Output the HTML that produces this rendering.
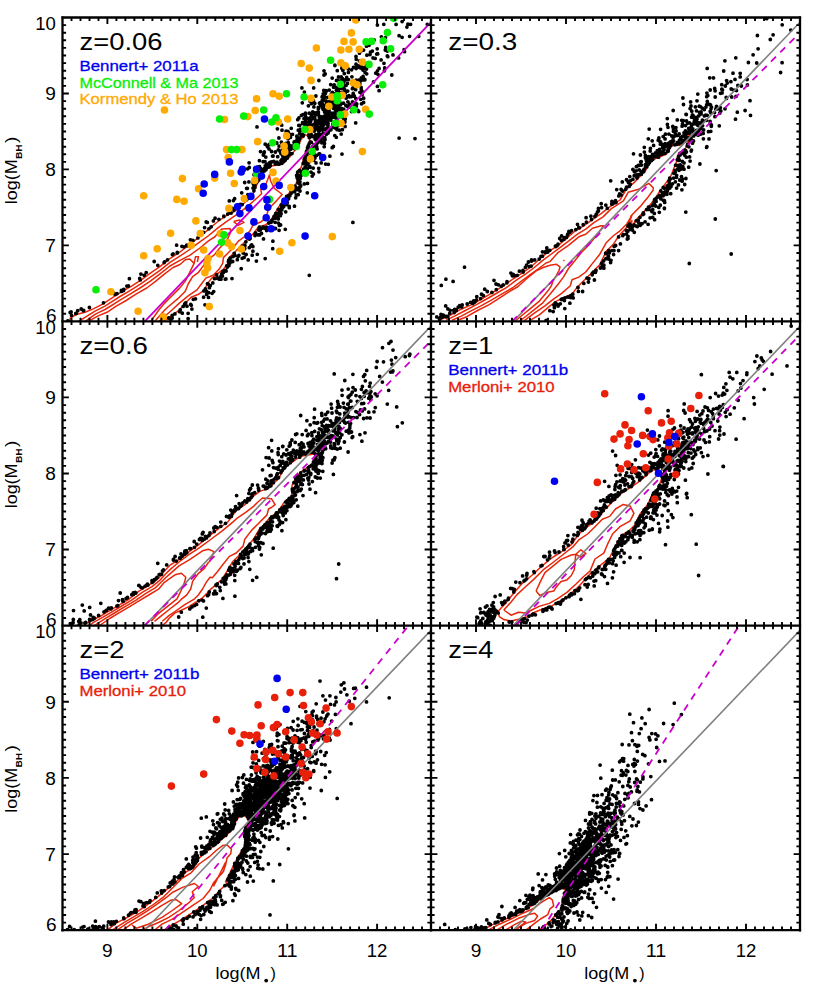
<!DOCTYPE html>
<html><head><meta charset="utf-8"><title>log(MBH) vs log(M*)</title>
<style>html,body{margin:0;padding:0;background:#fff}svg{display:block}</style></head>
<body>
<svg width="817" height="1000" viewBox="0 0 817 1000" font-family="Liberation Sans, sans-serif">
<rect width="817" height="1000" fill="#fff"/>
<clipPath id="c0"><rect x="62.5" y="17.5" width="368.5" height="303.9"/></clipPath>
<clipPath id="c1"><rect x="431" y="17.5" width="369" height="303.9"/></clipPath>
<clipPath id="c2"><rect x="62.5" y="321.4" width="368.5" height="304.2"/></clipPath>
<clipPath id="c3"><rect x="431" y="321.4" width="369" height="304.2"/></clipPath>
<clipPath id="c4"><rect x="62.5" y="625.6" width="368.5" height="304.6"/></clipPath>
<clipPath id="c5"><rect x="431" y="625.6" width="369" height="304.6"/></clipPath>
<g clip-path="url(#c0)">
<path d="M76 323L95 311.2L100 308.7L105 306.1L110 302.9L120 296.5L130 290.6L140 284.4L150 277.4L160 270.3L170 262.3L179 256.7L189.7 249.5L198.5 242.9L208.8 235.5L217.6 228.2L226.4 221.6L235.2 215.7L244 209.1L252.8 201.8L261.6 193.7L260.8 189.6L265.7 184.7L269.4 174.9L270.6 181L274.3 188.3L279.2 192L282.2 194.5L276.7 200.6L271.8 205.5L268.2 210L266 217.9L260.2 222.3L252.8 225.3L249.9 231.1L244 237L238.1 241.4L233.7 247.3L227.8 253.2L223.4 257.6L222.7 263.4L219 269.3L213.2 275.2L205.8 278.1L201.4 284L197 289.9L188.2 295.8L179.4 303.1L172 310L157.2 323" fill="none" stroke="#e8260a" stroke-width="1.5" stroke-linejoin="round"/>
<path d="M83 323L95 314.4L100 311.9L105 309.5L110 306.5L120 300.2L130 294.2L140 288L150 281.4L160 273.9L170 266L179 260.8L189.7 255.4L199.9 248L208.8 240.7L214.6 237L219 231.9L222 228.9L230 228.5L230.8 231.9L227.8 238.5L223.4 244.3L219 248.8L214.6 254.6L208.8 259L202.9 266.4L198.5 272.3L192.6 276.7L188.2 284L185.3 291.3L177.9 298.7L169.1 306L164.7 310L153.3 323" fill="none" stroke="#e8260a" stroke-width="1.5" stroke-linejoin="round"/>
<path d="M90 323L90.8 319.9L98.2 315.9L107 312.3L115.8 306.4L126.1 300.5L136.4 293.9L146.7 288L155.5 281.4L164.3 274.1L173.1 267.5L180 264.5L185.3 259.8L189.7 259L194.1 263.4L189.7 272.3L185.3 281.1L179.4 288.4L172 295.8L164.7 303.1L158.8 310L149.6 323" fill="none" stroke="#e8260a" stroke-width="1.5" stroke-linejoin="round"/>
<path d="M194.1 263.4L195.5 256.8L198.5 256.8L197.3 262" fill="none" stroke="#e8260a" stroke-width="1.5" stroke-linejoin="round"/>
<path d="M233.7 221.6L239.6 220.1L244 222.3L238.1 225.3L233.7 221.6" fill="none" stroke="#e8260a" stroke-width="1.5" stroke-linejoin="round"/>
<path d="M69 323L70.3 318.1L76.2 314.5L85 312.3L93.8 308.6L102.6 304.2L111.4 298.3L121.7 291.7L132 285.8L142.3 279.2L151.1 272.6L159.9 266.7L168.7 259.4L180 252L189.7 244.3L198.5 237.7L207.3 230.4L216.1 223L224.9 216.4L233.7 212L241.1 206.2L246.9 200.3L252.8 194.4L258.4 181L264.5 171.2L270.6 166.3L281.6 163.9L289 157.7L293.9 151.6L297.5 146.7L301.2 139.4L304.9 134.5L308.5 136.3L310 140.6L306.1 150.4L303.6 159L301.2 167.5L297.5 171.2L296.3 174.9L297.5 179.8L295.1 185.9L289 193.2L285.3 198.1L280.4 204.2L270 221.6L264.6 225.3L258.7 226.7L252.8 234.1L246.9 239.9L241.1 245.8L235.2 251.7L229.3 257.6L227.8 263.4L223.4 269.3L217.6 273.7L211.7 278.1L207.3 284L204.3 289.9L198.5 294.3L191.1 297.2L183.8 304.6L179.4 310L161.4 323Z" fill="none" stroke="#e8260a" stroke-width="1.5" stroke-linejoin="round"/>
<path d="M67.8 321h0M68.5 321.4h0M71.5 315.3h0M70.2 312.4h0M71.1 312h0M76.2 313.4h0M75.8 313.4h0M77.7 310.7h0M81.2 309h0M83.5 310.7h0M83.7 310.3h0M89.4 307.5h0M103.5 302.8h0M113.9 293.5h0M115.2 294.3h0M117 293.6h0M121.5 290.7h0M121.5 291.4h0M123.5 290.6h0M123.8 289.5h0M121.4 290.3h0M126.9 286.1h0M128.4 286h0M129.4 278.7h0M140.2 279.9h0M139.7 278.4h0M168.7 318h0M172.2 318.1h0M140.9 274.1h0M171 319.6h0M144.2 275.3h0M172.2 315.5h0M146.2 272.6h0M174.9 313.9h0M179.5 311.7h0M182.3 313.2h0M180.3 309.8h0M188.1 318.6h0M188.1 313.3h0M183.2 306.4h0M154.2 261.5h0M157.8 265.3h0M184.7 303.9h0M187 306.2h0M191.9 309.1h0M185.7 302.8h0M190.7 304.4h0M191.3 305.3h0M164.6 261.8h0M164.2 262.5h0M167.5 259.8h0M193.3 299.3h0M195.5 298.8h0M205 304.8h0M172.4 254.6h0M203.6 297.2h0M173.1 253.9h0M208.5 297.4h0M206.6 294.4h0M177.2 252.9h0M203.9 290.9h0M206.4 291.1h0M177.3 252.5h0M208.6 292.7h0M207.4 292.3h0M176.6 245.2h0M205.4 288.9h0M212.1 293.3h0M213.7 291.6h0M208.7 284.6h0M209.4 287.7h0M210.3 285.6h0M207.5 283.7h0M183.9 246.8h0M212.8 282.9h0M181.9 246.3h0M214.5 278.7h0M187.1 245.8h0M221 279.2h0M216.6 275h0M186.7 245.2h0M217.7 278.4h0M219.4 279.2h0M219.9 277.5h0M225.3 279.2h0M221.2 275.8h0M225.9 279h0M221.7 273.9h0M223 272.2h0M222.4 276h0M190.4 239.8h0M223.4 272.4h0M192.9 240.4h0M222.8 271.5h0M226.1 271.1h0M232 278.6h0M224.4 270.6h0M225.8 270.4h0M197.9 237.9h0M226.7 266h0M227.4 267.1h0M228.9 265.7h0M230.1 262.7h0M229.6 260.9h0M229 264.7h0M228.4 261.8h0M232.7 261.5h0M228.7 260.1h0M203.5 232.4h0M229.8 259.4h0M230.1 258.6h0M230.1 258.1h0M204.6 227.6h0M232.9 256.6h0M237.3 259.7h0M208.9 228.8h0M206.2 222h0M234.9 255.3h0M234.4 255.7h0M234.2 253.3h0M207.3 222.4h0M238.9 255.3h0M238.1 256.6h0M211.2 226.8h0M242.2 258.3h0M248.2 259.9h0M244.1 257.4h0M213.4 220.9h0M243.2 253.1h0M215.1 218.2h0M240.6 247.8h0M244 249.4h0M242 246.1h0M241.4 249.5h0M244.1 247.4h0M244.8 248.3h0M244.9 245.5h0M218.9 219.3h0M249.3 247.7h0M245.9 241.8h0M252.9 251.2h0M257.3 254.3h0M223.9 216.6h0M223.8 216.2h0M250.9 245.7h0M251.7 244.9h0M250.1 238.4h0M252.9 246.5h0M249.5 239h0M227.7 214.1h0M255 235.5h0M229.8 212.2h0M272.7 248.7h0M255 234.1h0M231.1 213h0M255.6 233h0M258.3 234.9h0M263.5 238.9h0M260 234.3h0M234 210.1h0M259.7 234.9h0M259.2 230.2h0M261.5 233.4h0M232.3 208.4h0M258.6 229.8h0M272.9 241.2h0M260.4 229.8h0M259.4 227.2h0M229.3 200.9h0M264.9 228.3h0M238.7 206.5h0M266.6 230.6h0M233.4 200.6h0M263.3 227.1h0M267.7 229.4h0M262.5 228.1h0M239.4 204.6h0M240.9 204.4h0M267.5 227.7h0M234.6 198.7h0M266.6 227.1h0M242.2 204.6h0M273.1 227.8h0M268.7 223h0M275.5 228.5h0M269.9 222.2h0M271.9 220.8h0M271 222.4h0M279.1 230.3h0M246.7 199.7h0M275.1 222.3h0M246.1 198.9h0M272 220.1h0M241.7 192.8h0M248.1 197.5h0M248.3 198.2h0M285.3 229.3h0M279.4 225.4h0M274.1 217.5h0M273.9 218.3h0M247.9 194.7h0M275.5 216.6h0M275.7 218.1h0M249.5 195.9h0M280.6 224.9h0M278.3 218.9h0M274 216.7h0M246.6 188.3h0M278.4 223.1h0M247.4 188.3h0M276.2 216.2h0M244.7 182.5h0M277.5 216.7h0M253.9 190.8h0M277.2 216.3h0M275.7 214h0M253 188.1h0M248.9 181.9h0M275.9 213.5h0M253.4 184.1h0M278.7 213h0M254.1 186.1h0M280.4 215.7h0M254.9 187.4h0M252.8 182.3h0M278.3 209.4h0M253.9 185.2h0M279.1 210.2h0M254.8 185.3h0M253.8 181.1h0M281.1 213.7h0M253 180.9h0M280.2 210.9h0M281.8 209.9h0M256.6 182.4h0M285.7 211.8h0M257.8 181h0M281.5 207.8h0M257.1 180.1h0M281.7 206.5h0M281.4 205h0M256 179.5h0M258.8 180.1h0M282.8 207.6h0M247.6 168.8h0M254 174.7h0M283.7 206.4h0M249.3 167.5h0M283.5 204.6h0M258.8 175.9h0M289.2 206.3h0M255.3 168.8h0M286 203.3h0M249.1 162.8h0M289.3 207.7h0M257.8 171h0M285.1 202h0M257.3 170.8h0M284.9 201.6h0M258.2 170.1h0M287.3 202.6h0M260.8 174.5h0M260 173.3h0M286.8 204.6h0M259.7 170h0M259.5 166.6h0M287.2 199.5h0M262.3 172.4h0M287 199.2h0M257.2 167.2h0M286.8 197.8h0M288.6 198.8h0M262.3 169.8h0M263.3 170.6h0M294.5 206.2h0M260.6 168.4h0M286.6 196.4h0M261.9 171h0M289.8 195.8h0M265.9 169.7h0M288.5 195.7h0M264.7 170.8h0M289.3 195.8h0M265.2 170.1h0M291 193.6h0M265.7 165.7h0M291.1 191.2h0M265.7 168.7h0M295.7 197.8h0M265.3 169h0M291.5 192.1h0M264.5 168.3h0M298.2 194.7h0M291.5 191h0M259.4 160.7h0M292.4 191.8h0M263.2 161.7h0M294.7 191.8h0M267.4 167.3h0M292.8 190.8h0M265.3 165.8h0M296.3 195.1h0M266.6 164.5h0M300 191h0M269.6 166.8h0M295.5 188.8h0M269.9 164.7h0M268.8 163.6h0M297.4 188.5h0M265 161.7h0M297.6 189.5h0M295.4 189.4h0M270.4 165.3h0M297.1 188.4h0M265.8 157.1h0M297.6 188.9h0M269.7 162.7h0M270.8 162.7h0M295.1 186.2h0M263.3 155h0M271.4 161.9h0M300 184.6h0M275.3 164.1h0M299.1 188h0M273.8 161.3h0M299.9 187h0M260.5 151.6h0M273.8 161.5h0M300.7 186h0M264.3 152h0M263.9 153.3h0M298 182.9h0M275.7 162.6h0M278.4 164h0M278.3 164h0M298.2 181h0M277.1 162.2h0M276.2 163.3h0M300 181.8h0M279.4 164h0M304.3 183.9h0M276.9 162.7h0M297.6 178.7h0M272.5 156.1h0M281.8 162.9h0M300.3 178.3h0M282 163.3h0M297.1 177.7h0M267.5 146.7h0M298.3 175.6h0M281.7 162.7h0M296.6 175.4h0M281.6 160h0M299 177.7h0M283.5 158.8h0M283.6 161.7h0M307.5 183.4h0M284.3 160.3h0M299 176h0M285.3 160h0M297.6 172.2h0M283.9 161.5h0M282.8 159.1h0M300.6 175.1h0M285.6 158.6h0M301.1 175.6h0M282.5 155.3h0M301.4 172.3h0M280.9 160.8h0M302.9 171.3h0M282.8 161.5h0M299.6 170.3h0M303.5 170.2h0M282.9 161.2h0M313.4 174h0M277.7 156.7h0M273.1 156h0M303.5 169.2h0M285.2 160.3h0M282.8 158.7h0M306.9 169.5h0M271.5 151.5h0M283.4 159.6h0M306 168.3h0M283.1 157.8h0M311 172.1h0M283.1 157.5h0M286 158.2h0M305.1 167.2h0M275.3 152h0M269 148.9h0M305.6 167.7h0M283.9 159.8h0M318.9 171.8h0M287.3 158h0M307.4 168.5h0M284.9 156.4h0M275.4 152.1h0M305.8 166.9h0M283.9 155.4h0M309.7 166.4h0M280.9 153.5h0M306.4 164.7h0M284.9 154.1h0M287.5 156.6h0M310.1 167.3h0M303.3 163.5h0M265.2 144.2h0M266.7 145.1h0M313.2 168.1h0M280.2 151.6h0M285.9 153h0M306.1 164.7h0M282 153.8h0M288.8 155.1h0M307.8 163.4h0M278.3 149.8h0M318.7 168.3h0M286.7 152.7h0M269.5 144.5h0M306.7 163.9h0M290.9 153.8h0M306.9 160.2h0M290.4 153.6h0M287 152.9h0M304.4 161.1h0M288.5 152h0M304.5 161h0M292 153.6h0M282.3 149.6h0M304.3 158.9h0M288.6 151.3h0M282.7 151.1h0M308.7 162.2h0M290.5 149h0M306.9 160.5h0M316 162.9h0M282.8 146.6h0M305 158.2h0M310.5 158.5h0M284.4 147.5h0M279.1 146.2h0M307.5 156.6h0M313.3 160h0M291 149h0M305.6 155.2h0M276.8 143h0M310.3 158.7h0M282.4 144.2h0M313.6 160.2h0M285.9 143.5h0M289.1 146.7h0M321.2 162.9h0M294.5 148.6h0M306.4 153.8h0M292.9 147.7h0M291.6 147.5h0M325.6 164.1h0M289 147.9h0M314.9 158h0M291 145.8h0M307.3 151.5h0M294 146.6h0M295.8 144.8h0M306.4 153.2h0M289 144.9h0M281.4 142.2h0M328.3 164.3h0M278.9 138h0M316.5 155.4h0M310.1 153.2h0M288.3 142.7h0M308 152.9h0M297.4 144.8h0M296.6 145.2h0M306.5 151.4h0M314 154.5h0M295.2 144.5h0M295.9 145.5h0M313.4 153.8h0M294.6 143.8h0M298.1 145h0M311 151.9h0M294.1 142.5h0M288.1 138.8h0M307.5 147.8h0M308.5 149.9h0M296.4 142.6h0M287.9 138.7h0M319.7 153.8h0M296.6 144.1h0M312.3 149.9h0M294.3 144.7h0M298.5 142.9h0M329.9 156.2h0M294.3 142.8h0M319 154h0M257 126.9h0M308.1 147.7h0M294.8 142.1h0M294.2 141.8h0M308.2 145.9h0M296.4 141.6h0M308.1 146.2h0M296.4 140.7h0M308.2 146.3h0M297.3 140.9h0M316.3 148.2h0M298.8 139.4h0M299.1 139.8h0M314.2 145h0M312.4 146.9h0M298.2 138.5h0M315.1 145.7h0M290.4 137.4h0M298.5 138.3h0M317.1 148.9h0M297.5 138.8h0M287.2 136h0M309.2 143.8h0M299.9 137.8h0M310.1 142.2h0M316.7 146.6h0M292.5 134.3h0M316.3 144.8h0M289.3 133.8h0M297.2 137.8h0M311.1 142.2h0M287.8 131.3h0M296.8 136.2h0M311.4 142.4h0M282 130.2h0M291.2 134.8h0M324.2 146.7h0M286.1 131.2h0M277.4 128.8h0M342 154.1h0M303.3 135.2h0M318 142.6h0M288.2 132.2h0M301.4 135.5h0M303.2 136h0M315.8 139.8h0M299.6 133.7h0M317 139.7h0M316.7 139.7h0M281.7 125.2h0M309.3 137.6h0M316 138.2h0M302.3 134.1h0M315.1 139.1h0M299.4 130.9h0M309.5 135.5h0M316.8 137.5h0M333.4 146.5h0M298.3 130.2h0M308.7 135.4h0M315.6 138.2h0M300.7 129.5h0M301.4 130.1h0M309.9 136.4h0M298.8 125.4h0M289.2 118.6h0M310.5 136h0M315.3 138.6h0M308.9 134.6h0M299.6 125.6h0M311.1 134.2h0M316.9 137.9h0M304.2 128.7h0M313.7 136.4h0M305.7 129.4h0M304.9 128.3h0M312.2 136.5h0M321.8 142.8h0M305.6 126.9h0M309 131.4h0M324.5 143.4h0M320.6 138.3h0M309.7 130.3h0M306.8 129.9h0M320.7 140.6h0M323.9 142.7h0M309.7 132.2h0M306.4 129.3h0M318.5 139.3h0M309.4 129.2h0M304.6 127.3h0M320.1 137.9h0M319.4 136.9h0M297.7 119.7h0M302.5 123.4h0M332.2 147.7h0M316.1 135.7h0M308.8 129.4h0M304.2 123.9h0M324 141.9h0M314.2 131.1h0M307.6 126.6h0M308.7 126.8h0M315.7 134.6h0M322.2 138.6h0M302.6 122.7h0M312.5 130.1h0M322.7 138.2h0M324.1 138.5h0M308 125.7h0M314.4 128.6h0M324.9 139h0M322.9 137.5h0M298.9 118h0M305.7 123.2h0M318.8 133.7h0M310.5 128.4h0M310 127.8h0M321.3 134.9h0M325 139.7h0M310.9 126.4h0M309.1 124.8h0M324.7 137.7h0M305.6 119.5h0M310.5 125.7h0M317.1 128.9h0M321.2 134.7h0M310.3 122.2h0M323.5 133.1h0M318 129.8h0M304 118.6h0M311.8 125.7h0M318.3 130.5h0M316 127.7h0M305.4 121.2h0M313.6 124.6h0M316.7 128.1h0M317.3 127.1h0M302.9 114.7h0M314.9 124.6h0M322.4 134.2h0M323.3 133.4h0M308.9 122.2h0M314.1 124.1h0M316.7 126.7h0M319.8 130.6h0M309.2 121.5h0M315.5 124h0M319.6 127.5h0M320.8 128.3h0M305.7 117.1h0M322.2 129.8h0M320.6 129.6h0M301.4 115.3h0M307.8 118.4h0M317.6 129h0M326.9 133.2h0M317.2 124.6h0M311 120.3h0M320.7 127.4h0M325.8 133h0M315.5 123.4h0M310.8 117.5h0M321.4 126.1h0M328.1 132.9h0M317.7 121.2h0M327.4 133.3h0M327.5 132.5h0M305.5 113.1h0M322.8 128.5h0M326.4 134.3h0M305.5 114.3h0M311.8 118.7h0M326.9 129.3h0M324.4 129.2h0M314.6 116.9h0M318.6 121.9h0M320.1 123.6h0M336.3 137.3h0M309.3 113.2h0M315.4 121h0M328.4 131.8h0M322.1 124.4h0M318.6 121.5h0M311.2 114.6h0M327.9 129.8h0M323.7 125.2h0M319.5 120.7h0M312.6 117.3h0M334.8 135.6h0M314.9 119.1h0M319.5 121h0M329.8 129.2h0M322.9 124h0M319 120.1h0M326.8 128.3h0M322.7 123h0M311.5 114.8h0M312.7 111.8h0M330.9 129.8h0M328 125.8h0M313 113.5h0M321.7 120.6h0M328.2 129.1h0M322.6 119.8h0M315.6 114.8h0M302.3 102.8h0M326.1 123.4h0M323 121.4h0M321.5 118.6h0M319.2 120.2h0M323.8 124.9h0M324.4 122.1h0M321 120.7h0M327 121.4h0M333.1 126.9h0M319.3 117.1h0M321 116.9h0M325.4 121.5h0M323.1 122.4h0M308.4 105.8h0M315.3 113h0M327.4 122.5h0M328.1 123.6h0M317.5 112.4h0M325.3 120h0M341.2 134.1h0M320.6 117h0M322.8 117h0M337.1 129.7h0M336.5 127.8h0M318.5 114.6h0M325.6 119.3h0M327.8 121h0M324.2 116.1h0M339.5 130.2h0M334.8 127.8h0M318.4 112.2h0M323.6 117.5h0M342.4 129.7h0M325.3 117.2h0M323.8 116.7h0M330.9 120.2h0M324.1 117.8h0M313.9 106.9h0M330.7 117.4h0M325.5 116.8h0M311.4 103.6h0M325.9 114.6h0M332.9 123.9h0M333.3 125h0M309.9 100.9h0M318.3 107.5h0M330.8 118.3h0M318.3 108.9h0M327.9 117.7h0M328.2 115.3h0M324.6 112h0M328 117.7h0M325.8 115.3h0M310.1 99.4h0M328.7 115.8h0M320.8 105.2h0M339 125.4h0M328.8 115.9h0M327.3 112.8h0M314.8 103.3h0M331.5 117.5h0M313.5 100.9h0M323.2 109.4h0M335.6 121.2h0M338.9 122.6h0M323.4 107.8h0M326 109.9h0M337.8 121.9h0M333.6 117.1h0M322.2 107.7h0M324.9 110.3h0M336.4 120.1h0M342.3 122.3h0M319.5 103.2h0M333.7 116.6h0M328.7 110.4h0M323.9 105.3h0M332.3 114.3h0M336.5 117.3h0M327.4 111h0M345.1 126.5h0M333.2 113.1h0M321.1 102.3h0M301.9 87.9h0M341.8 122.7h0M323.7 105.3h0M330.4 112.9h0M323.6 105.8h0M328.7 108.2h0M335.7 117.2h0M335.3 113.7h0M329.2 109.7h0M334.6 113.6h0M325.9 105h0M315.9 96h0M335.2 113.5h0M344.9 122h0M322.3 103.6h0M343.5 118.4h0M322.3 100.3h0M339.3 114.2h0M344 120.4h0M330.4 107.3h0M345.3 119h0M338.7 113.1h0M326.4 102h0M342 116.8h0M333.5 108.3h0M322.6 100.7h0M343.5 112.3h0M323.3 98.8h0M329.9 105.2h0M342.4 112.6h0M330.4 104.1h0M326 101h0M336.2 108.7h0M338.6 110.8h0M332.9 105.7h0M336.1 108.2h0M337.6 107.7h0M322.3 96.7h0M333.6 106.3h0M335.7 110.3h0M355.7 122.9h0M332.7 103.4h0M339.4 107.9h0M336.6 107.2h0M322.1 96.9h0M324.1 95.4h0M342 110.2h0M329.8 102.4h0M341 110.2h0M325.1 97.2h0M329.3 101.7h0M340.2 108.6h0M323.2 93.8h0M341.6 109.8h0M331.1 99.9h0M337.6 104.2h0M313.7 87.9h0M335.7 103.6h0M339.1 105.5h0M331.3 98h0M335.5 100.5h0M339.7 103.5h0M341.4 108.5h0M328 97.3h0M343.7 109.2h0M335.5 101.6h0M331.1 96.7h0M351.5 111.6h0M325.4 93.4h0M334.2 99.1h0M338.8 105.4h0M334 100.7h0M335.9 100.4h0M340.6 104.4h0M323.8 90.5h0M339.7 101.8h0M333.9 94.9h0M340.7 103.7h0M332.4 92.4h0M326.2 91.2h0M347.6 106.5h0M325.9 90.6h0M345.9 105.5h0M333.8 95h0M349.7 106.8h0M339.5 95.6h0M343.5 103.2h0M332.3 94.8h0M349.7 104.3h0M335.4 94.6h0M350.3 107.3h0M331.4 93.8h0M358.7 111.6h0M335.7 93.3h0M341.3 97.1h0M329.2 90.1h0M357.9 110.4h0M318.9 80.5h0M347.9 101.8h0M341.6 97h0M335.7 93.3h0M346.1 98.2h0M340.7 95.9h0M339.2 94.1h0M342 96h0M336.4 90.2h0M356.3 106.2h0M342 92.8h0M353.7 104h0M355 102.7h0M330.7 84.6h0M346.5 97.5h0M340.2 92.8h0M349.4 96.8h0M338.1 90.7h0M345.7 96.4h0M333.6 87.2h0M352.5 101.8h0M334.2 84.8h0M345 92.5h0M343.2 92.9h0M352.8 96.2h0M339.3 88.3h0M356.7 104h0M336.9 87.5h0M348.9 95.6h0M341.6 88.7h0M345.2 92.9h0M340.9 88.6h0M351.5 96.6h0M344.6 89.6h0M361.5 103.8h0M332.2 78.1h0M355.8 98.4h0M344.7 89.7h0M352.7 95.7h0M325.2 74h0M353.2 93.5h0M343.8 87h0M354.3 96h0M339.2 82.4h0M363.6 102.5h0M338.5 81h0M360.7 99.3h0M340.9 84h0M336.5 80.4h0M347.7 91.1h0M346 85.4h0M363.7 98.2h0M343.2 83.1h0M352.4 88.7h0M344.2 80.9h0M353.6 88.3h0M341.3 80.6h0M347.4 83.5h0M352.9 87.8h0M362.1 94.7h0M342.5 78.7h0M341.3 76.9h0M355.7 89.7h0M338.5 77h0M359.9 92.3h0M337.3 70.7h0M355.8 86.6h0M345.2 79.9h0M353.8 85.7h0M346.7 77.4h0M362.9 91.8h0M361.3 89.3h0M348.4 79.6h0M355.2 83.5h0M356.3 86.2h0M361.1 87.4h0M334.9 65.6h0M334.9 65.2h0M344.3 73.6h0M359.8 83.7h0M351.9 76.8h0M356.1 80.2h0M348.4 72.4h0M358.8 80.2h0M342.9 70.4h0M360.4 80.9h0M343.1 68.7h0M341.8 68.2h0M363.3 79.9h0M348.3 69h0M342.3 66.4h0M340 64h0M361.1 78.7h0M379.1 90.7h0M351.6 69.8h0M364.9 79.8h0M361.4 77.9h0M364.8 79.4h0M377.4 86.4h0M363.1 76.4h0M356.1 68.6h0M373.5 81.9h0M353.5 67.3h0M355.8 67.3h0M366.7 73.8h0M365.1 72.6h0M359.6 67.6h0M361.8 68.5h0M356.9 66.8h0M356 64.2h0M363 70h0M358.1 65.8h0M361.7 66.9h0M364.7 67.8h0M360.6 65.2h0M363 67.9h0M356.2 59.3h0M366.5 69h0M360.9 62.9h0M375.7 73.1h0M359.5 60.9h0M367.9 65.4h0M366.4 65.2h0M356 56.5h0M367.3 64.4h0M378.1 74.6h0M368.4 63.7h0M377.5 70.8h0M379.1 68.4h0M359.5 53.2h0M363.6 50.1h0M366.9 55.2h0M361.7 50.5h0M384.7 67.9h0M375.2 58.4h0M370 54.6h0M373 57.9h0M384 63.3h0M381.1 59.9h0M370.5 52.2h0M366.5 46.2h0M372.4 51.1h0M376.7 54.1h0M369 45.3h0M377.7 53.9h0M377.5 53.6h0M387.8 56.7h0M377.2 48.8h0M387.3 55.9h0M374.1 40h0M385.3 50h0M386.5 50.6h0M387.3 51.1h0M383.8 40.2h0M385.7 47.5h0M398.6 57.9h0M381.4 36.8h0M377.4 25.1h0M385.5 37.6h0M383.8 24.3h0M404.1 49.6h0M399.1 35.7h0M402.1 37.3h0M396.1 24.4h0M406.9 27.1h0M402.1 21.6h0M407.9 24.2h0M352.9 222.4h0M309.3 275.3h0M265.2 258.6h0M256.4 261.1h0M241.2 268.7h0M252.2 255.2h0M246.1 254.5h0M307.3 192.8h0M312.2 176.1h0M399.1 138.1h0M415 138.6h0M410.6 24.3h0M427.3 24.3h0M409.6 36.3h0M418.7 36.3h0M404.5 51.7h0M393 54.9h0M391.8 75h0M384.4 70.8h0M353.1 142.3h0M324 70.8h0M324 75h0M304.4 92.1h0M291.2 128.3h0" stroke="#000" stroke-width="3.8" stroke-linecap="round" fill="none"/>
<line x1="144.8" y1="321.4" x2="431" y2="22.2" stroke="#cc00cc" stroke-width="1.8"/>
<path d="M182.4 178.6h0M214.7 178.1h0M230.6 173.2h0M234.3 183.5h0M254.6 180.5h0M143.7 195.7h0M176.8 199.4h0M184.1 201.3h0M198.6 188.8h0M244.3 198.6h0M228.9 208.4h0M195.9 220.9h0M170.6 233.2h0M200.3 233.6h0M220.3 233.6h0M239.9 230.5h0M191.2 245.2h0M157.2 248.8h0M143.7 255.7h0M203.7 250h0M219.6 254h0M227.7 242.9h0M231.6 246.6h0M241.4 249.1h0M208.1 258.6h0M206.9 263h0M207.6 267.9h0M204.9 272.8h0M110.9 291.7h0M138.1 311.2h0M209.3 306.6h0M163.3 316.9h0M355.8 19.9h0M351.4 32.9h0M344 41.4h0M353.1 41.9h0M340.9 50h0M348.9 49.3h0M359.2 49.3h0M316.4 48h0M301.2 63.5h0M309.3 68.1h0M340.9 62.7h0M345.3 65.7h0M362.4 62h0M311 80.4h0M353.1 82.8h0M357 84.8h0M273 93.8h0M279.2 96.3h0M256.6 98.7h0M311 98.2h0M331.8 97h0M342.3 95.3h0M328.9 106.3h0M255.2 110.5h0M247.8 116.6h0M287.7 119h0M278.4 122h0M365.6 109.2h0M344.8 114.1h0M341.1 123.4h0M309.8 129.6h0M286.5 135.7h0M257.6 141.6h0M284.1 146h0M242 149.6h0M284.8 152.1h0M362.4 151.6h0M310.5 158.9h0M164.5 110h0M224.5 119.5h0M226.5 149.6h0M228.2 157.5h0M273 172.4h0M276 181h0M290.9 187.6h0M279.7 251.3h0M291.9 242.7h0M332.3 236.6h0" stroke="#ffaa00" stroke-width="7.6" stroke-linecap="round" fill="none"/>
<path d="M256.6 173.2h0M224 234.9h0M221.6 242.2h0M96 289.7h0M393.7 18.2h0M387.4 32.6h0M383.2 40.7h0M366.1 41.9h0M371.5 41.4h0M390.6 48.8h0M330.6 60.3h0M369 64.4h0M382.7 84.8h0M340.4 84.3h0M286.5 93.8h0M304.1 97h0M337.2 95.8h0M337.2 100.7h0M263.7 110h0M243.7 116.1h0M276 117.8h0M271.8 122h0M353.8 109.7h0M369.3 114.1h0M340.4 114.9h0M335.5 123.2h0M304.9 129.6h0M272.6 142.8h0M296.3 146.5h0M312.2 151.6h0M219.6 119h0M231.4 149.6h0M236.7 149.6h0M305.4 173.2h0M269.4 199.4h0" stroke="#08ee08" stroke-width="7.6" stroke-linecap="round" fill="none"/>
<path d="M214.7 174.4h0M241.2 172h0M204.2 184h0M203.2 193.3h0M250.9 196.4h0M237.5 206.7h0M249 207.9h0M239.9 213.6h0M253.9 221.9h0M248 236.1h0M264.5 119h0M322.7 157.5h0M242.4 169.2h0M256.6 169.2h0M229.4 161.9h0M261.5 176.1h0M263.7 186.6h0M279.2 185.4h0M266.9 199.9h0M284.8 201.1h0M267.7 207.2h0M266.2 217.7h0M271.1 228.8h0M314.7 195.7h0M305.1 236.1h0" stroke="#0000f0" stroke-width="7.6" stroke-linecap="round" fill="none"/>
</g>
<g clip-path="url(#c1)">
<path d="M446.2 320.2L455 315.9L465.3 310.5L475.5 305.2L485.8 299.5L496.1 293.5L506.4 287.6L516.7 279.9L525.5 274.1L534.3 267.5L543.1 260.1L550 255L558.3 248.8L568.5 241.1L577.1 234.3L585.7 229.1L594.2 222.3L602.8 217.1L611.4 208.6L623.4 200.9L628.2 192.3L638.5 189.3L648.8 183.4L653.2 187.8L653.2 190L647.3 198.1L639.9 206.9L631.1 215.8L628.2 224.6L631.9 215.4L626.8 224L620 230.8L613.1 236L606.2 242.8L599.4 254.8L592.5 263.4L585.7 272L578.8 277.1L572 279.7L570.3 285.7L561.7 293.4L553.1 299.4L544.6 306.2L534.3 313.1L524 320.8" fill="none" stroke="#e8260a" stroke-width="1.5" stroke-linejoin="round"/>
<path d="M452 320.2L460.8 316.4L471.1 310.8L481.4 305.6L491.7 299.9L502 293.9L512.3 288L521.1 281.4L529.9 274.8L538.7 268.5L546 263L550 261.6L558.3 252.3L568.5 245.4L578.8 236.8L585.7 234.3L592.5 228.3L601.1 225.7L603.7 225.7L601.1 229.1L596 236L589.1 244.6L582.3 251.4L575.4 260L568.5 268.5L563.4 277.1L558.3 284L551.4 292.5L542.8 302.8L534.3 309.7L525.7 316.5L519.7 320.8" fill="none" stroke="#e8260a" stroke-width="1.5" stroke-linejoin="round"/>
<path d="M457.9 320.3L466.7 316.7L478.5 310L488.8 304.9L499 298.3L509.3 291.7L518.1 286.5L526.9 278.5L535.8 271.1L543.1 267.5L550 265.3L556.5 264.3L560 266.8L559.1 270.3L556.5 275.4L553.1 280.5L551.4 285.7L548 290.8L539.4 301.1L529.1 309.7L520.6 316.5L515.8 320.8" fill="none" stroke="#e8260a" stroke-width="1.5" stroke-linejoin="round"/>
<path d="M563.4 260.1L564.4 260.8" fill="none" stroke="#e8260a" stroke-width="1.5" stroke-linejoin="round"/>
<path d="M440.3 319.9L449.1 315.9L459.4 310L471.1 304.9L481.4 299L491.7 293.2L503.4 285.8L513.7 278.5L524 271.9L532.8 265.3L541.6 257.2L550 250.6L558.3 245.4L568.5 236.8L575.4 230.8L584 225.7L592.5 219.7L601.1 213.7L609.7 206.9L620 200L626.7 188.6L634.1 182.7L645.8 170.2L650.2 161.4L657.6 157.7L666.4 154.1L672.3 145L679.6 145.3L689.1 140.1L688.7 133.5L691.3 137.2L684.7 149.7L678.1 154.1L676.7 161.4L673.7 168.8L670.8 176.1L663.4 186.4L659 192.3L653.2 201.1L645.8 209.9L637 218.7L631.1 227.5L631.9 220.6L625.1 229.1L618.2 236.8L613.1 244.6L606.2 251.4L602.8 258.3L599.4 265.1L592.5 272L585.7 278.8L577.1 287.4L572 294.2L563.4 297.7L556.5 301.1L549.7 306.2L539.4 314.8L529.1 320.8L526 324L440 324Z" fill="none" stroke="#e8260a" stroke-width="1.5" stroke-linejoin="round"/>
<path d="M436.8 316.9h0M439.4 318.8h0M440.6 317.1h0M439.6 319.4h0M441 314.4h0M442 317.2h0M443.3 315.1h0M446.5 316.9h0M444.3 316.2h0M447.7 316.5h0M446.6 316.5h0M447.9 308.9h0M449.8 313.2h0M450.2 310.3h0M454.2 312.6h0M453.7 310.3h0M456.3 310.5h0M454.7 309.3h0M458.2 307.2h0M456.3 310.2h0M459.7 305.6h0M461.7 306.9h0M462.2 304.9h0M467.2 304h0M470.6 302.4h0M472.8 303.6h0M471.9 302.3h0M474.5 302.3h0M475.1 301.5h0M473.7 300.8h0M476.4 300.1h0M476.8 296.7h0M480.6 298.6h0M483.4 295.6h0M481.5 294.2h0M482.1 294.6h0M484.7 289.2h0M487.3 291.5h0M491.9 292.4h0M496.3 289.7h0M496 284h0M494 280.3h0M498.4 284.8h0M501.3 286.3h0M503.2 284.9h0M506.9 282.8h0M507 281.7h0M510.9 273.1h0M512.3 275.5h0M512.7 275.9h0M513.2 274.4h0M514.4 275.6h0M517.2 275.3h0M546.1 320.5h0M519.4 271.2h0M523.1 272h0M523 270.5h0M549.8 310.7h0M553.2 311.6h0M526.6 265.1h0M525.4 267.3h0M529.3 266.6h0M554.4 307.7h0M553.9 305.1h0M528.4 262h0M555.2 304.4h0M555.3 302.8h0M531.1 266.1h0M558.1 306h0M557.3 304.5h0M560.3 303.8h0M531.5 260h0M531.6 261h0M564.8 308.6h0M534.7 259.9h0M561.3 299.5h0M539.2 259.1h0M562.3 299h0M569.9 303.2h0M564.4 300.6h0M565 297.8h0M541 256.3h0M542.5 256.2h0M568 297h0M570.3 297.4h0M542.5 251.8h0M570.4 296.4h0M570.8 297.5h0M573.2 297.9h0M570.7 295.6h0M572.8 294.2h0M545.3 252.4h0M545.8 251.5h0M572.2 295.3h0M547.8 252.1h0M546.8 247.9h0M549.8 250.3h0M548.3 250.9h0M578.4 291.4h0M578 287.5h0M582.6 291.5h0M583.8 283.4h0M555.8 246.5h0M555.4 246.1h0M557.2 245.5h0M558 244.2h0M588.4 282h0M587 278.1h0M559.7 238.5h0M561.4 240.4h0M561.6 235.9h0M588.9 278.6h0M594.4 280h0M564 239.2h0M592.2 274.8h0M592.5 273.2h0M564.3 237.7h0M593.4 272.2h0M566.5 237.4h0M595.5 272.3h0M568 233.8h0M567.5 234.9h0M596 270.3h0M568.9 231.5h0M596 270.5h0M569.9 232.3h0M600.4 268h0M601.7 266.8h0M602 267.5h0M571.6 230.7h0M601.2 267.1h0M602.8 267.7h0M603.9 268.2h0M575.8 229.6h0M601.7 263.4h0M603.9 265.2h0M579.5 227.8h0M603.6 260.9h0M610.6 262.5h0M608.7 259h0M578.8 227.3h0M605.9 258.7h0M607.6 257.9h0M608.5 256.5h0M606.2 253.4h0M611 260.3h0M577.5 224.3h0M605.7 253.6h0M605.7 253.1h0M609.3 252.9h0M609.3 251.1h0M583.2 224.7h0M583.2 224.8h0M608.6 250.7h0M613.6 254.6h0M614 250.6h0M586.4 222.2h0M611.9 250.6h0M586.1 217.7h0M618.6 250.6h0M614.2 246.4h0M615.6 245.5h0M590.9 216.2h0M591.5 219.5h0M594.9 216.4h0M620.4 243.9h0M618.6 236.9h0M596.2 214.3h0M622.8 235.7h0M597.5 211.9h0M598.4 210.9h0M598.4 208.4h0M627.3 239h0M623.4 234.6h0M628 238.6h0M601.6 207.7h0M626.5 234.1h0M628 236.4h0M627.8 231.2h0M626.3 230.4h0M601.2 203.7h0M607.3 208.3h0M630.3 229.4h0M605.8 205.1h0M632.4 230.1h0M629.7 227.3h0M634.3 232.3h0M628 226h0M632.3 227.1h0M629.5 224.2h0M611.7 204h0M630.7 225.3h0M634.1 225h0M612.3 204h0M637.3 226.5h0M611.9 201.3h0M635.6 225.8h0M614.2 202.7h0M640.2 225.3h0M638.9 222.9h0M616 202.5h0M638.2 220.4h0M636.2 220.8h0M642 223.7h0M615.5 200.7h0M648.1 224.3h0M619.6 193.9h0M618.8 195.9h0M645.1 221.8h0M640 217.3h0M616.7 189.6h0M642.8 214.5h0M643.7 214.1h0M643.3 212.9h0M621.1 194.9h0M650.1 217.8h0M622.6 191.1h0M654.6 219.7h0M621.9 190.3h0M610.7 180.8h0M652.7 217.3h0M621.1 189.3h0M646.5 209.6h0M625.8 189.2h0M651.9 211.5h0M654.3 213.4h0M649 209.4h0M622.3 181.9h0M649.3 207.1h0M652.7 209.7h0M626.5 187.1h0M648.5 207.1h0M659.3 212.3h0M629.2 186.4h0M652.4 205.7h0M627.9 181.3h0M630.4 184.6h0M653.3 204.6h0M628.6 182.7h0M630.3 180.8h0M658.8 207.4h0M655.7 206h0M626.5 179.7h0M654.2 203.8h0M654.2 202.3h0M656.1 201.4h0M660.3 205.2h0M629.8 176.6h0M664.4 208.5h0M664.4 208.1h0M654.5 199.9h0M654.8 199.3h0M632.9 179.4h0M656.1 198.6h0M664.7 202.4h0M657.6 197.1h0M637 178h0M659 196.9h0M637.6 176.3h0M660.8 198.8h0M635.8 175.2h0M663.3 200.3h0M634.3 171.5h0M634.2 175.7h0M664.4 200.6h0M638.9 174.7h0M659.6 195.3h0M636.7 174.8h0M663.7 195h0M632.9 169.4h0M663.1 195.8h0M662.1 195.7h0M636.1 170.8h0M641.4 174.3h0M660.8 191h0M641.2 171.7h0M662.6 192.9h0M636.4 166.7h0M685.8 212.1h0M639.2 169.8h0M665.1 191.8h0M643.7 171.7h0M667.1 192.3h0M643.8 170.5h0M666.9 194.3h0M643.6 169.8h0M670.7 193.7h0M639.1 165.4h0M663.3 187.4h0M667.5 190.4h0M644.3 169.1h0M664.4 188.3h0M638.4 165.5h0M641.4 165h0M667.2 187.6h0M640.7 161.8h0M667.1 186h0M667.3 186.2h0M641.2 161.6h0M669.7 187.3h0M645.5 166.3h0M669.8 188h0M633.5 153.8h0M646.8 166.9h0M647.4 164.6h0M671 186.4h0M645.4 164.6h0M669.2 181.1h0M648 164.5h0M670.2 184.4h0M648.3 164.3h0M669.2 182.9h0M649.4 162.7h0M646.6 161.6h0M672.5 183.8h0M647.7 160.4h0M668.9 181.1h0M647.6 161.1h0M676.6 188.1h0M640.4 155h0M681.9 189.8h0M645.4 157.7h0M670.4 178.9h0M646 159.2h0M670.1 178.8h0M645.4 155.5h0M678.4 184.9h0M649.4 159.7h0M651.5 160.5h0M675.4 181.8h0M650.5 159.1h0M669.7 178.1h0M648.5 156.6h0M644.4 152.1h0M673.7 178.1h0M651.8 159.6h0M651.5 156.5h0M652.2 156.2h0M652.8 159.3h0M652.5 158h0M679.7 180h0M652.8 154.7h0M676.6 175.3h0M652.5 154.3h0M676.5 177.3h0M655.6 156.6h0M684.7 184.5h0M650.2 151h0M682.1 181.2h0M644.3 147.3h0M673.9 173.3h0M657.1 156.6h0M682.4 179.2h0M657.8 155.7h0M681.5 176.6h0M650.4 148.3h0M675 170.5h0M658.6 157.2h0M675.3 172.1h0M659.3 153.2h0M655.5 152.9h0M658.8 154.6h0M685.9 178.5h0M659.1 153.6h0M679 169.6h0M658.6 155.5h0M657.3 150.7h0M677.7 169h0M658.9 153.3h0M679 170.3h0M661.8 154.3h0M681 169h0M658.8 151h0M675.6 165.2h0M659.6 149.4h0M653.6 145.4h0M652.2 140.8h0M662.1 152h0M679.9 166.6h0M662.8 151.7h0M678.1 165.4h0M648.3 138.8h0M680.3 164.8h0M664.9 153.4h0M684 169.2h0M668.3 151h0M664.1 149.5h0M660.3 144.2h0M682.9 166.7h0M662.6 147.7h0M679.6 165.2h0M667.6 151.4h0M677.3 159.7h0M660.8 142.7h0M678.8 160.4h0M662.7 146.7h0M684 162.9h0M665.4 146.3h0M688.7 167.2h0M663.3 144.8h0M658.2 140.2h0M679.1 159.6h0M667.7 145.4h0M678.2 158.6h0M668.1 149.2h0M682.3 161.3h0M649.2 129.1h0M660 141.4h0M678.5 156.7h0M669.3 147.5h0M665.1 143.6h0M668.4 143.4h0M680.1 155h0M658.9 138h0M680 153.3h0M670.9 145.4h0M680.9 153.2h0M671.9 142.8h0M681 153.8h0M669.6 142.7h0M681.9 152.6h0M665.1 138.9h0M686.3 157.2h0M670.9 143.2h0M684.8 155.3h0M670.4 141.8h0M689.6 156.9h0M663.2 136.6h0M690.1 161.1h0M674.8 144.8h0M684.3 154.1h0M699.9 164h0M676.9 144.3h0M672.3 140.9h0M683.9 151h0M677.4 142.7h0M684.3 150.5h0M660.6 129.3h0M684.7 150.1h0M686.4 152.1h0M665.4 134.2h0M685.7 150.6h0M673.6 141h0M677 143.5h0M716.2 170.6h0M679 143.6h0M677.7 142.4h0M691.5 150.2h0M668.9 134.1h0M673.1 137.4h0M682.2 142.7h0M688.9 146.8h0M679.5 140.1h0M675.3 134.5h0M691.2 151h0M671.8 136h0M687.3 145.8h0M682.5 140.7h0M683.6 141h0M675.2 135.8h0M687.6 144.5h0M680.8 137.7h0M673.4 131.3h0M677.7 135.4h0M685.2 140.5h0M668 127.3h0M682.4 136.5h0M676.1 130.9h0M679.2 134h0M692.5 143.2h0M673.2 128.3h0M689 138.9h0M685.6 138.5h0M686.3 137.9h0M667.4 124.5h0M690.3 141h0M685.9 137.8h0M688.3 138h0M672.8 126.4h0M690.9 141.3h0M675.9 127.6h0M693.5 141h0M685.9 135.2h0M692.9 141h0M684 132.8h0M684.4 134.9h0M686.3 133.9h0M691 138.5h0M687.2 132.9h0M685.4 130.9h0M667.3 118.6h0M706.6 147.4h0M682.1 126.2h0M690 133h0M688.5 133.1h0M693.7 135.9h0M682.5 123.8h0M706.9 146.7h0M688.3 131.8h0M698.1 135.2h0M690.8 130.7h0M696 134.2h0M685.6 125.6h0M690.1 129.5h0M693.6 131.9h0M688.7 128.4h0M695 134h0M681.7 120.3h0M703.4 138.8h0M677.3 119.9h0M697.7 133.5h0M683.3 120.7h0M692.8 128.9h0M700.4 134.2h0M691.2 127h0M696.5 130.5h0M689.5 122.9h0M687.7 123.1h0M698.5 130.8h0M693.2 124h0M692.4 124.5h0M703.2 133.4h0M699.7 129.2h0M686.5 121h0M691.6 124.6h0M709 138.9h0M693.2 123.8h0M700.4 128.2h0M686.3 114.5h0M700.7 128.5h0M697.5 124.9h0M696 123.8h0M697.8 125.3h0M694.3 121.3h0M708.5 131.7h0M686 114.3h0M697.3 122.4h0M703.6 129.9h0M695.7 122.3h0M697.9 123.9h0M702.6 125.8h0M692.4 114.9h0M700 123h0M696.4 117.4h0M710.8 131.3h0M694.2 118.3h0M691.6 117.2h0M702.6 122.2h0M696.5 118.3h0M697 119.1h0M702.4 120.2h0M693.4 116h0M703.7 121.1h0M691.8 111.2h0M698.7 115.9h0M710.2 123.7h0M690.1 108.6h0M711.3 126.3h0M683.5 104.5h0M711.4 125h0M696.5 110.8h0M706.5 120.3h0M701.1 113.9h0M710.1 121.5h0M691 105.9h0M719.3 125.8h0M701.1 112h0M705.7 115.2h0M682.9 98h0M704.4 115.9h0M699.5 112.3h0M690.6 101.9h0M707.2 115.3h0M695.4 106.9h0M702.3 108.2h0M704.3 109.5h0M714.9 116.7h0M710.8 112.8h0M700.3 106.6h0M705.9 107.1h0M699.3 106.2h0M711 108.8h0M697 100.8h0M710.2 111.3h0M707.3 104.5h0M714.5 112.6h0M706.7 104.7h0M709.5 104.4h0M715.8 109h0M719.8 113h0M710.5 104.9h0M711.5 107.2h0M707.3 101.4h0M697.8 94.1h0M717.9 108.8h0M716.5 106.4h0M706.7 96.7h0M716.9 108.8h0M707.8 95.6h0M720.8 110.9h0M720.3 107.7h0M706.9 93.1h0M735.5 119.2h0M725 108.8h0M715.2 97h0M710.2 90h0M714.7 88.5h0M720.5 93.3h0M715.1 90.8h0M726.5 98.4h0M722.1 92.9h0M726.2 97.3h0M721.8 89.2h0M722.5 89.8h0M709.7 77.8h0M731.7 97h0M721.7 84.7h0M736 96.4h0M725.3 86h0M731.2 89h0M727.2 83h0M736.5 90.6h0M733.9 90.2h0M726.6 80.6h0M730.9 81.7h0M737.9 85.5h0M723.7 71h0M741.4 86h0M735 79.4h0M733 73.2h0M747.4 85h0M740.2 76.9h0M747.1 79.5h0M740.2 73.3h0M724.9 60.8h0M735.8 57.8h0M748.4 62.5h0M756.7 63h0M753.1 54.8h0M758.1 48.8h0M757.4 35.5h0M773.1 34.8h0M782.2 24.8h0M790.8 30.1h0M464.5 267.2h0M445.9 279.2h0M453.1 281.4h0M441.3 285.4h0M445.7 305.9h0M715.3 219h0M731.2 254h0M689.3 263.5h0M766.7 18.7h0M770.3 39.5h0M782.1 62.7h0M780.6 72.5h0M707.2 68.4h0M713.5 77.9h0M673.2 110.5h0M750 100.7h0M750.5 115.4h0M745.1 110.5h0M737.3 112.2h0" stroke="#000" stroke-width="3.8" stroke-linecap="round" fill="none"/>
<line x1="513.3" y1="321.4" x2="800" y2="22.2" stroke="#7f7f7f" stroke-width="1.6"/>
<line x1="512" y1="321.4" x2="800" y2="32.6" stroke="#cc00cc" stroke-width="1.8" stroke-dasharray="7 6.1" stroke-dashoffset="0"/>
</g>
<g clip-path="url(#c2)">
<path d="M86.3 627.7L93.6 622.3L103 617.2L112.8 611.4L122.6 605.5L132.4 599.6L142.2 592.4L152 586.6L160.4 579.8L165.3 574.2L170 569.6L179 562L188.8 554.7L198.5 548.3L210 540L222.5 530.7L232.8 522.1L237.6 517.8L246.4 511.9L253.8 506.1L258.2 501.7L262.6 498L271.4 498.7L275.1 504.6L271.4 507.5L268.5 509L267 514.9L258.2 523.7L252.3 529.6L250 532.4L244.8 539.3L243.1 546.1L236.2 553L229.4 556.4L222.5 565L217.4 571.8L212.3 577.8L210 577.2L206.4 582.1L202.5 589L198.5 594.8L194.6 598.8L184.8 604.6L175 611.5L169.2 615.4L162.3 621.3" fill="none" stroke="#e8260a" stroke-width="1.5" stroke-linejoin="round"/>
<path d="M90.6 628.3L97.3 623.6L106.3 617.9L116.1 612L125.9 606.1L135.7 600.3L145.5 593.7L155.2 587.9L162.4 581L166.1 577.3L170 573.9L179 565.9L188.8 560.1L198.5 553.7L202.5 550.8L208.3 549.3L214 551.6L209.7 561.5L208.3 562.5L204.4 568.4L198.5 573.3L192.7 581.1L190.7 589L186.8 594.8L180.9 599.7L178 602.7L169.2 609.5L159.4 617.4L154.5 621.3" fill="none" stroke="#e8260a" stroke-width="1.5" stroke-linejoin="round"/>
<path d="M93 629L99.8 625.4L104 622.5L109.6 618.5L119.4 612.7L129.2 606.8L139 600.9L148.8 595L158.5 589.2L164.4 582.3L170 578.4L175 574.8L181.4 573.3L185.8 577.2L184.3 583.1L180.9 590.9L177 598.8L167.2 606.6L157.4 614.4L151.1 621.3" fill="none" stroke="#e8260a" stroke-width="1.5" stroke-linejoin="round"/>
<path d="M82 627L90 621L99.8 616.6L109.6 610.7L119.4 604.8L129.2 599L139 591.1L148.8 585.3L158.5 578.5L164.4 571.1L170 565.2L179 559.6L188.8 551.8L198.5 544.9L204.4 540L219.1 528.1L227.7 522.1L236.2 510.5L245 504.6L253.8 495.8L259.7 491.4L268.5 488.4L278.8 478.2L284.6 467.9L296.4 459.1L302.3 456.1L314 453.9L315.8 455.4L315.5 457.6L311.1 464.9L302.3 470.8L296.4 476.7L292 485.5L292 495.8L284.6 501.7L278.8 510.5L269.9 517.8L258.5 530.7L253.4 539.3L246.5 547.8L239.7 554.7L232.8 561.5L227.7 570.1L222.5 578.7L214 586.4L210 589.9L206.4 593.9L202.5 597.8L196.6 601.7L188.8 606.6L180.9 610.5L175 612.9L169.2 618.3L166.2 622.3L158 629L82 629Z" fill="none" stroke="#e8260a" stroke-width="1.5" stroke-linejoin="round"/>
<path d="M70.3 623.6h0M72 624.3h0M71.2 626.5h0M71.1 624.3h0M73.1 622.5h0M73.3 619.5h0M79.8 619.7h0M79.2 624.7h0M78.7 621.3h0M81 623h0M84.9 623h0M85.7 622.3h0M89.6 619.4h0M89.9 620.6h0M90.5 614.9h0M92.2 619.6h0M92.9 619.4h0M94.6 618.1h0M93.2 617.4h0M98.6 615.4h0M104 611.9h0M106.2 610.3h0M106.6 610.3h0M108.6 608.1h0M111.4 608h0M110.9 608.8h0M117 606h0M117.7 605.7h0M118.5 600.6h0M122.8 601h0M122.5 599.7h0M123.2 601.3h0M126.1 598.4h0M127.5 597.5h0M131.8 594.7h0M133.4 594.4h0M135.1 592.5h0M133.3 592.9h0M135.6 592.9h0M135.8 593h0M139.1 585.6h0M138.8 585.4h0M141 587.3h0M142.4 587.8h0M146.6 585.1h0M145.1 586.1h0M147.5 584.1h0M147.9 585h0M152.1 582.4h0M152.5 581.9h0M152 580.6h0M154.4 579.7h0M178.7 617h0M153.7 580.9h0M155.8 578.9h0M157 577.4h0M181.3 612.2h0M161.5 574.3h0M160.3 574.4h0M162.5 570.8h0M159.2 574.6h0M163.5 569.9h0M189.8 608.9h0M191.9 606.9h0M166.7 564.9h0M194.5 605.6h0M196.6 604.4h0M198.8 600.8h0M173.4 559.4h0M173.4 560.1h0M206.3 608.1h0M176.3 561.1h0M203.5 600.9h0M202.2 600.1h0M208.6 594.7h0M175.1 556.5h0M207.5 595.7h0M209.3 592h0M179.6 557.9h0M180.2 558.3h0M213.6 593.6h0M213.7 593.9h0M182.1 556.3h0M181 554h0M216.5 593.6h0M184.6 554.3h0M214.9 591.2h0M184.8 551.2h0M222.9 598.4h0M185.7 553.2h0M216.3 585.5h0M184.8 552.9h0M186.7 552.8h0M220.3 590.6h0M186.3 550.6h0M216.9 584.9h0M216 584.9h0M219.8 587.3h0M217.3 584h0M189.9 548.7h0M190.7 548.6h0M221.6 581.8h0M224.6 584.1h0M225.9 583.9h0M225 582.3h0M194.4 547.3h0M224.5 581.1h0M196.7 544.1h0M223.2 578.3h0M194.2 541.5h0M225.9 579.6h0M225.4 577h0M226.5 577.5h0M226.7 575h0M199.4 539.5h0M234.8 580.6h0M228.8 570.2h0M200.4 538.4h0M230.4 574.2h0M202.3 540.4h0M228.9 575.1h0M201.5 538.4h0M229.5 568.5h0M230.6 572h0M234.7 575.3h0M233.2 571.8h0M230 567.5h0M204.4 539.1h0M231.7 569h0M205.4 536.4h0M232.6 568.7h0M202.3 533.9h0M236.5 571.3h0M234 563.9h0M206.5 537.9h0M235.3 569.6h0M235.1 566.3h0M203.1 532.3h0M237.5 570.2h0M236.4 562.1h0M208.9 535.5h0M235.5 563.8h0M240.3 568.5h0M210 532.8h0M252.6 580.3h0M236.4 562.8h0M240.9 567.4h0M238.5 563.4h0M235.8 561.5h0M238.7 559.8h0M244 563.9h0M214.2 531.5h0M249.8 569.3h0M239.9 557.8h0M213.8 528h0M244.1 558h0M242.8 558.5h0M215.2 526.6h0M217.1 527.6h0M241.2 555.6h0M240.5 554.5h0M244.5 554.6h0M248.9 561.6h0M248.1 557.6h0M245.3 554.4h0M244.2 552.5h0M242.9 551.8h0M244.2 550.8h0M220.8 522.1h0M220.8 526.3h0M247.1 551.7h0M248.3 553.9h0M245.5 551.3h0M245.2 550.3h0M245.9 548.8h0M246.7 550.1h0M247.5 547.5h0M250.6 551.5h0M249.7 547.4h0M225.5 523.3h0M252.6 550.7h0M249 545.7h0M261.3 554.8h0M249.6 545.9h0M252.2 548.6h0M250 544.2h0M226.5 516.4h0M255.4 547.3h0M259.4 549h0M229.4 517h0M258.5 545.4h0M229.1 517.4h0M229.7 515.9h0M259.7 547.5h0M258.1 542.4h0M230.6 515.8h0M255.2 541.6h0M231.4 516.3h0M254.7 539.6h0M232.2 513.2h0M256 537.8h0M257.2 542.5h0M230.8 510.1h0M258 538.6h0M258.2 538.3h0M260.8 542.7h0M258.4 538.5h0M233.6 510.9h0M263 543.4h0M258.5 537.5h0M234.9 510.8h0M259.1 536.3h0M259.4 534.2h0M235 510.6h0M273.2 548.2h0M259.9 533.8h0M236.5 508.3h0M258.4 534.2h0M234.5 509.9h0M260.9 534h0M235.5 506.6h0M259.6 532.6h0M260.9 532.5h0M260.3 530.2h0M262.2 533.1h0M237.3 508.6h0M265.5 533.5h0M238.6 508.5h0M240.2 506.4h0M260.9 528.4h0M262.3 528.3h0M267.4 531.7h0M263.5 526.7h0M241.3 505.6h0M262.9 529h0M270.3 531.2h0M265.5 527.2h0M239.2 503.7h0M267.1 530.6h0M264.9 524.9h0M268.1 527.7h0M268.4 528.9h0M267.7 527.2h0M242.8 503h0M271.3 529.4h0M264.9 525h0M268.1 525.6h0M236.6 495.6h0M270.8 527.9h0M244.9 500.9h0M270.6 525.4h0M246.7 502.1h0M267.4 522.6h0M272.1 525.8h0M269.5 523.5h0M268.2 523.7h0M269.9 522.7h0M270.3 521.2h0M272.5 521.8h0M248.4 499h0M277.1 525.9h0M247.8 498.7h0M281.9 530.7h0M277.5 526.4h0M279.3 524.6h0M251.1 497.5h0M279.6 524.2h0M249.5 499.8h0M270.4 518.7h0M272.4 517.9h0M271.6 516.9h0M248.9 493.4h0M272.8 517h0M252.3 495.7h0M273.4 517.2h0M279 519.9h0M282.6 522.6h0M252.7 493.6h0M280.2 521.7h0M275 515.6h0M252.2 495.1h0M276.8 517.3h0M276.4 513.9h0M278.6 517.1h0M277.2 515.5h0M254.7 492.7h0M249.6 489.9h0M276.4 513h0M250.6 488.4h0M277 513h0M277.3 513.5h0M280 511.8h0M285.9 519.7h0M252.3 485h0M279.8 509.8h0M258.7 490.3h0M283.2 515.6h0M280.6 510.8h0M282.6 513.2h0M258.7 489.3h0M285.2 512.9h0M283 511.8h0M282 508.2h0M258.4 488.2h0M282.7 508.7h0M257.6 485.1h0M284.1 509.7h0M282.4 508.7h0M284.1 507.1h0M263.2 486.1h0M286.9 510.7h0M263.9 486.1h0M287 507.7h0M285 509.1h0M267.2 488.1h0M286.6 507.5h0M286.2 509.9h0M266.8 487.1h0M284.7 506.4h0M265.6 488.7h0M288.7 506.1h0M267.1 487.6h0M286.6 505.8h0M288 503.7h0M285.8 502.1h0M290 506.6h0M270.1 486.1h0M288.2 503.7h0M267 483.2h0M287.3 500.7h0M265.8 479.2h0M291.1 504.5h0M270.9 485.7h0M290.8 505.9h0M267.9 480.8h0M291.7 504.3h0M269.7 485.1h0M292.4 501.7h0M271 482.9h0M290.7 500.8h0M293.8 502.6h0M273.3 482.7h0M289.3 498.3h0M271.7 480.6h0M297.8 506.2h0M292.5 498.6h0M273 482.6h0M293.6 500.8h0M292.1 498.3h0M293.1 497.3h0M274.2 479.1h0M291.9 496.7h0M262.5 469.8h0M296.2 499.8h0M291.9 496.5h0M271.1 475.4h0M270.2 475.7h0M293.8 496h0M275.8 477.4h0M295.5 495.1h0M276.9 478.5h0M294.6 492.5h0M278.5 477.7h0M292.8 491.9h0M276.8 475.1h0M292.5 490.7h0M294.1 488.7h0M277.4 473.7h0M297.3 491.5h0M292.3 489.1h0M268.8 465.3h0M298 490.1h0M273.5 467.6h0M303 495.6h0M295.7 486.9h0M275.6 468.1h0M298 486.9h0M280.9 472.6h0M300.2 490.6h0M266.1 457.6h0M293.9 482.7h0M278.1 469.2h0M296.5 484.2h0M282.3 470.3h0M296.7 482.3h0M281.2 470.9h0M301.3 489.1h0M272.9 462.7h0M296.4 482.7h0M278.1 467.4h0M296 479.5h0M284.1 468.3h0M302.4 484.6h0M272.2 460.4h0M300.9 484.3h0M280.2 465.4h0M310 489.2h0M283.2 467.8h0M299.1 481.3h0M269.1 458h0M297.8 479.9h0M283.5 467.9h0M297.1 478.1h0M284.9 467.3h0M299.9 480.3h0M284.1 468.2h0M295.7 478.2h0M281.5 463.2h0M296.9 478h0M279.5 461.1h0M301.2 483.2h0M282.8 461.3h0M297.9 476.3h0M286.3 465.2h0M297.7 476.2h0M285 464.3h0M300.6 479.1h0M287.3 464.9h0M315.6 492.7h0M284.6 464h0M303.4 479.9h0M271.8 450.9h0M286.4 462.5h0M309 484h0M268.6 447.7h0M300.9 475.5h0M281.8 456.7h0M301.1 476.8h0M278.2 454.5h0M300.7 472.9h0M278 452.6h0M308.5 480.1h0M290.2 462.7h0M304.1 475.3h0M290 460.3h0M307.8 478.2h0M278.4 448.7h0M308.8 477.6h0M292.3 460.3h0M312.4 481.6h0M290 458.3h0M283.7 453.9h0M304.4 470.7h0M288.3 458.8h0M304.2 471.1h0M286.1 455h0M292.9 459.6h0M306.7 474.3h0M291.3 460.6h0M310.7 474.6h0M289.7 454.5h0M315.3 477h0M271.6 440.3h0M310.8 473.5h0M288.6 453.7h0M308.7 472h0M282.7 446.5h0M308.6 470.4h0M291.9 456.1h0M317.4 478h0M286.8 449.8h0M290.7 453.4h0M291.2 456.7h0M307.8 470.7h0M282.9 446.3h0M308.3 467.7h0M295.6 457.1h0M309.7 466.6h0M295.9 454.6h0M290.9 452.9h0M320.3 478.1h0M294 452.5h0M318.2 473.4h0M294.9 453.4h0M313.2 468.8h0M299.7 457.2h0M315.9 471.1h0M298.7 454.1h0M311.5 465.3h0M296.3 451.7h0M293.3 450.2h0M313.3 466.7h0M299.2 453.6h0M314.9 469h0M301.3 454.6h0M297.6 452.5h0M317.7 470.1h0M296.8 451h0M289.2 446.2h0M315.9 467.4h0M290.2 444.1h0M319.3 470.9h0M290.2 444.9h0M313 465.8h0M299.4 451.4h0M314 463.5h0M301.2 451.6h0M290.2 442.8h0M314.8 465.7h0M303.9 453.5h0M315 466.8h0M306.5 454.5h0M322.8 471.3h0M315.1 464.7h0M301.1 448.7h0M316.2 465.3h0M299.2 444.7h0M313.5 461.8h0M295.2 442.4h0M306.2 453.1h0M317.1 463.7h0M303.8 452h0M317 462.8h0M301.7 447.1h0M317.8 463.1h0M300.3 448.5h0M315.1 459.9h0M308 451.3h0M333.4 474.4h0M301.5 443h0M317.2 461.6h0M311.5 452.2h0M319.3 462.9h0M304 446.9h0M308.9 452.3h0M322 463.5h0M310.2 451.4h0M316.1 458.8h0M312 451.5h0M318.6 454.7h0M303.1 444.2h0M309.9 449.9h0M319.7 459.9h0M315.8 456.9h0M313.1 450.1h0M322.2 460.5h0M315.3 453.9h0M313.7 452.2h0M311.4 448.2h0M320.2 457.6h0M310.2 449h0M320.2 457.9h0M312.5 450.4h0M295.6 434.5h0M321.3 456.3h0M314.8 449.1h0M309 446.1h0M322.9 457.7h0M312.7 450.9h0M315 448.4h0M318.9 454.7h0M312.6 448.9h0M311 445.5h0M320.4 454.1h0M316.9 449.8h0M322.6 457.3h0M318.7 453.7h0M309.4 444.9h0M318.3 450.4h0M314.8 448h0M316.9 449.6h0M332.1 463.1h0M317.6 449.7h0M316.3 448.2h0M321.5 454.2h0M312.7 445.2h0M322.3 452.5h0M308 443.4h0M302.2 434.6h0M318.7 450.3h0M312.2 444.4h0M334.2 459.8h0M310.3 442.5h0M322.7 450.5h0M313.8 443h0M323.7 449.5h0M318.8 448.3h0M332.9 460.2h0M312.8 440.6h0M320.6 448.4h0M317.6 444.4h0M320.8 447.8h0M307.4 435.7h0M334.9 457.7h0M318.6 445.2h0M325.7 448.7h0M320.5 445.7h0M322.8 447.3h0M311.9 435.5h0M321.2 446.3h0M313.8 439.1h0M316.9 440.2h0M325.1 447.6h0M320.4 444.5h0M323.3 446.3h0M322.7 442.3h0M319.3 440.8h0M324.4 444.1h0M306.1 430.4h0M311.8 432.7h0M324.7 445h0M308.3 434.2h0M332.5 448.3h0M321.5 442.3h0M322.8 444.4h0M322.3 442.8h0M330.8 447.8h0M316.9 436.6h0M326.8 442.9h0M321.7 441.4h0M335.5 448.4h0M314.6 431.4h0M327.2 443h0M318.6 438.4h0M337.3 449.1h0M323.5 439.4h0M324.5 441.5h0M321.8 437.8h0M318.4 435.9h0M334.6 445.2h0M321 435.9h0M330.7 445.9h0M318.5 433h0M328.4 441.4h0M324.9 437.7h0M334.2 443.7h0M314.7 431.3h0M330.5 442h0M326 435.9h0M329.1 437.4h0M323.8 435.4h0M330.7 438.8h0M310.2 424.8h0M340.2 448.2h0M306.9 420.7h0M328 437.4h0M314.1 422.7h0M319.4 428.8h0M348.1 452h0M322.7 432.5h0M338.2 443.5h0M321.5 429.9h0M330.2 436.6h0M327.7 436.8h0M336.8 440.7h0M324.7 431.9h0M339 441h0M317.7 422.7h0M336.5 439.1h0M322.2 425.6h0M338.6 441h0M325.7 431h0M332.6 436h0M328.6 432.6h0M331.2 435.6h0M316.8 423.2h0M339.3 438.8h0M325 428.5h0M321.7 422.3h0M340.2 437.7h0M328.4 430.2h0M344.4 442h0M327.2 428.8h0M333.9 436.8h0M324.5 427h0M337.4 434.9h0M326.4 425.4h0M335.9 433.2h0M314.2 417.7h0M335.7 432.4h0M328.5 425.7h0M333.1 430.9h0M323.3 421.2h0M338.4 433.2h0M329.9 426h0M339.6 432.3h0M324.6 419.1h0M341.9 434.8h0M332.1 426.2h0M335 426.2h0M338.6 431.2h0M321.9 415.4h0M334.8 429.1h0M334.9 427.1h0M338.6 430.8h0M314.6 409.2h0M332.1 423.2h0M327.1 418.9h0M338.8 428.5h0M330.5 420.8h0M340.2 428.4h0M335.1 423.3h0M338.9 426.3h0M335.6 424.8h0M321.7 413.5h0M352.1 437.6h0M336.8 422.9h0M352.7 436.7h0M340 428.1h0M339.5 422.4h0M349 432.9h0M325.7 414.5h0M346.2 431.2h0M335.4 423.1h0M339.4 421.7h0M351.5 432h0M336 420.2h0M348.8 429.8h0M336.6 418h0M340 420.2h0M327.8 412.1h0M344.7 422.5h0M341.7 420.1h0M343.8 421.1h0M339.3 418.5h0M359.9 434.6h0M336.4 411.2h0M349.9 425.8h0M332 413h0M349.8 428.1h0M331.6 408.2h0M345.5 423h0M337 412.5h0M343.6 418.9h0M336.8 412.3h0M349.9 424.1h0M344.6 417.4h0M348.7 422.3h0M331.1 404.1h0M339.8 413.9h0M350.6 423.3h0M345.2 416.5h0M344.9 415.6h0M337.4 407.3h0M365 432.8h0M345.2 414.8h0M347.8 417.1h0M344.7 413.2h0M349.3 416.9h0M347.9 412.5h0M351.7 417.7h0M347.3 415.1h0M338.2 404h0M353.6 417.6h0M340.1 407h0M346.3 408.9h0M337.6 401.5h0M357 417.5h0M344 407.3h0M347.7 409.1h0M355.9 411.6h0M343.4 403.1h0M363.6 418.5h0M349.3 407.7h0M347.8 404.2h0M359.6 414.6h0M352.2 407.5h0M348.3 404.2h0M358 412.6h0M342.1 395.3h0M366.9 417.8h0M350.4 401.2h0M350.9 401.1h0M360.5 409.9h0M348.1 396.9h0M370.1 418h0M348.4 397.5h0M362.2 410.9h0M349.2 395.9h0M342 390.1h0M364.6 408.9h0M368.8 412.2h0M357.3 401.3h0M350.9 394.6h0M363.7 403.3h0M348.2 389.1h0M352.2 392.2h0M361.7 403.7h0M356 395.6h0M374 411.8h0M361.4 398.4h0M359.9 396.6h0M353 387.6h0M355.3 390h0M375.3 407.6h0M364.2 396.3h0M364.1 392.4h0M368.7 398.2h0M361.4 389.3h0M366.5 392.9h0M370.6 399.4h0M371.4 396.8h0M369.8 396.3h0M362.4 386.4h0M369.9 393.7h0M366.1 391h0M370.9 391.6h0M352.9 374.3h0M375.2 393.8h0M377.1 395.8h0M369.5 386.3h0M387.3 404.1h0M365.3 380.8h0M370.2 383.1h0M363.5 376.4h0M364.8 374.7h0M366.7 370.4h0M388.7 390.3h0M382.4 382.1h0M379.7 376.4h0M376.3 367.4h0M377.1 361.5h0M390.6 372.1h0M392.5 371.9h0M383.5 361.8h0M392.9 370.9h0M392 364.2h0M391.4 360.1h0M382.5 347.7h0M395.7 357.6h0M388.9 343.3h0M409.9 354.2h0M338.7 564h0M336.5 578.7h0M256.6 577.3h0M391 341.5h0M393 350.1h0M334.2 373.9h0M344.8 380.5h0M300.7 415.5h0M396.7 406.9h0M402.3 422.8h0M397.4 426.7h0M361.9 441.2h0M409.4 355.5h0M405.2 356.7h0M296.8 433.8h0M291.9 440h0M73.5 610.6h0M82.3 605.1h0M89.7 607.4h0M100.8 603.3h0M84.2 610.9h0M120.2 593h0M157.7 563.3h0M157.8 563.3h0M256.8 577.3h0M234.9 596.2h0M202.8 617.2h0" stroke="#000" stroke-width="3.8" stroke-linecap="round" fill="none"/>
<line x1="144.8" y1="625.6" x2="431" y2="326.1" stroke="#7f7f7f" stroke-width="1.6"/>
<line x1="144.5" y1="625.6" x2="431" y2="341" stroke="#cc00cc" stroke-width="1.8" stroke-dasharray="7 6.1" stroke-dashoffset="0"/>
</g>
<g clip-path="url(#c3)">
<path d="M503.8 610L511.1 602L517 594.6L525.8 586.5L533.2 579.9L543.4 569.7L552.3 563L562.5 555L572.8 546.9L578.8 539.9L587.6 534L595 526.7L602.3 519.3L609.7 516.4L615.5 509L622.9 504.6L630.2 506.1L633.9 513.4L630.2 520.8L619.9 526.7L612.6 534L608.2 542.8L603.8 553.1L595 559L590 571.1L583.1 577L575.8 584.3L566.9 592.4L558.1 598.3L549.3 603.4L539 606.4L531.7 610L525.8 613L518.5 612.3L511.1 615.2L503.8 610" fill="none" stroke="#e8260a" stroke-width="1.5" stroke-linejoin="round"/>
<path d="M536.1 591L540.5 581.4L544.9 572.6L552.3 566.7L561.1 559.4L571.3 555L575.8 554.2L580.9 549.8L586 553.5L580.2 557.2L575.8 554.2L575 561.6L574.3 569.7L571.3 575.5L566.9 579.9L561.1 581.4L556.7 586.5L553.7 591L546.4 592.4L539.8 595.4L536.1 591" fill="none" stroke="#e8260a" stroke-width="1.5" stroke-linejoin="round"/>
<path d="M497.9 611.5L505.3 603.4L512.6 594.6L521.4 584.3L531.7 575.5L542 566L550.8 558.6L561.1 552L571.3 544.7L578.8 534L587.6 526.7L596.4 520L603.8 510.5L612.6 501.7L619.9 494.3L628.8 488.5L637.6 482.6L646.4 475.3L652.3 470.1L658.1 469.4L662.2 473.5L661.8 478.2L658.1 488.5L652.3 494.3L647.8 504.6L640.5 513.4L634.6 525.2L628.8 531.1L621.4 535.5L615.5 545.8L609.7 557.5L590 574.1L584.6 579.9L578.7 586.5L569.9 594.6L561.1 600.5L552.3 605.6L543.4 608.6L534.6 612.3L527.3 616.7L519.9 618.9L511.1 621.1L503.8 619.6L499.4 616.7Z" fill="none" stroke="#e8260a" stroke-width="1.5" stroke-linejoin="round"/>
<path d="M480.7 626.7h0M479.1 624h0M480.8 624.6h0M481.9 623.6h0M485.7 624.4h0M489.8 627.6h0M485.9 621.6h0M489.4 620.3h0M486.2 615.2h0M488.8 615.4h0M488.5 612.3h0M489 613.7h0M493.7 618.2h0M489.7 611.4h0M492.2 609.9h0M493.9 611.6h0M494.8 613.2h0M509.2 622h0M502.5 604.4h0M504.8 601.1h0M511.8 621.9h0M516.9 624h0M508.1 599.4h0M508.5 598.2h0M519.6 620.7h0M523.4 619.1h0M522.5 620h0M523.8 622.2h0M524.5 618.6h0M512.3 588.7h0M527.3 620.1h0M513.8 592h0M526.1 622.6h0M514.4 589.5h0M510.7 588.4h0M528.9 616.2h0M532.2 615h0M533.3 613.9h0M515.8 582.1h0M535.4 614.8h0M520 582.7h0M542.9 611.3h0M542.9 610h0M522.6 575.9h0M544.4 609.9h0M524 580.9h0M526.6 578.8h0M525 580.2h0M526.7 575.2h0M546.8 609.9h0M527 573.4h0M546.2 608.6h0M549.7 607.2h0M548.6 607.3h0M551.4 608h0M552.1 609h0M534.3 572.6h0M556.1 603.6h0M533.9 571.6h0M557.8 603.2h0M558.3 602.7h0M560.4 604.1h0M560.7 602.5h0M562.2 600.6h0M563 599.9h0M541 565.9h0M542 565.5h0M565.9 597.8h0M569.6 595.1h0M569.1 596.7h0M571.6 594.8h0M543.8 556.5h0M545.1 556.5h0M571.2 593.7h0M547.5 559.8h0M574.4 593.7h0M549.3 557.7h0M549.5 552.2h0M575 590.6h0M549.8 555.6h0M580.9 599.3h0M577.5 590.8h0M578.5 590.3h0M578.3 589.4h0M579.7 587.8h0M554.5 551h0M555.1 552.5h0M559 552h0M587.3 587.1h0M585 584.7h0M588.2 584.4h0M586.5 578.6h0M563.8 549.6h0M585.4 579.6h0M563.6 546.6h0M594.2 585.9h0M564.1 549.6h0M588.6 577.3h0M590.4 577.8h0M565 542.9h0M588.8 577.1h0M565.5 542.9h0M594 581.1h0M595.7 580.7h0M566.5 540.6h0M568.3 545.2h0M592.4 572.9h0M592.7 576.2h0M567.6 540.5h0M594.8 573.7h0M567.9 535.6h0M572 541.9h0M607.5 583.4h0M596.2 572.1h0M595.9 570.2h0M597.6 571.8h0M601.5 574h0M572.9 539.2h0M596 570.4h0M602.2 574.6h0M604.5 576.6h0M599 566.8h0M598.4 567.9h0M573.9 534.8h0M603.2 569.4h0M602.2 569.5h0M577.3 535.4h0M612.4 577.8h0M605.8 569.3h0M578.3 534.1h0M605.2 565.9h0M605.2 565.9h0M605.2 565.1h0M578 532.5h0M604.8 566.3h0M577.9 527.3h0M580 528.1h0M613.6 571.8h0M580.7 529.6h0M606.5 564h0M607.2 561.3h0M582.3 527.4h0M608.5 559.4h0M581.4 527.7h0M608.2 560.4h0M582.4 530.3h0M609.2 562.9h0M585 528h0M612.5 563.7h0M608.5 560.5h0M610.3 559.5h0M582.3 525.3h0M612 559.3h0M616.1 565.2h0M613.2 560.8h0M613.6 554.4h0M584.1 528.9h0M614.6 557.4h0M624.1 562.3h0M581.4 525.8h0M614.7 553.3h0M613.6 550.8h0M616.7 552.3h0M583.1 522.7h0M620.7 556.7h0M586.3 525.8h0M616.1 554.8h0M619 553h0M614.1 549.7h0M586.1 525h0M615 548.3h0M582 520.2h0M624.2 553.1h0M588.2 523.3h0M615.9 546.8h0M630 557.5h0M616.2 545.8h0M617.8 546h0M621.6 550.3h0M589.7 521.4h0M621.9 550.3h0M589.1 521.1h0M617.8 545.2h0M591.9 522.9h0M618.4 544.7h0M590.5 521h0M621.7 545.4h0M619.8 544.1h0M594.1 521h0M618.1 544.5h0M590.1 519.8h0M618 541.9h0M620.1 543.1h0M618.1 541.8h0M595 519.7h0M621.6 542.4h0M596.4 519h0M618.4 542.3h0M594.5 516.4h0M624.4 543.1h0M595.1 515.6h0M621.3 539.6h0M620 538.7h0M593.1 515.3h0M625.8 541.8h0M595.7 517.9h0M622.6 540.2h0M597 518.1h0M622.7 538.3h0M621.9 535.7h0M598.8 516.1h0M621.4 537.9h0M598.8 513.7h0M624.5 536.3h0M599 515.6h0M625.1 535.9h0M622.5 535.3h0M597.7 512.9h0M627.9 539.7h0M625.3 536.4h0M634.1 542.2h0M600.5 513.8h0M628.4 537.5h0M626.5 533.4h0M601.3 511.6h0M634.2 540.5h0M632.2 537.3h0M596.2 508.2h0M630.5 534.9h0M637.2 541.8h0M602.7 510.1h0M599.9 508.7h0M631.5 535.7h0M601.4 509.4h0M632.4 535.5h0M603.3 510.6h0M628.8 531.9h0M629.5 532.9h0M603.3 507.5h0M633.4 531.4h0M635.3 533.8h0M639.9 539.7h0M604.7 506.6h0M633 530.9h0M605.8 506.8h0M634.1 528.5h0M640.1 535.4h0M606.4 507.1h0M605 506.4h0M638.9 533.5h0M604.4 505h0M640.8 534.2h0M600.6 500.9h0M637.7 533.1h0M634.6 529.9h0M605.9 501.3h0M634.8 528.7h0M603.3 499.9h0M638.6 530.8h0M607.3 501.4h0M641 531.7h0M605.9 500.3h0M640.7 530.7h0M605.1 501.2h0M635.7 526.7h0M610.4 502.1h0M639.9 530.7h0M643.8 532.7h0M610.3 501.4h0M638.5 523h0M609.2 499.4h0M638.1 525.5h0M636.2 522.9h0M636.9 524h0M609.1 496h0M644.1 527.8h0M638.6 524.1h0M607.4 497.6h0M665.5 544.7h0M649.2 530.2h0M612.7 499.9h0M645.3 526.1h0M639.4 523.3h0M613.5 498.6h0M637.7 521h0M612.8 498.2h0M640.2 520.5h0M614.7 498.4h0M639.2 518.4h0M614.7 499.3h0M645.4 523.9h0M611.1 495h0M639.4 519.3h0M615.6 496h0M642.7 521.9h0M643 521.2h0M612.1 495.5h0M652.3 528.8h0M652.2 529.4h0M617.1 496.4h0M643.7 518.8h0M640.3 516.4h0M615.3 495h0M643.8 518.7h0M641.6 516.2h0M617.4 496.1h0M640.6 515.8h0M642.5 515.8h0M608.9 486.4h0M659.6 531.8h0M646.6 517.2h0M643.3 512.9h0M618.7 494.9h0M659.9 529.1h0M619.3 494.1h0M643.5 513.8h0M614.9 489.5h0M642.7 512.6h0M618.2 492.6h0M650.9 516.8h0M651.1 517.2h0M604.6 481.3h0M643.9 511.2h0M644.1 510h0M615.1 486.6h0M653.4 519.6h0M615.6 484.6h0M648.3 513h0M620 487.9h0M646.2 511.7h0M618.7 487.1h0M650.6 518.4h0M621.7 491.4h0M645.8 510.6h0M618.7 487.3h0M646.7 508.6h0M645.5 508.8h0M624.9 490.2h0M667.9 527.2h0M620.3 485.7h0M653 512.8h0M616.9 481.9h0M647.4 508.3h0M625.3 489.7h0M648.5 505.4h0M655 512.9h0M623.8 490.8h0M653.7 510.3h0M649.3 505.7h0M667.6 521h0M649 507h0M624.9 485h0M657 515.1h0M651.8 505.9h0M622.9 481.8h0M648.7 504.2h0M620.3 481h0M662.2 515.5h0M651.4 506.3h0M629 486.6h0M654.1 507.8h0M615.9 475.3h0M649.4 504.6h0M650.9 504.4h0M624 482h0M656.1 510h0M627.6 483.8h0M656.2 507.6h0M624.6 479.4h0M652.9 506.5h0M622.7 478.6h0M653.3 503.4h0M631.3 486.6h0M651 500.2h0M622.8 479.4h0M657.4 507h0M655.1 503.4h0M631.9 485.2h0M657.4 506.1h0M620.1 474.8h0M672.9 517.6h0M625.6 480.2h0M655.2 503.9h0M671.4 514.7h0M633.8 481.6h0M658.1 504.6h0M633 482.8h0M651.9 497.9h0M625.7 475.6h0M668.2 510.7h0M629.1 476.5h0M659.6 504h0M659.3 504.2h0M622.3 470.2h0M664.9 505.7h0M620.8 469.6h0M653.2 498.1h0M626.6 472.8h0M663.9 505.1h0M652.8 495.5h0M632.7 478.4h0M655 496.3h0M631.7 476.8h0M654.5 495.1h0M653.5 493.2h0M622.3 469.1h0M654.9 493.9h0M659.7 498.8h0M617.2 465.3h0M656.3 496.7h0M639.7 480.1h0M659.2 497.9h0M657.1 495.6h0M639.8 479.1h0M657.6 495.4h0M631.7 472.5h0M654.6 493.2h0M654.5 492.5h0M637.2 476.5h0M664.6 500.9h0M657.1 491.7h0M640.1 478.8h0M628.1 468.4h0M658.6 494.7h0M657.4 495.2h0M639.1 476.6h0M655.7 494.3h0M667.5 503.7h0M637.9 476.1h0M660.3 493.8h0M640.7 477.7h0M615.6 455.5h0M656.1 490.9h0M657.5 489.9h0M632.2 471.6h0M691.3 514.7h0M635.7 473h0M635.7 472.1h0M660.6 488.5h0M641.9 477.6h0M658.8 488.6h0M642.1 477.3h0M668.4 495.7h0M630.9 468.4h0M667.2 494.7h0M677.3 502.7h0M637 473.5h0M665.8 492.4h0M639.9 473.9h0M658.8 488.2h0M632.2 468.2h0M663 489.2h0M638.6 473.2h0M659 486.5h0M646 474.7h0M671.9 494h0M631.7 464.6h0M612.6 451.1h0M662.8 486.2h0M666.1 490.1h0M640.6 468.1h0M664.6 488.1h0M670.2 491.6h0M642.8 470.5h0M664.2 487.6h0M669.5 489.8h0M646.2 473.6h0M660.2 485.9h0M646.2 471.9h0M659.6 485.4h0M677 496.9h0M646 473.5h0M664.6 485.1h0M644.2 471.7h0M674.6 491.9h0M646.7 472.2h0M666.6 486.2h0M644.4 469.4h0M647 470.6h0M673.5 490.8h0M638.6 467.7h0M671.8 490.2h0M647.2 470.3h0M672.3 488.5h0M646.5 468.9h0M651 470.5h0M662.7 481.8h0M635.4 459.8h0M676.7 491.1h0M646.6 468.3h0M643.2 467.6h0M663.8 477.4h0M650.2 470.5h0M645 466.8h0M665.9 480.3h0M687.2 497.7h0M650.6 469.7h0M663.6 480.5h0M650.7 469.1h0M663.4 478.6h0M651 467.2h0M667.4 483.3h0M653.5 467.4h0M662.5 477.9h0M665.5 478.5h0M652.1 466.3h0M664.2 477.3h0M651.8 463.7h0M662 476.4h0M662.3 474.7h0M656.3 468.6h0M656.2 469h0M663.3 474.2h0M649.9 462.3h0M667 480h0M664.1 474.6h0M653 465.9h0M678.5 487.3h0M658.2 467.8h0M668.2 478h0M654.4 464.6h0M663 474.6h0M668.7 479.4h0M654.6 463.6h0M666.5 475.2h0M653.7 463.9h0M665 471.3h0M658.9 465.9h0M662.9 469h0M659.8 466.4h0M670.1 477.4h0M657.2 464.9h0M665.8 474.3h0M648.5 455.1h0M664.7 471.2h0M660.1 462.5h0M671.4 475.6h0M670.9 474.4h0M658 462.4h0M662.3 467h0M666.8 468.6h0M664.2 469.2h0M662 466.7h0M669.5 470.2h0M674.3 479.5h0M661.5 463.9h0M665.2 468.4h0M662.9 467h0M668.3 468.3h0M659.6 460.7h0M654.2 457.1h0M668.3 467.5h0M663.3 465.7h0M667.9 467.2h0M650.8 453.1h0M655.8 455.1h0M669.9 468.7h0M660.4 459.9h0M670.5 467.2h0M657.5 456.3h0M660.9 458.9h0M667.2 466.4h0M663.1 460h0M663.1 460.6h0M678.5 474h0M655.7 455.7h0M667.8 465.6h0M656.1 453.6h0M669.1 463.8h0M676.3 470.2h0M667.4 463.3h0M666.3 462.6h0M675.4 470.1h0M675.3 469.7h0M663.2 458.6h0M685.4 480.2h0M664.2 455.8h0M676.8 465.1h0M663 458.8h0M674.2 465.6h0M675 470.1h0M655.8 449.6h0M679 470.6h0M663 455.4h0M676.9 468.3h0M663.1 453.9h0M672.2 462h0M668.3 456.7h0M671.6 461.1h0M670.9 459.7h0M663.7 455h0M678.4 466.6h0M670.2 460.6h0M667.6 455.7h0M677.9 467.1h0M664.8 455.9h0M680.1 466.7h0M653.2 441.2h0M672.7 461h0M662.5 448.9h0M670.8 458.1h0M672.5 459.5h0M659.4 445.8h0M665.4 453.4h0M680.6 464.5h0M665.4 453h0M661.6 450h0M675 463.2h0M683.8 468h0M668.5 455.4h0M665.4 450.8h0M677.1 461h0M681.3 466.1h0M670.8 455.2h0M672.1 459.3h0M670.2 454.9h0M678 460.3h0M665.3 449.1h0M674.9 456.5h0M671 455.7h0M679.9 461.8h0M670.2 450.8h0M680.7 461.7h0M670.8 451.2h0M672.7 454.9h0M681.2 463h0M669.7 452.3h0M670.6 451.7h0M689.1 469.1h0M647.4 430.1h0M679.8 460.4h0M681.8 459.1h0M657.8 439.9h0M682.2 460.9h0M674.5 453.7h0M664.7 442.2h0M691.8 467.9h0M676.6 451.5h0M683.2 458.3h0M675 451.5h0M679.9 456.1h0M676.4 453.3h0M685.8 461.6h0M659.5 436h0M679.1 455.6h0M669.5 445h0M681.8 452.9h0M672.7 445.6h0M685.8 458.8h0M669.8 445.5h0M682.4 454.7h0M677.8 451.1h0M684.7 456.5h0M681.2 454.4h0M677.7 448.2h0M684.8 456h0M669.5 440.1h0M693.2 463.5h0M673.6 445.3h0M681.8 452.9h0M675.2 444.8h0M687 457h0M668 436.3h0M677.3 442.7h0M688.6 456.7h0M670.9 437.8h0M680.9 451.6h0M684.5 449h0M676.5 445.3h0M682 449.4h0M681 448.7h0M682.9 451.9h0M675.6 442.5h0M692.3 458.2h0M674.9 442.3h0M693.6 456.8h0M681.6 447.1h0M683.7 451h0M668.5 434.4h0M688.3 452.7h0M681.6 444.9h0M685.2 446.6h0M668.2 432h0M691 453.1h0M682.8 444.4h0M686.7 448.4h0M671.2 434.4h0M685.6 445.7h0M678.6 438.8h0M687.2 448.7h0M682.5 443h0M695.7 454.5h0M673.8 434.8h0M689.6 446.3h0M676.5 434.4h0M690.6 448.5h0M678.8 435.8h0M685.9 444.4h0M672.9 429.4h0M694.9 451.7h0M683.6 442.6h0M688.3 446.2h0M680.3 434h0M689.3 442.9h0M686.1 441h0M693.8 450h0M683.3 438.6h0M703 456.6h0M677.7 432h0M692.9 444.6h0M682.9 437.7h0M689.5 442.1h0M674.5 428h0M691.1 442.3h0M682.1 432.9h0M701.4 452.7h0M678.7 431.5h0M697.9 449.5h0M683.8 437.2h0M697.8 447.8h0M683 432.3h0M688.8 437.6h0M693.9 442.5h0M680.9 430.1h0M687.4 434.3h0M700.3 447.8h0M688.2 433.9h0M707.9 455.4h0M680.6 425.8h0M695.4 441.3h0M688.4 433.4h0M689.6 433.1h0M694.5 440.7h0M686.6 431.2h0M696.1 439h0M668.1 410.7h0M695.2 439.9h0M692.5 433.9h0M699.6 439.1h0M684.1 428h0M696.2 437.5h0M689.2 429.5h0M696.6 436.4h0M688.4 430.2h0M697.2 435.8h0M688 428.8h0M692.4 432.9h0M705.5 442.4h0M696 432.8h0M695.4 431.2h0M696.7 433.4h0M691.2 427.3h0M704 440h0M694.8 428.4h0M691.8 427h0M690.6 421.7h0M697.5 430h0M698.9 432.4h0M692.5 423.9h0M709.3 441.9h0M695.7 427.6h0M701.4 433.8h0M696.2 428.3h0M704.5 431.7h0M689.5 419.6h0M709.7 436.7h0M685.1 413h0M698.3 426.8h0M706.2 431.1h0M683.7 410.5h0M706.9 430.9h0M695.4 421.3h0M696.5 419.5h0M703.7 428.6h0M694.9 418.3h0M701 423.3h0M703.8 424.8h0M700.2 422.2h0M718.6 439h0M704.2 423h0M697.9 419h0M705.6 423h0M684.2 403.9h0M709.6 429h0M700.9 419.5h0M704.9 422.5h0M706.2 421h0M715 430.7h0M719.8 435.1h0M697.1 411.4h0M712 426h0M701.8 413.7h0M699.8 415.1h0M719.6 430.7h0M710.8 422.5h0M707.4 419.4h0M724 434h0M707.6 415.8h0M708 419.4h0M713.4 418.7h0M703 410.9h0M719.9 427.1h0M713.3 416.5h0M711.3 411.8h0M717.8 421h0M705 407h0M712.6 413.6h0M707.4 407.8h0M708.6 410.4h0M713.4 409.1h0M717.7 408.6h0M719.1 414h0M716.5 408.4h0M726.1 416.6h0M720.5 410.1h0M720.7 407.4h0M725.3 412.3h0M710.2 397.6h0M719.6 406.5h0M722.3 407.4h0M727.1 409.7h0M730.1 414.2h0M718.5 396.1h0M723.3 404.6h0M715.6 393.5h0M744.1 418.7h0M734.3 407.8h0M722.2 395.1h0M724.7 394.1h0M723.2 393.2h0M723.8 393.6h0M723.8 387.4h0M738.2 400.3h0M726.9 390.3h0M725.9 383.8h0M738.2 390.8h0M730 377.1h0M732.8 378.8h0M740.8 388.2h0M740.5 383.6h0M743 380.6h0M746.8 374.6h0M746.9 372.8h0M758.2 368.5h0M772.1 374.2h0M762.2 359.9h0M763.4 361.3h0M770.6 351.5h0M787 365.9h0M492.1 616.9h0M487.6 619.8h0M482.8 618.4h0M480.1 608.8h0M494 610.9h0M494.7 613h0M488.1 624.2h0M487.9 615.7h0M492.9 612.1h0M477.2 628.7h0M486.8 613.3h0M504.8 602.6h0M483.8 612.5h0M494.1 626.5h0M477.7 617.7h0M494.3 616.6h0M490.3 625.3h0M494.9 615h0M489.1 613.3h0M493.1 606.7h0M496.4 611.2h0M493.6 606.8h0M480.7 620.9h0M493.3 602.6h0M490.1 621.1h0M477.3 617.6h0M490 614.7h0M492.4 620.5h0M480 623.1h0M494.2 609.1h0M487 605.8h0M485.4 607.1h0M495 609.8h0M488.3 611.5h0M488.3 612.2h0M488 616.8h0M486 613.4h0M489.6 609.5h0M498.2 612.9h0M480.7 612.9h0M492.4 617.6h0M485.8 623.6h0M479.8 622.4h0M487 622.3h0M492.6 609.3h0M489.4 614.5h0M480.9 612.7h0M501.6 602.6h0M491.2 617.6h0M500.2 594.9h0M476.9 617.2h0M491.9 605.2h0M481 621.9h0M495.1 596.5h0M485.2 613.8h0M696.2 544.2h0M698.6 575.5h0M707.9 474h0M686.4 494h0M658.5 523.4h0M640.1 557.7h0M791.2 326.1h0M756.9 356h0M761.3 357.9h0M754.9 361.6h0M759.8 365.8h0M701.3 374.6h0M729.2 372.4h0M736.8 372.4h0M764.2 389.3h0M753.7 397.6h0M754.4 404h0M736.1 439.2h0M723.1 466.4h0M668 416.2h0M701.4 374.7h0M723.4 466.5h0M686.7 493.4h0" stroke="#000" stroke-width="3.8" stroke-linecap="round" fill="none"/>
<line x1="513.3" y1="625.6" x2="800" y2="326.1" stroke="#7f7f7f" stroke-width="1.6"/>
<line x1="515.7" y1="625.6" x2="800" y2="334.7" stroke="#cc00cc" stroke-width="1.8" stroke-dasharray="7 6.1" stroke-dashoffset="0"/>
<path d="M604.7 393.8h0M698.9 395.5h0M690.8 408.5h0M648.2 410.7h0M661.5 422.9h0M671.2 421.2h0M625 424.9h0M631.6 430.5h0M620.1 433.9h0M614 439.1h0M629.1 439.6h0M627.9 445.7h0M642.6 435.4h0M650 436.6h0M653.1 439.6h0M669.5 432.7h0M678.6 433.4h0M667.8 437.8h0M676.9 444h0M668.8 446.2h0M643.3 453.8h0M668.3 459.1h0M627.4 464h0M620.6 468.9h0M634 469.7h0M645.8 467.7h0M675.7 474.6h0M597.3 482.4h0M654.8 499h0M594.1 514.2h0" stroke="#e8200a" stroke-width="7.6" stroke-linecap="round" fill="none"/>
<path d="M554.5 481.2h0M641.4 396.7h0M652.4 433.9h0M637.2 444h0M674.9 436.6h0M669 442.5h0M658.5 473.3h0" stroke="#0000f0" stroke-width="7.6" stroke-linecap="round" fill="none"/>
</g>
<g clip-path="url(#c4)">
<path d="M110.6 931.1L122.6 923.4L132.8 917.4L143.1 911.4L153.4 904.5L163.7 896.8L174 886.5L182.5 878L191.1 872.8L199.1 864L209.4 856.7L216.7 850L222.6 845.6L227 844.9L231.4 849.3L230.7 853.7L227 858.1L225.5 865.5L222.6 872.8L216.7 878.7L213.8 886L225.4 862.6L223.7 871.1L213.4 883.1L210 890L203.1 898.5L192.8 905.4L182.5 912.3L172.3 919.1L162 924.2L153.4 931.1" fill="none" stroke="#e8260a" stroke-width="1.5" stroke-linejoin="round"/>
<path d="M115.7 931.1L126.8 923.4L137.1 917.4L147.4 910.9L157.7 903.7L167.1 896.8L172.3 892.5L182.5 887.4L194.5 883.5L198.3 886.5L192.3 891.7L194.2 897.7L187.7 903.7L179.1 910.5L168.8 917.4L158.5 922.5L148.3 926.8L139.7 931.1" fill="none" stroke="#e8260a" stroke-width="1.5" stroke-linejoin="round"/>
<path d="M121.7 931.1L131.1 924.2L141.4 918.2L151.7 911.9L162 905.4L170.5 900.3L175.7 899.4L181.7 903.7L172.3 910.5L162 917.4L148.3 924.2L136.3 928.2L132 925.1" fill="none" stroke="#e8260a" stroke-width="1.5" stroke-linejoin="round"/>
<path d="M106.3 931.1L115.7 923.4L126 918.2L136.3 912.3L146.5 905.4L156.8 897.7L167.1 889.1L177.4 880.6L186 872L194.5 866.8L199.1 858.1L209.4 849.3L218.2 842L225.5 836.1L232.9 828.8L235.8 821.4L238.8 817L244.6 815.5L246.8 817.7L249 821.4L244.6 828.8L243.2 834.6L245.4 840.5L243.2 849.3L238.8 855.2L234.3 864L229.9 872.8L225.5 881.6L227.1 883.1L220.2 890L213.4 897.7L203.1 905.4L192.8 912.3L182.5 919.1L170.5 926L162 931.1Z" fill="none" stroke="#e8260a" stroke-width="1.5" stroke-linejoin="round"/>
<path d="M67.4 929.7h0M69.6 926.5h0M74.2 929.6h0M74 930.4h0M82.7 927.1h0M84 926.6h0M87.8 929.2h0M88.5 929.2h0M93.4 928.4h0M93.8 928.3h0M92.7 926.1h0M96.4 928.5h0M95.4 921.2h0M95.7 926.7h0M99.3 926.6h0M103.1 928.4h0M102.3 927.8h0M103.7 926.2h0M108.5 922h0M111 924.5h0M111.5 921.9h0M114.2 923.7h0M113.8 921.8h0M116.4 921.3h0M123.9 918.7h0M123.7 917.8h0M128.5 915.2h0M130.4 913.3h0M131 912.7h0M133.9 912.1h0M136 912.3h0M134.2 912h0M135 909.9h0M136.1 909.6h0M136.1 909.9h0M139 901.1h0M140.9 901.7h0M143.2 905.6h0M143 905.9h0M144.3 906.6h0M143.8 903.6h0M144.7 903.3h0M146.6 902.7h0M149.5 902.2h0M150.1 900.7h0M168.4 928h0M171.8 928.2h0M174 929.7h0M173.3 925h0M155.7 897.4h0M177.1 932.5h0M157.3 892.9h0M176.1 926h0M177.9 927.8h0M161.7 893h0M183.3 924.2h0M161.3 890.8h0M182.4 920.2h0M182.9 920.7h0M161.5 890.9h0M183.5 918.8h0M183.5 919.4h0M195.1 928.6h0M164.2 890.6h0M189.3 916.3h0M187 918.3h0M169.6 886.7h0M170.2 883h0M168.3 886.9h0M193 916.9h0M195.1 914.7h0M172.7 883.9h0M171.4 882.4h0M200.6 919.3h0M193.8 912h0M199.2 914.3h0M173.4 883.1h0M172.4 881.1h0M201.1 915.6h0M174.1 879.3h0M197.3 911.7h0M174.9 881.9h0M198.6 913.9h0M200 910.2h0M178 877.2h0M203.8 914.5h0M174.5 876.9h0M200 907.8h0M178.1 877.4h0M201.9 907.7h0M200.6 908.5h0M182.4 875.5h0M204.4 909.5h0M179.6 877.7h0M180 875.3h0M202.6 906.6h0M205.1 911h0M206.1 909.8h0M181.4 872.7h0M211.2 912.4h0M181.5 874.8h0M182.8 872.8h0M207.9 908.4h0M183.5 869.7h0M184.2 872h0M206.9 907.3h0M209.2 905.1h0M209.7 911.5h0M186.3 867.4h0M207.6 902.6h0M211.1 904.6h0M210.5 907.2h0M211.1 904.9h0M208.5 902.4h0M209.8 901.8h0M190.4 868.5h0M209.9 901.9h0M188.4 868.3h0M214.6 904.7h0M188.7 864.3h0M213.9 902.5h0M187.5 865.8h0M212.5 901.6h0M192.3 867.5h0M215.6 901.8h0M189.4 865.4h0M217.1 904.9h0M192 866.5h0M186.3 858.9h0M215.2 899.7h0M192.9 866.4h0M215.6 896.7h0M213.8 897.8h0M214.9 899.3h0M193.6 864.7h0M216 896.4h0M215.7 895.6h0M222.7 904.3h0M195.3 862.8h0M221.7 900.4h0M195.2 863.2h0M223.2 904.1h0M220.4 896.7h0M193 857.1h0M218.6 893.5h0M219.4 894.1h0M225.2 902.3h0M195.6 861.1h0M219.7 891.3h0M197.4 858.8h0M220.5 895.6h0M192.8 862.6h0M192.7 860.3h0M235.2 895.3h0M224.9 885.7h0M195.1 860.3h0M234.5 893.8h0M194.5 862.6h0M231.3 889.1h0M196.5 861.7h0M229.4 886.1h0M196.6 860.3h0M194.5 859.9h0M231.4 886.9h0M227.9 884.8h0M197.4 860.4h0M235.7 888.3h0M197.1 858.4h0M229.5 882.9h0M197.7 857.6h0M229.9 884.4h0M195.1 855.8h0M236 889.3h0M195.2 855.2h0M270 914.9h0M238.7 890.4h0M230 881h0M231.2 881.5h0M227.8 880h0M196.2 852.7h0M231.6 881.9h0M197.2 855.7h0M228.5 878.6h0M201.4 854.3h0M228.3 879.7h0M229.6 875.6h0M233.7 881.7h0M231.4 877.2h0M231 877.2h0M202.4 853.9h0M230 876.2h0M196.4 848.2h0M234.2 878.5h0M201.3 852.3h0M230.4 877h0M204.3 852.9h0M235.5 879.2h0M203.9 851.8h0M230.4 875.6h0M195.7 846.8h0M238.6 878.4h0M203.7 853h0M231.5 873.8h0M206.1 851.8h0M235.4 875.4h0M204.1 851.5h0M234.1 875.2h0M201.8 846.2h0M233.5 873h0M201.8 847.1h0M232.1 871.7h0M204.2 847.6h0M247.5 882h0M205.3 848h0M232.6 871.1h0M207.1 848.1h0M234.6 872.1h0M206.1 848.3h0M234.9 867.6h0M206.1 848.3h0M234.9 870.7h0M208.6 848.5h0M237.4 870.3h0M207.3 846.5h0M238.3 869.7h0M209.8 848.4h0M243.2 872.5h0M206.9 845.8h0M234.5 866h0M208.9 844.7h0M236.3 867.3h0M208.4 844.9h0M236.8 869h0M209.4 844.1h0M236.1 867.1h0M200.6 838h0M237.3 865.6h0M209.6 845.1h0M245.8 874.6h0M213.1 845.5h0M242.7 869.3h0M213.2 845.5h0M250.3 876.2h0M234.7 863.5h0M214 844.9h0M236.5 863.7h0M234.9 863.6h0M211.4 842.1h0M210.3 842.9h0M240.5 866.1h0M213.3 845h0M242.5 868.4h0M207.3 837.3h0M240.7 864.4h0M210.3 841.4h0M239.9 866.8h0M213.7 842.6h0M239.9 863.7h0M215.2 842.5h0M238.3 858.4h0M237.4 862.6h0M216.4 842.7h0M248.2 870.1h0M250.1 866.6h0M215.2 843.3h0M237.8 859.9h0M210.5 839.8h0M237.9 858.1h0M214.7 841.3h0M237.9 858.2h0M242 862.2h0M215.1 844.3h0M259.3 868.7h0M239.5 856.7h0M212.7 838.1h0M247.8 863h0M257.7 868.2h0M216.3 842.6h0M217.3 842.6h0M243.4 859.1h0M212.4 837.4h0M258.1 864.8h0M246.3 861h0M218.4 839.8h0M241.5 855.3h0M240.7 855.9h0M218.2 840.9h0M243.1 855.8h0M240.9 857.5h0M214.4 839.1h0M214.5 840.5h0M246.4 856.2h0M218.6 841.4h0M218.6 841h0M242.1 853.3h0M217 837.7h0M250.4 857.3h0M241.8 853.8h0M218.7 839.5h0M219 839.3h0M254.7 862.4h0M221.2 838.6h0M243.5 854.1h0M262.8 869h0M214 834.7h0M210 831.3h0M244.2 854.6h0M217.2 838.5h0M218 835.8h0M257.4 861.3h0M219.5 838.3h0M242.3 851.6h0M243.4 852.5h0M215 833h0M242.4 850.7h0M214.2 832.1h0M212.3 832.2h0M244.8 851.3h0M250.2 856.5h0M217.8 835.5h0M245.7 851.9h0M252.5 857.4h0M219.9 836.3h0M257.5 857.1h0M244.1 851.1h0M222.7 836.9h0M245.7 850.6h0M217.6 834h0M243.8 849.2h0M221.7 833.1h0M253.3 854.6h0M220.3 833.2h0M259.8 857.3h0M245.5 847.3h0M223 836.3h0M219.9 831.7h0M246 849.2h0M225.7 835.4h0M247.7 850h0M246.9 848.4h0M226.5 832.3h0M255.1 854.3h0M246.1 848.3h0M221.6 832.7h0M245.2 847.8h0M225.7 833.3h0M216.6 828.8h0M248.2 848.5h0M226.1 834.1h0M224.4 832.4h0M247.7 845.8h0M252.9 848.5h0M215.8 828h0M223.4 833.3h0M250.6 848.7h0M245.5 844.8h0M223.3 829.7h0M224 829.4h0M246 845.6h0M225 829h0M245.6 842.4h0M254.1 849.5h0M222 830.5h0M219.2 825.7h0M246.4 843.6h0M250 844.8h0M228.2 831.5h0M227.5 831.3h0M246.4 843.1h0M254.9 848.8h0M217.5 822.7h0M222.2 828.7h0M260.8 851.5h0M248.7 844.1h0M225 827.3h0M226 829.8h0M246 842.8h0M247.1 840.7h0M230.7 828.5h0M226.5 829.4h0M248.8 842.9h0M228.8 829.5h0M229.5 830.9h0M247 840.4h0M255.2 842.2h0M206.3 816.9h0M228.9 830.7h0M248 839.8h0M249.4 843.4h0M221.3 827.4h0M201.3 818.2h0M252.3 840.3h0M245.7 839.5h0M213.5 824.6h0M249.1 839.5h0M263.8 846.5h0M224 826.4h0M219.2 825.8h0M247.6 838.3h0M259.9 842.3h0M225.8 828.1h0M230.3 830h0M244.7 836.6h0M225.4 828.9h0M246.5 834.9h0M245.8 835.2h0M227.8 829.4h0M229.4 828.6h0M248.3 837.2h0M245.1 835.4h0M212.8 820.8h0M249 835.6h0M244.8 833.5h0M229.8 826.6h0M226.8 828.3h0M252.9 838.2h0M255.3 839.1h0M219.2 823.4h0M229.5 829h0M258.6 840.5h0M244.3 832.8h0M232.4 828.7h0M225.5 824h0M254 836.8h0M246.5 834.7h0M232.8 828.3h0M230.5 826h0M248.4 833.3h0M248.6 831.9h0M231.3 825.1h0M228.2 825.4h0M247.1 832.7h0M245.5 831.6h0M233.3 826.5h0M232.9 827.1h0M247.5 832.6h0M248.4 832.2h0M225.4 821.7h0M222.7 821.5h0M245.1 830.6h0M245.2 830.8h0M227.5 824.5h0M220.3 819.3h0M246.6 833.6h0M269.4 839.3h0M253.9 834.1h0M231.9 824.9h0M222.2 820.5h0M247.7 832.1h0M288.4 848.8h0M231.7 822.9h0M233.5 825.8h0M250.6 829.5h0M247.3 829.6h0M246.9 831.3h0M225 821h0M231.8 823.8h0M245.6 827.8h0M247.2 829.6h0M234.5 823.8h0M231.9 818.9h0M264.4 835.4h0M248.2 829.1h0M234 823.1h0M221.9 818.2h0M246 828h0M265.8 837.5h0M230.5 819.6h0M232.9 823.4h0M262.1 835.5h0M252.6 829.8h0M232.5 820.2h0M233.6 821h0M253.1 830.3h0M252.9 830h0M225.8 818.7h0M233.2 820.4h0M261.2 832.6h0M250.4 827.6h0M217.3 814h0M228.8 818.7h0M246.7 827.2h0M246.4 827.3h0M255.8 829.2h0M233.7 820.5h0M217.8 813.7h0M231.3 819.6h0M257.4 830.1h0M272.6 836.6h0M230.9 819.4h0M230.5 817.5h0M248.7 825h0M250 826.6h0M234.5 820.5h0M234.1 818.8h0M248.5 827h0M249.6 825.9h0M258.2 827.1h0M233.1 816.4h0M223.7 814h0M250.6 827.4h0M250.7 826.7h0M235.9 818.3h0M224.7 815.1h0M235.1 819.1h0M249.8 826h0M248.8 824.5h0M236.3 819h0M231.2 816.1h0M249.8 824.8h0M251.5 825.3h0M229.3 813.8h0M232.1 816.9h0M252.7 825.3h0M259.3 828.6h0M236.4 814.2h0M233.6 814.1h0M251.3 824.1h0M250 825.1h0M225.2 809.9h0M228.7 810.4h0M252 825.2h0M255.5 827.7h0M239.7 815.6h0M236.6 814.5h0M236.5 815.8h0M253.5 824.7h0M256.2 827.6h0M269.8 837.2h0M237.5 812.9h0M238.2 815.5h0M235.1 811.4h0M256.1 827.4h0M253.9 825.2h0M237.1 812.5h0M277.8 839h0M256.9 827.1h0M224.7 804h0M242.4 814.2h0M241.8 815.8h0M255.3 824.5h0M252 821.1h0M257 826.3h0M239.5 813.7h0M236.6 812.3h0M257.1 825.3h0M250.2 822.6h0M259.3 826.2h0M243.7 814.7h0M240.6 815.1h0M258.7 826.6h0M261.1 827.6h0M235 809.4h0M260.2 825h0M265.7 829.3h0M247.5 816.5h0M242.2 814.6h0M270.2 831h0M255.2 823.4h0M235.9 811.2h0M234.3 806.2h0M249.4 816.4h0M252.3 818.9h0M248.5 818.8h0M249.3 817.8h0M237.4 808.6h0M237.8 811h0M247.3 815.6h0M262 825.3h0M251.3 818h0M243 810.7h0M246.1 813.7h0M255.8 819.6h0M253.7 819.2h0M239.5 809.8h0M241 812h0M250.5 814.2h0M258.6 821.4h0M255 818.9h0M257.7 821.2h0M245.2 811.9h0M237.4 806.2h0M247.9 814.5h0M249.9 816.3h0M252.5 816.7h0M251.8 816.4h0M248.7 813.7h0M244.4 812.8h0M265.9 822.9h0M261.4 821.6h0M247.5 812h0M248.9 814h0M238.8 807.7h0M252.2 817h0M250.8 816.4h0M263.6 823.2h0M233.4 801.9h0M247.4 813.3h0M251.8 814.5h0M260.8 821.8h0M263 823.8h0M236.9 804.4h0M248 813.3h0M242.5 807.2h0M254.1 816.6h0M265.2 823.6h0M262.1 823.8h0M246.2 810h0M244.1 809.6h0M239.8 806.4h0M256.7 816.4h0M251.7 815.4h0M259.1 820.7h0M236 804.7h0M242.2 807.6h0M248.9 812.9h0M253.9 814.5h0M261.5 818.5h0M259 818.9h0M249.3 814.3h0M251.2 812.9h0M250.7 810.8h0M258.1 818.4h0M258.9 818.3h0M255.5 818.2h0M239.7 804h0M247.3 810.3h0M251.3 811.5h0M246.5 808.2h0M259.8 816.8h0M262.4 819.2h0M261.2 819.3h0M239.5 806h0M249.2 812h0M243.7 806.9h0M262.6 820.2h0M266.8 823.1h0M271.7 824.3h0M247.8 809.6h0M249.3 810h0M247.4 808.9h0M260.5 817h0M266.7 821.2h0M258.6 815.3h0M251.3 809.6h0M241.2 806.4h0M249.4 809.5h0M255.5 814.3h0M263.5 819.1h0M263.5 821.3h0M266.7 821.7h0M247.3 808.4h0M241.5 803.8h0M246.5 805.5h0M264.9 817.9h0M267 820.9h0M257.8 813.7h0M242.9 804.4h0M237.2 799.6h0M247.2 807.4h0M257.3 813.9h0M255.7 812.7h0M266.3 818.8h0M252.7 809.3h0M245.4 804.4h0M243 803.6h0M254.2 809.7h0M257.7 812.7h0M255.3 811.4h0M247.6 806.3h0M249.4 808.3h0M246.5 803.8h0M255 808.5h0M271.3 822.9h0M261.1 814.2h0M245.4 802.9h0M251.1 807.7h0M239.8 799.4h0M250.7 805.7h0M262.1 813.5h0M258.3 814.2h0M260.5 812.8h0M253.7 809.3h0M253.8 809.1h0M247 803.9h0M243.7 801.6h0M267.5 816.4h0M266.1 816.7h0M272.4 819.6h0M248.6 805h0M250.8 805.9h0M248.6 802.9h0M256.3 809.7h0M265.8 815.3h0M265 812.2h0M252.4 806.1h0M243.7 800.8h0M244.8 801.4h0M281 824.7h0M259.7 811.7h0M254.8 809.5h0M251.9 805.1h0M249.3 802h0M246.3 798.7h0M255.2 806.3h0M265.8 816.7h0M282.3 827.9h0M266.6 818.6h0M257 808.1h0M240.6 798.3h0M254.4 806.8h0M232.1 790.5h0M248.4 801.4h0M267.1 815h0M258.1 810.8h0M272.1 821.8h0M261.1 812.8h0M254.8 806.9h0M255.2 807.2h0M254.4 807.5h0M250.6 802.3h0M257.2 809.5h0M274.1 823.3h0M266.9 815.9h0M278.4 825.4h0M246.5 800.8h0M254.7 806.4h0M248.3 799.9h0M252.6 804.7h0M266.7 816.9h0M261.9 809h0M262.2 809.6h0M243.9 795.5h0M244.5 797h0M251.1 802.4h0M251.6 803.7h0M260 809.8h0M259.1 807.7h0M262.4 810.5h0M274.7 819.8h0M244.7 795.4h0M250.8 802.2h0M245.4 797.7h0M259.3 808.1h0M277.5 820h0M268.9 816.4h0M273.1 820.6h0M254.1 802.9h0M243.1 794.6h0M243.1 793.6h0M256.1 804.6h0M259.9 809.9h0M261.2 808.7h0M269.6 816.7h0M270.8 814.8h0M251 798.5h0M250.2 799.4h0M248.5 796.1h0M254.7 801.3h0M271.3 813.9h0M264.8 811.8h0M258.2 806.1h0M258.1 806.5h0M244.6 793.5h0M250.9 799.7h0M250.2 797.3h0M258.6 806.1h0M261.7 808.4h0M263.5 808.6h0M271 815.1h0M247.9 797h0M256.6 803.6h0M252.9 798.7h0M246.3 794.7h0M268.3 811.8h0M259 803.2h0M271 815.3h0M277.3 818.9h0M250.4 797.2h0M251.3 797.9h0M252.2 798.1h0M255.9 802.4h0M260.2 805.1h0M262.6 809.1h0M259.7 803.4h0M263.2 806.6h0M250.5 797.1h0M238.3 790.3h0M256.4 802h0M255.9 802.3h0M283.6 822.7h0M258.6 804.3h0M263.7 806.2h0M263.1 806.6h0M252.2 798.6h0M236.6 784.9h0M255.2 801.8h0M255.5 800.2h0M270.6 814.6h0M261.1 803.4h0M283.3 821.6h0M264.3 807.5h0M257.4 801.2h0M247.4 793.5h0M256.2 799.5h0M260.7 803.9h0M262.5 803.3h0M274.4 814.2h0M262.8 807.9h0M246 791.5h0M237.6 786.5h0M250.8 794.7h0M246.4 791.8h0M259.7 802.1h0M263.2 805.3h0M269.1 809.2h0M276.4 816.3h0M258 799.5h0M255.5 799.1h0M253.9 796.7h0M257.3 799.7h0M267.5 807.6h0M263.4 806.4h0M273.2 812.8h0M268 809.4h0M245.1 792.5h0M252.3 797.2h0M258 799.4h0M245.1 791.7h0M279.4 816.6h0M288.3 823.6h0M261 800.6h0M262.1 804h0M253.5 797.2h0M260.6 800.3h0M260.9 799.3h0M250.8 792.3h0M268.8 806.6h0M268.2 808.5h0M262.1 800.8h0M274 810.1h0M255.5 796.3h0M259.7 800.3h0M258 798.9h0M254.7 799.4h0M263.7 803.2h0M275.4 813.7h0M268.1 806.6h0M271 808.5h0M252.6 795.4h0M255.1 795.4h0M254.2 794.8h0M251.9 795.3h0M267.4 807.5h0M261.8 801.8h0M268.8 809.6h0M265.8 802.4h0M254 795.3h0M254.9 793.5h0M253.1 796.7h0M260.7 800.5h0M268.3 805.7h0M276 812.7h0M274.1 811.9h0M269.4 807.7h0M260.7 797.9h0M247.4 789.6h0M245.4 787.6h0M251 793.9h0M277.5 814.5h0M266 803.6h0M262.3 800.7h0M275.5 810.4h0M256.2 795.9h0M250.4 788.7h0M256 794.8h0M250.2 789.2h0M267.9 802h0M273.5 805.2h0M264.3 801.2h0M267.7 803.5h0M259.4 796.8h0M259.4 795.6h0M259.2 798.4h0M258.1 796.1h0M272.4 808.4h0M267.7 802.7h0M266.2 801.5h0M274.8 807.1h0M258.4 794.9h0M246 786h0M260 797.8h0M249.7 791.8h0M275.3 806.8h0M268.6 803h0M265.9 801.9h0M272.7 806.4h0M246.9 786.5h0M237.7 782.2h0M260.7 792.8h0M255.6 794.8h0M279.6 810.1h0M267.9 800.3h0M280.8 809.4h0M257 793.6h0M243.5 783.2h0M256.5 791.3h0M252.3 790.9h0M272 801.8h0M268.1 800h0M273.2 802.2h0M259.1 795.6h0M251.2 791.2h0M255.3 791.3h0M256.8 790.1h0M269.2 801.5h0M270.8 802h0M276.1 808.1h0M280.6 810.8h0M255.8 791.7h0M261.5 796.2h0M259.2 793.4h0M259.9 795.2h0M267.2 799.3h0M270.7 801.3h0M264 797.3h0M268.3 799.2h0M250.3 787h0M253.5 788.5h0M256.8 793h0M261.2 792.4h0M294 815.5h0M273.6 802.4h0M273 800.8h0M264 796.4h0M254.2 787.6h0M250.6 787h0M260.2 791.9h0M270 797.6h0M264.5 796h0M281.1 807h0M281.8 806.4h0M253.2 788.1h0M260.4 791.9h0M263.9 795h0M260.5 792.6h0M273 799.5h0M276.5 804.4h0M269.5 799.3h0M279.4 805.3h0M238.6 777.9h0M249.2 785h0M250.1 786.6h0M251 788h0M272.4 800.5h0M273.5 802.1h0M268.5 798.3h0M264.5 795.3h0M258.1 790.5h0M261.2 789.3h0M258.7 790.1h0M272.6 802h0M271.3 798.5h0M268.4 797.6h0M264.4 793.7h0M254.8 787.3h0M262.1 792.9h0M264.9 793.4h0M268 794.6h0M268.2 798h0M267.1 797h0M275 802h0M265.1 793h0M255.9 786.6h0M254.7 787.1h0M258.7 789.2h0M269.2 797.8h0M274.1 800.2h0M277.5 800.7h0M267.2 792.9h0M264.4 793.3h0M265.4 792.9h0M263.3 791.7h0M257.4 789.3h0M271.9 797.9h0M284.4 805.4h0M266.6 794.4h0M266.5 792.3h0M261.8 790h0M249.7 780.5h0M266.1 792.5h0M259.2 789.6h0M282.2 803h0M284.2 805.5h0M273.4 793.6h0M260.9 790.6h0M261.7 789.3h0M258.6 785.5h0M266.3 790.6h0M268.7 795.4h0M270.4 795.8h0M271.7 796.8h0M267.2 793.1h0M262 788.4h0M246.4 779.4h0M260.4 786h0M242.4 777.5h0M271.8 795.6h0M267.6 790.9h0M276.2 797.8h0M272.5 797.7h0M263.9 789.3h0M255 781.4h0M259.5 783.8h0M264.3 787.2h0M273.2 794.8h0M271 794.6h0M285.5 803.9h0M278.2 798h0M257.1 785.6h0M255.5 785h0M262.9 789.1h0M250.2 779h0M276.3 795.5h0M284.8 802.5h0M278.9 798.7h0M265.8 790.7h0M258.7 784.7h0M261.7 788h0M251.6 781h0M282.3 799.7h0M272.6 793.7h0M281.4 801.8h0M260.6 783.7h0M266.8 791.5h0M266.4 789.5h0M243.8 774.9h0M276 795.8h0M273.4 796.7h0M288 803.6h0M270 794.6h0M253.5 779.7h0M255.3 781.5h0M253.6 781.2h0M274.1 796h0M292.9 805.7h0M269.1 792.6h0M261.6 785.7h0M263.4 786.7h0M259.1 781.5h0M271.7 796.2h0M280.2 798.7h0M270.9 790.7h0M274.2 795h0M263.6 784.2h0M265 787h0M266.4 789.5h0M266.1 787h0M279.9 798h0M294.1 806.8h0M294.9 807.3h0M282.7 799.1h0M261 784.8h0M257.1 779.1h0M267.4 787h0M261.5 785.4h0M287.3 803.1h0M271.7 790.8h0M285.5 799.1h0M277.3 795.9h0M266.2 786h0M265.6 787.2h0M256.6 783.5h0M262.4 782.8h0M275.4 791.2h0M283.5 796.6h0M269.2 791.9h0M286.6 801.6h0M261.5 783.4h0M256.4 779.3h0M261 781h0M273.1 791.8h0M271.6 789h0M269.9 788.5h0M285.7 800.8h0M259.4 779.8h0M268 785.6h0M256 778.4h0M281.6 795.7h0M284.3 798.9h0M276.6 792h0M271.6 787.4h0M268.9 787.2h0M257.2 776.5h0M251.4 775h0M278.9 791.8h0M282 796.1h0M271.1 789.2h0M268 785.4h0M266.1 783h0M259.6 777.8h0M280 793.7h0M277.5 792.1h0M271.7 787.7h0M264.9 782.2h0M263.9 780.4h0M268.7 788h0M263.4 781.5h0M275.8 790.5h0M274.4 789.8h0M274 791h0M285.6 797.9h0M267.1 782h0M270.4 784.8h0M269.3 786.7h0M282.1 797.9h0M283.6 794.2h0M273.1 787.4h0M278.6 794.3h0M256.1 772.8h0M263.3 780.3h0M269.4 785.5h0M281.9 796.7h0M279.4 793.4h0M278.9 794.9h0M265.3 779.9h0M253.4 767.4h0M266.3 778.8h0M276 791.4h0M287.8 799.5h0M273.9 786.5h0M280.2 793.8h0M256.9 769.8h0M251.2 767.2h0M269.5 782.9h0M267.5 782.5h0M274.2 787.8h0M271.7 785h0M277.8 791.9h0M266.5 780.2h0M263.4 777.1h0M267.7 781.6h0M267.5 782.3h0M292.2 800.4h0M278.4 790.7h0M277.1 789.2h0M271.6 780.8h0M266 779.8h0M271.5 783.3h0M275.4 786.9h0M276.6 789.9h0M274.7 787.1h0M261.4 772.3h0M270 782.8h0M257 769.3h0M283 789.8h0M281 790.9h0M284.9 791.8h0M261.2 772.9h0M268.1 778.8h0M255.5 769h0M286.6 794.6h0M277.1 784.2h0M275.5 784.4h0M273.4 781.1h0M268.9 777.3h0M266.9 778.7h0M282.7 789.1h0M273.9 785.1h0M282.1 789.5h0M264 772.5h0M252.3 767.3h0M263.1 772.7h0M287.2 793.9h0M278.4 785.7h0M288.9 793.6h0M260.8 772h0M273.5 782.2h0M261.6 771.2h0M274.3 783.8h0M276.5 783.8h0M284.3 790h0M272.6 779.7h0M253 762.8h0M270.1 780.2h0M281.9 789.1h0M284.9 791.7h0M277 783.9h0M261.7 772h0M256.4 763.9h0M270 777h0M279.7 784h0M285 788.9h0M280.2 787.8h0M270.8 779.3h0M268.6 777.1h0M278.9 786h0M281.6 789.6h0M275.9 781.1h0M265.8 773.1h0M265.8 774.9h0M259.9 767.9h0M283.4 788.1h0M278.8 786.1h0M288.6 789.8h0M269.9 776.3h0M274.3 780.6h0M275.5 782.1h0M283.7 787.4h0M288 792.2h0M267.3 773.7h0M273.1 779h0M295.2 797.6h0M279.6 782.6h0M285.8 790h0M263.2 765.9h0M263.3 770.3h0M285.3 786.6h0M287.1 787.3h0M280.5 785.5h0M272.2 776.9h0M268.2 772h0M278.2 781.8h0M284.9 783.1h0M266.1 767.9h0M274.8 777.6h0M267.4 770.7h0M287.8 789.3h0M292.1 789.9h0M252.5 758.4h0M275.3 777.5h0M253.2 757.6h0M280.1 780.3h0M282 781.2h0M272.9 774.5h0M274.6 773.5h0M275.8 776.4h0M278.5 777.3h0M281.9 782.8h0M272.5 772.7h0M268.8 769.2h0M275.3 774.5h0M278.5 777.4h0M285.8 786.8h0M266.3 767.4h0M267.3 768.7h0M281.1 780.3h0M297.8 793.9h0M258.7 760.4h0M274.1 770.3h0M273.6 773.8h0M285.3 780.8h0M284.2 780.4h0M275.3 774h0M265.6 766.1h0M275 771.9h0M287.7 784.9h0M280.9 778.5h0M290.9 785.7h0M270.7 770h0M273.8 773.2h0M284 779.5h0M285.4 779.3h0M287.6 783.6h0M278.3 774.4h0M274.2 771.9h0M283.1 778.8h0M282.2 777.1h0M279.2 773.8h0M252.7 752h0M284.5 779.4h0M285.8 780.5h0M271.1 766.3h0M267.6 765.5h0M289.7 783.3h0M298.5 788.3h0M276 772h0M278.7 773.9h0M264.5 759.8h0M280.6 775.8h0M288 784.5h0M276.3 768h0M269.9 766.7h0M292.3 784.1h0M295.8 788.3h0M275.9 769.6h0M281 770.9h0M287.5 778.5h0M285.7 776.9h0M271.4 763.9h0M256.6 751.7h0M295.2 783.2h0M284.8 775.1h0M263.4 758.6h0M279.4 770.7h0M292.8 782.3h0M297.1 784.5h0M287.8 779.5h0M271.4 761h0M264.7 757.5h0M282.2 775.3h0M283.4 774.7h0M272.2 765.9h0M277.2 769.6h0M287.3 776.4h0M288.3 777.7h0M274.4 764.2h0M269.9 760.9h0M290 778.2h0M282.6 774.1h0M262.1 753.2h0M278.4 767.6h0M292.3 777.8h0M297.9 782.4h0M266.2 752.2h0M280.3 766h0M287.1 773.7h0M285.6 773.5h0M282.3 768.9h0M269.9 759.9h0M298.4 783.5h0M289.4 776h0M274.2 761.7h0M284.5 767.3h0M292.1 776.6h0M286.4 771.8h0M280.9 769.6h0M281.4 769.4h0M288 773.1h0M287.7 773.9h0M272.4 759.8h0M280.4 764.8h0M295.1 778.6h0M275.9 761.8h0M266.1 754.4h0M287.1 771.2h0M292.4 778.1h0M285.8 766.4h0M253 742.4h0M299.4 782.5h0M289.2 772.8h0M281.3 765.8h0M279.9 764.1h0M302.6 782.9h0M298.6 778.1h0M280 760.2h0M283.4 765.7h0M294 774.3h0M292 773.6h0M283 765.4h0M283.9 766.6h0M291.4 772h0M290.1 771.7h0M284.6 765.8h0M282.8 762.4h0M298.8 778h0M297.2 774.8h0M259.5 746.2h0M277.9 758.1h0M287.4 771.1h0M292 770.9h0M286.2 766.6h0M265 749.3h0M291.1 768.8h0M295.3 775.2h0M272.5 754.1h0M295 774h0M297.6 775.1h0M282.7 760h0M294.3 771.5h0M285.8 760.4h0M284.4 763h0M287.8 766h0M269.3 747.3h0M284.5 760.2h0M289.5 766.7h0M295.6 771h0M286.3 761.9h0M275.4 754h0M294.9 768.4h0M299.1 771.9h0M284.7 759.9h0M292.5 768.2h0M279.9 755.5h0M299.4 770.6h0M291.1 765.7h0M275 751.2h0M286.3 761.7h0M300.4 775.1h0M283.4 757.3h0M294.9 766.3h0M300.2 771.3h0M285 759.6h0M293.7 765.4h0M274.8 751.3h0M271.9 749.9h0M293.4 765.2h0M301.2 770.9h0M271.4 750h0M286.9 759.9h0M310.3 777.2h0M263.4 741.4h0M296.1 765.7h0M271.6 744.4h0M295.6 766h0M271.2 745.5h0M270.1 746.3h0M295.2 764.2h0M304.6 770.4h0M269.7 744.8h0M304.9 769.3h0M290.6 757.8h0M307.6 768.7h0M281.8 751h0M287.5 756h0M302.9 765.5h0M298.2 762.9h0M280.6 751.7h0M293.2 760.7h0M284 752.5h0M300.9 763.2h0M291.3 755.5h0M296.6 761.1h0M284.3 751h0M292.6 757.2h0M304.1 765.9h0M278 746.7h0M313.7 770.6h0M284.5 753.2h0M297.4 759.6h0M285.5 750h0M313.7 771.4h0M292.4 754.8h0M296.1 757.8h0M284.2 748.6h0M298 759.6h0M292.1 751.3h0M302.8 761.9h0M282.2 746.2h0M325.4 777.4h0M291.4 751.1h0M297.5 755.4h0M278 740.8h0M302.8 757.9h0M277.4 740.7h0M301.5 758.3h0M292.1 750h0M309.8 762.1h0M284.1 743h0M310.9 762.7h0M293.8 752.2h0M303.5 757.4h0M295.1 751.2h0M297 753.7h0M291.4 748.9h0M299.5 752.8h0M292.1 746.4h0M300.6 754.8h0M289.1 742.7h0M309.2 757.9h0M285.6 743.2h0M314.4 761.9h0M316.1 763.2h0M277.1 735.6h0M321.6 764.3h0M277.3 733.2h0M301.7 749.4h0M293.1 743.1h0M329.7 771.8h0M292.1 742.3h0M317.5 759.8h0M287 738.5h0M325.1 764.8h0M288.9 739.8h0M312.2 756.4h0M278.9 734.4h0M304.9 749.6h0M305.7 750.6h0M276.2 728.6h0M307.1 750.6h0M288.6 738.2h0M301.3 747.3h0M287.1 736.6h0M306.8 751.4h0M291.9 738.1h0M303.5 747.7h0M298 742.3h0M298.2 740.2h0M315.7 753.8h0M299.5 742.7h0M299.4 741.3h0M315.9 751.5h0M301 740.5h0M316.2 751.9h0M315.6 751.3h0M297.7 737.7h0M324.7 755.3h0M295 735.8h0M311.2 747.6h0M297.9 738.1h0M306.2 742.2h0M287.5 728.5h0M320.7 751.5h0M280 724.6h0M311.2 745.6h0M305.6 739.3h0M301.4 738.8h0M291.1 727.7h0M326.2 752.6h0M293.1 730h0M303.9 738h0M308.9 736.3h0M305.3 738h0M314.4 741.2h0M306.7 736.9h0M297.1 730.3h0M312.7 741.9h0M308.4 734.6h0M304.4 733.5h0M317.5 739.8h0M302.2 729.6h0M300.7 729.8h0M298.1 725.5h0M318.6 738.7h0M307.4 730.4h0M293.2 721.3h0M318 740.1h0M320 735.4h0M309.2 731.8h0M323.4 738.8h0M286.8 711.2h0M312.8 732.4h0M307.4 727.1h0M313 730.7h0M309.6 727.4h0M320.8 735.1h0M320.9 735.8h0M309.1 725.8h0M330.1 740.1h0M302.1 721.2h0M314.1 727h0M329.3 738.2h0M304.4 722.4h0M317 730.2h0M297.9 718.8h0M324.1 735.3h0M311.5 723.8h0M306.8 723.5h0M309.7 724.9h0M307.8 721.5h0M318.1 723.7h0M312.6 719.9h0M321.7 724.8h0M308.7 717.4h0M316.6 717.6h0M305.8 711.6h0M312.4 715.7h0M329.5 729.4h0M317.7 719.7h0M300 706.3h0M311.4 715.1h0M312.2 712.2h0M336.3 728.6h0M323.9 721.8h0M316.5 716.1h0M321.1 718.2h0M313.2 711.1h0M325.1 718.8h0M331.6 721.1h0M322.9 712h0M316.2 703.8h0M326.7 716h0M328 714.1h0M335.4 714.4h0M325.5 700.1h0M330.5 704.3h0M322.9 695.8h0M334.5 704.9h0M329.9 695.8h0M336.1 701.9h0M349.3 701.2h0M341.3 684.8h0M346.9 694.8h0M344.5 689h0M354.8 698.3h0M353.6 688.4h0M337.2 798.4h0M321.3 790.5h0M310 788.1h0M304.7 817.9h0M304.2 803.7h0M301.7 798.8h0M294.9 820.9h0M294.1 815h0M279.7 864.5h0M273.3 880.9h0M253.3 881.1h0M232.9 900.7h0M268.4 864h0M320 681.1h0M343.9 682.8h0M355.4 688.2h0M366.5 687.2h0M389.2 697.8h0M366.5 701.9h0M351 723.7h0M340.8 692.1h0M335.9 697.5h0" stroke="#000" stroke-width="3.8" stroke-linecap="round" fill="none"/>
<line x1="144.8" y1="930.2" x2="431" y2="630.3" stroke="#7f7f7f" stroke-width="1.6"/>
<line x1="165.3" y1="930.2" x2="408.5" y2="625.6" stroke="#cc00cc" stroke-width="1.8" stroke-dasharray="7 6.1" stroke-dashoffset="0"/>
<path d="M290.1 692.6h0M302.8 692.6h0M274.7 697.5h0M258 704.9h0M303.5 705.6h0M326.1 708.1h0M351.3 706.6h0M216.4 719.6h0M308.4 717.8h0M311.4 722h0M320 723.7h0M261.2 725.7h0M277.1 724.5h0M273.4 727.6h0M231.8 731.1h0M285.7 731.8h0M244.1 734.7h0M249.7 735.5h0M257 735h0M256.8 739.1h0M312.6 733h0M316.8 735h0M328 731.8h0M337.1 733h0M294.2 739.9h0M326.6 739.1h0M239.9 743.3h0M302.1 747h0M266.1 751.9h0M272.7 750.2h0M278.3 753.8h0M307.7 753.8h0M254.3 757h0M265.6 759.5h0M285.7 757h0M301.1 763.6h0M256.8 768.5h0M264.9 772.2h0M273.9 775.9h0M302.8 772.2h0M308.9 774.1h0M305.8 777.8h0M203.7 774.1h0M171.4 786.1h0" stroke="#e8200a" stroke-width="7.6" stroke-linecap="round" fill="none"/>
<path d="M277.1 678.4h0M286.2 709.3h0M260 744h0M274.7 761.2h0" stroke="#0000f0" stroke-width="7.6" stroke-linecap="round" fill="none"/>
</g>
<g clip-path="url(#c5)">
<path d="M486.2 931.1L499.4 924.2L512.6 918.3L522.9 913.2L533.2 908.8L540.5 902.9L549.3 897.7L552.3 899.9L553.7 905.8L550 908.8L547.8 914.6L540.5 919L534.6 923.4L528.8 927.8L523.6 931.7" fill="none" stroke="#e8260a" stroke-width="1.5" stroke-linejoin="round"/>
<path d="M495 931.1L506.7 924.2L518.5 918.3L528.8 914.6L534.6 913.2L537.6 916.1L534.6 920.5L525.8 923.4L518.5 927.8L514.8 931.7" fill="none" stroke="#e8260a" stroke-width="1.5" stroke-linejoin="round"/>
<path d="M503.8 931.1L514.1 924.9L521.4 921.2L525.8 922L519.9 926.4L513.3 931.7" fill="none" stroke="#e8260a" stroke-width="1.5" stroke-linejoin="round"/>
<path d="M481 931.1L492 924.9L502.3 920.5L512.6 916.1L521.4 911.7L531.7 905.8L539 899.9L546.4 895.5L552.3 892.6L559.6 888.9L564 888.2L565.5 890.4L564 894.1L562.5 899.9L561.1 908.8L556.7 913.2L552.3 919L547.8 923.4L542 927.8L536.8 931.7Z" fill="none" stroke="#e8260a" stroke-width="1.5" stroke-linejoin="round"/>
<path d="M441.4 930.8h0M455.3 929.7h0M464.9 929h0M466.8 928.6h0M466.2 929.4h0M470.9 927.6h0M475.1 928.8h0M477.9 927.9h0M475.6 926.4h0M478.7 928.6h0M481 929.8h0M479.1 930.5h0M481.4 926.9h0M483.7 928h0M485.8 927.6h0M486.8 919.9h0M488.8 923.5h0M490.4 924.5h0M495.3 922.9h0M495.2 922.5h0M497.9 921.9h0M497.9 916.9h0M498.9 917.4h0M499 914.7h0M501.8 918.6h0M502 919.9h0M504.3 918h0M501.9 906.5h0M508.9 917.4h0M508.9 916h0M511.2 912.8h0M510.1 914h0M511 915.4h0M512.2 914.1h0M513.7 914.5h0M515.6 914.4h0M515.9 913.1h0M515.1 907.4h0M518 911.9h0M516.7 911.1h0M518.9 910.3h0M520.6 911.5h0M519.8 909.7h0M522.1 911h0M532.3 935.6h0M522 910.2h0M519.8 900.6h0M536.1 934.3h0M523 910h0M523.7 903.3h0M524.4 902.7h0M526.4 908.3h0M537.5 932.2h0M525.7 902.8h0M528.1 907.7h0M537.9 934.6h0M526.3 907.3h0M540.7 938.9h0M527.3 906.6h0M539.4 931.5h0M540.8 931h0M527.3 899.5h0M529.2 904.5h0M544.1 934.9h0M529.5 899.2h0M544.9 935.2h0M531.9 904.1h0M544.5 928.8h0M532.3 902.1h0M542.8 927.8h0M530.8 898.3h0M544 927.2h0M530.7 902.2h0M547.7 938.2h0M534.8 903.1h0M544.6 928.2h0M532.9 902.4h0M543.5 926.8h0M547.4 930.1h0M532.3 903.6h0M543.7 926.6h0M532.3 903.5h0M525.9 895.3h0M528.9 897h0M551.1 926.5h0M533.1 903.9h0M534.7 902.4h0M549.1 923h0M533.5 899.5h0M549.2 923.9h0M531.9 899.3h0M551.9 926.1h0M531.6 900.8h0M560.8 934.7h0M536.6 901.1h0M536.4 901.3h0M557.6 928.8h0M533.1 895.7h0M565.5 936.9h0M534.2 897.4h0M553.1 922.5h0M536.2 898.5h0M556.6 924.2h0M537.3 899.8h0M553.3 919.8h0M536.7 898.4h0M559.2 925.9h0M537.3 898.5h0M554.4 920.7h0M537.3 896.8h0M554.9 920.7h0M540.2 898.6h0M561.7 928h0M555.1 921.3h0M532.7 889.5h0M561.9 927h0M540.8 897.8h0M557.7 921.9h0M532.9 888.1h0M558.9 923.4h0M541.4 894.3h0M558.8 924.5h0M561.3 924.2h0M540.2 894.2h0M539.9 895.4h0M562.7 922.2h0M540.8 894.9h0M565.4 926.8h0M558.4 921.7h0M540.6 895.2h0M557.5 917.2h0M555.7 915h0M543.1 894.7h0M556.2 915.3h0M543.3 894.5h0M559 917.3h0M559.8 916.4h0M542.2 897.8h0M540.4 892.7h0M556.1 914.8h0M540.2 892.3h0M544.5 895.9h0M559.9 916.5h0M542.8 892.6h0M542.6 890.8h0M561.7 918.6h0M544.6 895.5h0M540.4 891.6h0M559.7 913.8h0M557.7 913.1h0M543.3 894.4h0M543 892h0M575 933.3h0M570.7 929.8h0M539.1 885.6h0M543.4 891.9h0M558.6 911.9h0M562.5 919.2h0M545 893.9h0M561.8 919.2h0M566.8 923.3h0M545.5 893.5h0M563.5 921.1h0M545 892.9h0M548 892.1h0M561.8 913.7h0M545 894.3h0M547.3 892.3h0M564 916.9h0M546.3 893.2h0M562 910.2h0M568.1 920.9h0M542.3 893.4h0M561.7 909h0M563.4 908.8h0M546.1 894.7h0M545.2 894.5h0M561.6 908.3h0M567.6 913.3h0M546.6 895.1h0M544 893.1h0M566.9 911.9h0M546.9 893.6h0M562.7 905.9h0M562.3 905.8h0M547.3 894.7h0M562.6 906.6h0M566.1 908.1h0M542 888h0M579.8 920h0M565 908.6h0M548.3 894.3h0M568 912.2h0M564.9 907.8h0M541.9 887.7h0M548.7 893.9h0M562.8 906.8h0M568.9 912.2h0M545.2 888.2h0M545.9 889h0M569.8 910.9h0M567.6 908.9h0M549.9 890.8h0M546.7 889.2h0M565.7 903.3h0M578.2 915.1h0M551.2 892.5h0M551 888.9h0M563.4 902.2h0M564.8 901.7h0M547.9 889.4h0M546.2 887.9h0M574 913h0M564 902.1h0M552.9 891.6h0M552.1 889.8h0M563.2 901.7h0M577 912h0M551.4 892.1h0M563.3 900.7h0M571.2 906.5h0M545.4 887.2h0M550.2 888.7h0M563.2 900.2h0M565.3 903.1h0M551.1 889.1h0M550.9 888.9h0M564.2 901.6h0M568.9 904.6h0M552.6 890.3h0M552.2 891.3h0M569.7 904.7h0M563.4 898.8h0M551.8 890.7h0M546.6 886.9h0M564.3 899.9h0M569 904h0M550.4 886.9h0M548.2 885h0M572.2 903.9h0M572.3 905.3h0M542.5 879.9h0M554.6 888.7h0M566.2 899.7h0M573.7 905.4h0M554.2 890.3h0M550 885.4h0M568.1 900.7h0M566.9 901h0M556.1 890.6h0M538.2 873.9h0M567 898.3h0M575.8 904.1h0M582.7 912.3h0M557.1 888.7h0M554.7 888.5h0M574.4 904.3h0M572.7 904.5h0M556.7 889h0M558 888.7h0M572.8 904.8h0M569.8 903.6h0M565.5 896.8h0M554 888.8h0M553.1 886.7h0M575.7 904.3h0M567.9 898.4h0M557.2 887.5h0M557.8 887.1h0M566.7 892.6h0M588.4 915.7h0M555 886h0M557.9 889.1h0M568.3 896.2h0M591.7 917.5h0M555.2 885.3h0M559 888.7h0M555.2 886.6h0M565.9 895h0M573.3 900.4h0M566.6 893.2h0M556.1 886.9h0M557 888.8h0M574.6 901h0M574.7 901.6h0M558.5 886.6h0M556.5 884h0M572.6 895.9h0M564.9 893h0M564.4 893.5h0M560.1 886.9h0M558.4 886.4h0M576.8 902.7h0M566.5 894.1h0M570.5 895.5h0M558 884.1h0M557.5 885.8h0M556.7 882.9h0M571.8 896.4h0M569.5 892.9h0M566 892.1h0M562.4 887.4h0M545.9 874.6h0M570.3 893.2h0M567.8 890.9h0M560.8 887.5h0M578.6 899.4h0M569 893h0M557 883.1h0M560.4 886.5h0M581.6 897.9h0M575.7 896.1h0M561.7 887.1h0M556.8 884.8h0M566.6 890.4h0M570.3 894.4h0M571.3 893h0M564.9 886.8h0M561.7 886.5h0M568.4 891.9h0M578.7 894.5h0M563.5 886.8h0M563.4 887.6h0M562.9 886h0M576 895.9h0M575.9 893.4h0M562.6 885h0M562.3 883.8h0M574.7 893.1h0M589.1 898.4h0M572.9 890.6h0M556.6 882.2h0M555.3 879.3h0M568.3 887.7h0M575.8 894.7h0M572.1 891.1h0M561.7 885.6h0M566.7 884.7h0M569.4 890.8h0M576.6 895.6h0M576.5 893.9h0M566.7 887.7h0M561.2 884.6h0M564.2 886.6h0M568.6 886.8h0M577.1 891.2h0M564.8 884.4h0M565.1 884.3h0M560.4 880.8h0M593.4 902.4h0M579.5 892.6h0M569.6 887.3h0M566.5 885.3h0M565.7 884.5h0M570.7 887.4h0M587.8 897.3h0M565.6 882h0M566.1 884.9h0M554.7 876.3h0M576 892h0M572.3 886.6h0M561.1 879.5h0M567.1 882.9h0M570.7 886.1h0M588.8 897.8h0M557.8 874.5h0M563.5 880.3h0M574.9 888.2h0M571.7 884.4h0M580 891.8h0M567.6 883.1h0M559.5 877.9h0M567.3 882.3h0M571.9 885.2h0M592.1 898.4h0M560.7 877.7h0M559.2 877.4h0M571.4 886.4h0M575.3 886.9h0M577.5 889.1h0M565.7 881.2h0M570.5 881.8h0M573.8 885.5h0M570.2 884.2h0M578.1 887.9h0M569.6 882.1h0M554.6 873.9h0M568.1 880.9h0M581.3 891.4h0M584.7 891.9h0M584.7 892.2h0M568.8 882.2h0M563.4 877.6h0M584.3 892.4h0M572.9 883.9h0M556.4 874.3h0M566.4 880.4h0M570.8 883h0M573.4 882.9h0M572.9 883.3h0M564.5 878.5h0M565.6 878.7h0M575.2 885.4h0M588.5 894.2h0M560.6 874.6h0M566.8 876.5h0M562.4 876h0M577.2 885.9h0M579.4 887.1h0M561.3 875.1h0M566.9 877.7h0M559.5 875.3h0M575 884.2h0M576.2 882.4h0M567.4 878.3h0M569.7 880.3h0M579.6 883.6h0M594.6 893.8h0M579.6 884h0M569.8 880.6h0M570.2 877.5h0M572.9 882.1h0M580.9 886.3h0M568.5 876.7h0M556.6 871.9h0M567.9 878h0M572.2 881.2h0M577.9 884.4h0M581.6 884.7h0M563.5 875.1h0M562.1 875.9h0M581.1 886.3h0M574.3 879.6h0M573.3 879.2h0M559.4 872.7h0M560.6 871.2h0M563.5 874.9h0M583.2 884.6h0M589.8 889.7h0M576.1 881h0M562.6 873.3h0M571.6 876.3h0M574.8 880.4h0M578.8 882.6h0M567.9 877.7h0M566.9 874.7h0M569.4 877.5h0M578.5 882.3h0M581.4 884.3h0M581.1 883.6h0M566.6 871.8h0M568.8 874.6h0M585.3 884.2h0M577 880.9h0M579.2 879.7h0M568.5 873.5h0M566.6 873.1h0M556.5 868h0M581.3 882.1h0M586.3 885h0M571.8 876.2h0M570.5 875h0M580 882.5h0M584.1 883.3h0M584.3 883.5h0M560.3 870.3h0M564.3 871.5h0M563.6 870.9h0M575.6 878.7h0M575.4 874.9h0M578.4 876.1h0M559.7 866.2h0M572.9 874.2h0M564.3 870.9h0M580.2 879.6h0M579.9 879.5h0M582.8 880.4h0M570.3 873.1h0M568.3 871.3h0M569.6 872.2h0M583.5 881.2h0M586.5 881.2h0M579.7 876.7h0M569.5 871.6h0M571.6 874.1h0M566 870.1h0M575.9 876.2h0M587.5 884h0M575.3 875.7h0M569 873.6h0M572.7 873.5h0M583.4 880.2h0M613.6 899.1h0M572.7 873.5h0M564.5 867.7h0M580.2 876.5h0M606.2 892.4h0M587.7 881.3h0M567.8 868.3h0M569.8 867.4h0M590.1 881h0M601.4 888.1h0M573.4 871.3h0M566.4 867h0M575.9 872.6h0M580 877.7h0M586.2 879.5h0M581.6 875.9h0M568.2 868.7h0M573.8 869.9h0M581.8 875.6h0M578.9 874.8h0M578.5 875.2h0M573.6 871.1h0M569.1 868.1h0M579.3 874.1h0M590.8 881h0M570.8 869.2h0M576.4 871.9h0M588 879.1h0M584.7 876h0M583.8 876.7h0M572 868.4h0M566.5 865h0M579.5 876.1h0M579.6 873.8h0M583 877.1h0M567.8 866.5h0M575.7 870.3h0M569.9 866.2h0M580.2 871h0M591.3 881.3h0M589.4 876.4h0M573.2 867.8h0M569.6 865.8h0M592.3 880.5h0M578.6 872.6h0M574.1 867.1h0M568.5 864.2h0M571.4 865.6h0M580.4 871.3h0M581.6 872.9h0M578.6 871.9h0M577.3 870.4h0M574.2 867.6h0M576.2 868.6h0M584.9 874.5h0M579.1 870.2h0M591.6 877.3h0M574.2 865.5h0M567.2 863.8h0M569.3 861.1h0M578.2 870.7h0M579.3 871.2h0M580.4 871h0M571.5 867.9h0M570.1 863.9h0M576 868.4h0M582.6 872.6h0M582.7 873.1h0M578.7 870.6h0M578 868.9h0M568.3 862.3h0M569.4 862.9h0M579.6 867.8h0M586.9 874.6h0M574.1 866.8h0M578.1 867.8h0M576.2 865h0M591.4 875.6h0M581.2 870.1h0M570.9 863.4h0M574 863.7h0M572.4 863.6h0M589.9 874.2h0M598.4 881.6h0M576.1 864.6h0M570 862.4h0M598.8 879.9h0M581.8 867.4h0M592 874h0M573.2 865h0M580.4 864.3h0M578.4 864h0M592.6 875.9h0M608.7 886.3h0M576.6 862.2h0M577.7 865.8h0M577.7 865h0M595 877.8h0M601.2 879.6h0M596.2 878.3h0M575 863.4h0M576.3 863.9h0M586.4 868.5h0M588.2 872.1h0M589.8 874.4h0M572.6 860.9h0M576 862.7h0M593.8 873.1h0M590.1 873.5h0M591.2 872.9h0M559.4 853.6h0M572.9 860.6h0M565.8 856.8h0M605.5 879.6h0M593.2 872.3h0M592.5 871.3h0M572.1 860.1h0M570 860.1h0M584.3 868.3h0M590.6 871.3h0M584.9 867.9h0M571.3 857.6h0M577.3 861.6h0M573.3 859.7h0M586.5 868.9h0M589.5 869.6h0M577.7 861.9h0M575.4 862.8h0M572 856.4h0M582.1 864.2h0M584.4 865.5h0M580.7 861.1h0M579 861.7h0M586.4 867.3h0M597.9 873.2h0M578.2 860.8h0M576.1 858.8h0M580 860.8h0M592.3 872.8h0M597.6 873.7h0M582.2 861.4h0M573.8 857.6h0M573.7 856.2h0M584.3 863h0M583.6 864.1h0M599.3 873.3h0M572.2 855.5h0M578.5 860.6h0M580.2 861.5h0M594.5 869.9h0M595.3 871.8h0M574.7 858.7h0M581.1 860.4h0M583.9 860.6h0M598.1 872.1h0M589.3 867.5h0M597.6 873.8h0M578.9 858.2h0M564.7 850.4h0M589.8 865.6h0M588.7 864.6h0M586.9 863.6h0M580.8 858.5h0M577.5 857.2h0M578.4 858h0M593.5 869.6h0M586 862h0M584.1 863.9h0M581.1 858.8h0M571.4 854.1h0M569.2 853.5h0M592.9 866.1h0M607.2 877.2h0M579.6 859.2h0M582.2 859.7h0M571.4 850.4h0M585.1 860.6h0M594.9 867h0M589.7 864h0M578 855.6h0M583.5 860.6h0M576.5 855.3h0M594.9 869.5h0M588.8 863h0M586.9 861.5h0M583.2 858.5h0M576.4 854.7h0M583.6 858.7h0M593 864h0M586.9 860.8h0M587.2 861.1h0M577.4 853.9h0M573 852.2h0M607.9 876.2h0M590.6 863h0M586.4 861.2h0M584.9 859.1h0M578.8 855.7h0M588 858.8h0M593.3 862.9h0M584.5 859.1h0M584.5 857.6h0M584.9 859.9h0M600 867.3h0M586.9 859.7h0M584.8 854.9h0M583.1 856.9h0M581.4 854.8h0M587.9 860.8h0M607.7 872.3h0M618.1 879.1h0M578.6 854.6h0M575.2 851.3h0M587.2 859.7h0M600 865.9h0M579.7 853.5h0M581.1 854.3h0M580.4 853h0M587.8 860h0M597.2 862.2h0M589.7 860.2h0M584.4 854.9h0M577.3 852.4h0M596.1 862.6h0M592.3 859.1h0M587.1 858.9h0M583.4 854h0M575.6 848.2h0M601.1 866h0M590 858.6h0M585.6 856.6h0M576.1 850.7h0M578.5 849h0M607.8 867.2h0M600.1 862h0M591.3 860.1h0M573.7 847.8h0M574.9 845.5h0M590.6 858.4h0M598.8 863.6h0M576.4 848.6h0M574.7 846.1h0M584.2 853.6h0M593.7 859.4h0M593.5 858.5h0M582 851.7h0M586.3 852.4h0M580.5 850h0M590.8 858h0M607.5 866.7h0M600.4 861.6h0M586.6 856h0M584.6 852.9h0M576 845.4h0M599.6 862h0M599.3 862.8h0M590.3 854.4h0M579.1 849.2h0M587.5 853.4h0M588.4 853.8h0M592.8 855.1h0M599.2 860.4h0M600.6 860.9h0M586.1 851.3h0M582.6 850.3h0M573.1 844.3h0M594.2 853.9h0M600.6 860h0M579.7 844.7h0M583.4 850.7h0M593.8 855.6h0M605.2 865.4h0M583.6 850.2h0M588.2 852.2h0M585.8 852.4h0M596 855.5h0M593.1 853.3h0M582.7 848.2h0M582.4 850.2h0M593.9 855.4h0M603.4 858.9h0M585.3 849.2h0M581.9 848h0M595 854.3h0M595.9 852.9h0M586.5 850h0M589.2 850h0M587.5 850h0M604.8 859h0M592.5 852.7h0M581.8 846.7h0M573.1 843.3h0M587.2 848.5h0M593.4 851.6h0M594.1 854.3h0M583.6 845.3h0M580.8 847.5h0M581.4 845.6h0M589.7 852h0M591.6 851.2h0M598.3 854.3h0M588 848.3h0M584.3 847.4h0M610.2 861.4h0M606.3 860h0M613.6 860.2h0M578.5 842.5h0M582.7 846.5h0M614.6 860h0M590.7 851.3h0M594 849.7h0M575.9 840.2h0M587.7 847.1h0M596.6 851.8h0M595.5 851.9h0M588.2 846.4h0M582.8 842.7h0M573.5 841.3h0M596.7 852.6h0M592.5 849.6h0M598.8 851.1h0M590.8 847.5h0M590.6 848h0M602.2 853.2h0M606.1 856.1h0M597.1 851.7h0M587.3 847.2h0M585.9 844.9h0M601.7 852.4h0M592.8 849.7h0M584.8 845.6h0M587.5 844h0M607.5 855.6h0M604.5 852.1h0M586.2 843.5h0M570.6 834.6h0M584.6 844.9h0M594 848.3h0M609.7 857h0M586.1 843.9h0M588.1 845.4h0M592.3 848h0M598.1 850.1h0M589.6 843h0M578.7 838.7h0M608.5 854.8h0M595.9 847.7h0M585.4 842.4h0M590.6 846.1h0M597 847.3h0M594.8 846h0M579.9 839.4h0M585.9 841h0M602.4 851.4h0M603.7 849.6h0M587.9 841.1h0M583.9 841.2h0M605.5 850.6h0M613 852.8h0M590.4 843.2h0M590.4 841.6h0M609.9 853.9h0M600.8 848h0M590.2 843.2h0M581.5 836.4h0M596 843.4h0M601.6 849.2h0M590 839.7h0M593.4 840.9h0M603.8 848.3h0M619 856.5h0M586.2 838.8h0M577.5 834.8h0M615.2 852.4h0M611.6 849.9h0M596.1 844.2h0M586 839.6h0M589.3 838.6h0M611.4 851.4h0M596.4 843.7h0M593.1 841h0M593.1 840.6h0M608.4 850.9h0M596.9 840.9h0M590.4 839.6h0M579.6 834.1h0M602.1 844.9h0M600.7 844.5h0M587 838h0M588.5 837.1h0M619.4 853.6h0M599.6 843.6h0M588.5 836.1h0M578.4 833.8h0M603.3 846.2h0M608.1 846.1h0M587.5 836.3h0M614.1 849.7h0M598.5 843.1h0M592.9 837.8h0M604.8 844.9h0M589.3 836.3h0M580 830h0M604.1 846.2h0M608.7 846.5h0M596.2 838.5h0M593.2 838.3h0M600 843.1h0M598.2 839.4h0M587.4 832.3h0M584 833.3h0M617.8 849.7h0M597.3 838.8h0M591.8 835.1h0M585.4 831.6h0M611 844.9h0M607.3 842.9h0M587.5 833.4h0M600.9 838.8h0M603.2 839.5h0M587.4 832.9h0M588.6 833.3h0M599.6 840.1h0M598.2 837h0M596.8 837.2h0M591.8 832.9h0M601.3 838.6h0M596 837.1h0M589.8 830.9h0M603.4 840.5h0M600.9 835.4h0M590.3 833.7h0M591.8 832.3h0M609 841.9h0M592.8 832.3h0M597.3 834.3h0M601.6 838.9h0M590.4 830.9h0M596.5 834.5h0M598.5 836.5h0M600.5 837.1h0M594.7 833h0M609.1 838.8h0M608.1 839.7h0M596.8 833.3h0M600.2 834.9h0M594.5 830h0M606.8 839.2h0M594.9 831.8h0M601.4 833.4h0M608.3 838.6h0M596 830.5h0M605.1 835.4h0M594.2 829.6h0M593.6 829.1h0M606.5 835.4h0M609.9 835.1h0M588.5 827.9h0M595.4 829.2h0M609 835.7h0M594.3 829h0M602.9 835.3h0M588.5 824h0M592.3 827.5h0M609.5 837h0M606.3 833.8h0M591.9 826.9h0M602.3 830.8h0M598.6 827.9h0M612.1 835.3h0M620.5 840.4h0M600.3 829.8h0M625.9 844.1h0M590.6 824.3h0M615.9 837.6h0M600.9 828.6h0M604.6 830.2h0M605.7 829.8h0M585.5 820.4h0M610.1 835.1h0M599.2 828.4h0M605.7 831h0M599.5 826.1h0M614.9 834.3h0M590.3 821.7h0M603.9 828.5h0M617.5 836.4h0M600.5 826.8h0M604.9 828.2h0M612.4 831.6h0M595.6 823.9h0M624 837.4h0M594.7 821.3h0M616.6 832.6h0M594.2 822.5h0M606.2 824.5h0M599.9 822h0M613.9 830.1h0M627.4 835.7h0M602.9 825.1h0M607.6 825.8h0M592 819.3h0M611.4 827.2h0M596 818.3h0M604.4 823.8h0M610 825.5h0M602.9 822.2h0M607 824.5h0M602.7 821.8h0M609.5 824h0M589.7 814.1h0M615.6 828.9h0M601.1 819h0M614.7 827.1h0M598.7 816.4h0M615.3 828.4h0M594.9 816.1h0M607.9 821.7h0M595.9 813.8h0M607.4 821.2h0M591.8 813.3h0M621.2 829.4h0M595.6 815.2h0M615.7 824.6h0M589.7 812.7h0M611.1 823.3h0M602.7 819.5h0M625.7 830.8h0M602.6 814.4h0M612.1 820.4h0M600.7 814.5h0M613.7 823.3h0M600.6 812.8h0M611.5 817.6h0M602.7 813.9h0M609.5 816.7h0M605.4 816.7h0M621.8 824.2h0M615.2 821.1h0M605.3 814.6h0M612.6 820h0M604.1 811.7h0M621.4 821.8h0M603.8 812.7h0M619.2 818.8h0M603.6 810.7h0M615.3 816.6h0M607.3 814.5h0M617.4 817.2h0M602.8 808.1h0M617.8 818.6h0M608.1 813.1h0M610.7 813.5h0M603.8 809.5h0M631.9 825.8h0M597.4 807.2h0M636.4 825.5h0M614.8 814.2h0M600.8 806.8h0M624.5 820.7h0M592.9 800.6h0M614.2 812.2h0M614.3 813.5h0M605.7 807.8h0M623.1 815h0M608.7 808.4h0M615.3 812.8h0M596.9 802.5h0M638.4 822.1h0M633 819h0M622 814.6h0M608.1 806.4h0M615 810.2h0M620.6 812.9h0M629.8 816.4h0M610 803.8h0M604.1 803.4h0M620 810.5h0M621.8 811.7h0M612.1 804.4h0M616.2 806.9h0M606.1 800.2h0M620.1 806.3h0M593.9 795.6h0M597.5 795.4h0M616.4 803.3h0M606.8 800.3h0M623.7 805.9h0M608.8 800.6h0M606.9 797.7h0M602 794.7h0M620.1 802.4h0M609.6 799h0M619 803.5h0M619.5 801.8h0M642.9 810h0M608.7 794.8h0M640 808.6h0M616.6 798.5h0M614.9 796.4h0M634.5 803.5h0M615.8 796.2h0M612.7 794.8h0M608.9 792.4h0M638.5 804.4h0M605.6 790.2h0M624.8 799.3h0M606.5 789.2h0M646.1 805.9h0M610.1 789.5h0M628.1 797.8h0M617.9 792.7h0M627.6 794.9h0M638.5 801.8h0M610.8 787.3h0M628.4 793.8h0M611.3 786h0M625 793.4h0M628.9 793.4h0M631.4 791.9h0M651.5 799.7h0M600.8 778.2h0M639.4 791.9h0M622.8 786.5h0M637 791.3h0M637.2 789.9h0M612.7 780h0M630.2 787h0M627.9 785.4h0M615.3 779.9h0M619.2 781.8h0M637.9 786.4h0M628.8 781.7h0M621.1 775.2h0M634.7 782.5h0M622.3 775.4h0M629.3 778.9h0M640.3 782.2h0M625.9 775.1h0M637.3 779.8h0M600.1 765.1h0M636.5 778.8h0M612.3 770.2h0M621.5 770.7h0M623.4 772.8h0M643 776.9h0M626.4 770.5h0M642.9 778.9h0M627.8 771.5h0M634.9 771.5h0M650.8 776.6h0M628 765.4h0M619.6 761.8h0M632.8 764.5h0M620.9 760.6h0M633.9 766h0M622.5 758.6h0M634.4 763.7h0M623.6 761.2h0M635.5 764.6h0M623.7 758.6h0M637.4 761.1h0M634.3 759.5h0M648.5 763.8h0M659.5 761.4h0M637.3 751.4h0M642.7 754.4h0M644.9 755.7h0M622.2 744.5h0M634.9 744.7h0M629 744.9h0M665 760.9h0M637 746.3h0M637.5 745.4h0M638.7 745.4h0M632.4 740.7h0M631.5 732.7h0M656.7 747.5h0M649.9 739.9h0M639.3 733.6h0M649.1 737.5h0M641.1 728.7h0M656.1 739.3h0M633.5 722.7h0M651.8 733.6h0M655.6 733.9h0M657.9 735.8h0M629.8 714.2h0M641.9 717.9h0M663.6 723.5h0M649.1 709.5h0M673.1 724.6h0M681.4 714.6h0M645.2 723.7h0M674.3 703.2h0M570.3 842.9h0M444.7 924.4h0M529.9 895.1h0M596.5 907.3h0M581.8 915.9h0M619.7 853.4h0M626.6 843.6h0M612.4 865.7h0M609.9 876.7h0" stroke="#000" stroke-width="3.8" stroke-linecap="round" fill="none"/>
<line x1="513.3" y1="930.2" x2="800" y2="630.3" stroke="#7f7f7f" stroke-width="1.6"/>
<line x1="541.4" y1="930.2" x2="739.2" y2="625.6" stroke="#cc00cc" stroke-width="1.8" stroke-dasharray="7 6.1" stroke-dashoffset="0"/>
</g>
<path d="M71.5 321.4L71.5 317.8M71.5 17.5L71.5 21.1M80.5 321.4L80.5 317.8M80.5 17.5L80.5 21.1M89.5 321.4L89.5 317.8M89.5 17.5L89.5 21.1M98.5 321.4L98.5 317.8M98.5 17.5L98.5 21.1M107.4 321.4L107.4 315M107.4 17.5L107.4 23.9M116.4 321.4L116.4 317.8M116.4 17.5L116.4 21.1M125.4 321.4L125.4 317.8M125.4 17.5L125.4 21.1M134.4 321.4L134.4 317.8M134.4 17.5L134.4 21.1M143.4 321.4L143.4 317.8M143.4 17.5L143.4 21.1M152.4 321.4L152.4 317.8M152.4 17.5L152.4 21.1M161.4 321.4L161.4 317.8M161.4 17.5L161.4 21.1M170.4 321.4L170.4 317.8M170.4 17.5L170.4 21.1M179.3 321.4L179.3 317.8M179.3 17.5L179.3 21.1M188.3 321.4L188.3 317.8M188.3 17.5L188.3 21.1M197.3 321.4L197.3 315M197.3 17.5L197.3 23.9M206.3 321.4L206.3 317.8M206.3 17.5L206.3 21.1M215.3 321.4L215.3 317.8M215.3 17.5L215.3 21.1M224.3 321.4L224.3 317.8M224.3 17.5L224.3 21.1M233.3 321.4L233.3 317.8M233.3 17.5L233.3 21.1M242.3 321.4L242.3 317.8M242.3 17.5L242.3 21.1M251.2 321.4L251.2 317.8M251.2 17.5L251.2 21.1M260.2 321.4L260.2 317.8M260.2 17.5L260.2 21.1M269.2 321.4L269.2 317.8M269.2 17.5L269.2 21.1M278.2 321.4L278.2 317.8M278.2 17.5L278.2 21.1M287.2 321.4L287.2 315M287.2 17.5L287.2 23.9M296.2 321.4L296.2 317.8M296.2 17.5L296.2 21.1M305.2 321.4L305.2 317.8M305.2 17.5L305.2 21.1M314.2 321.4L314.2 317.8M314.2 17.5L314.2 21.1M323.1 321.4L323.1 317.8M323.1 17.5L323.1 21.1M332.1 321.4L332.1 317.8M332.1 17.5L332.1 21.1M341.1 321.4L341.1 317.8M341.1 17.5L341.1 21.1M350.1 321.4L350.1 317.8M350.1 17.5L350.1 21.1M359.1 321.4L359.1 317.8M359.1 17.5L359.1 21.1M368.1 321.4L368.1 317.8M368.1 17.5L368.1 21.1M377.1 321.4L377.1 315M377.1 17.5L377.1 23.9M386.1 321.4L386.1 317.8M386.1 17.5L386.1 21.1M395 321.4L395 317.8M395 17.5L395 21.1M404 321.4L404 317.8M404 17.5L404 21.1M413 321.4L413 317.8M413 17.5L413 21.1M422 321.4L422 317.8M422 17.5L422 21.1M62.5 313.8L66.1 313.8M431 313.8L427.4 313.8M62.5 306.2L66.1 306.2M431 306.2L427.4 306.2M62.5 298.6L66.1 298.6M431 298.6L427.4 298.6M62.5 291L66.1 291M431 291L427.4 291M62.5 283.4L66.1 283.4M431 283.4L427.4 283.4M62.5 275.8L66.1 275.8M431 275.8L427.4 275.8M62.5 268.2L66.1 268.2M431 268.2L427.4 268.2M62.5 260.6L66.1 260.6M431 260.6L427.4 260.6M62.5 253L66.1 253M431 253L427.4 253M62.5 245.4L68.9 245.4M431 245.4L424.6 245.4M62.5 237.8L66.1 237.8M431 237.8L427.4 237.8M62.5 230.2L66.1 230.2M431 230.2L427.4 230.2M62.5 222.6L66.1 222.6M431 222.6L427.4 222.6M62.5 215L66.1 215M431 215L427.4 215M62.5 207.4L66.1 207.4M431 207.4L427.4 207.4M62.5 199.8L66.1 199.8M431 199.8L427.4 199.8M62.5 192.2L66.1 192.2M431 192.2L427.4 192.2M62.5 184.6L66.1 184.6M431 184.6L427.4 184.6M62.5 177L66.1 177M431 177L427.4 177M62.5 169.4L68.9 169.4M431 169.4L424.6 169.4M62.5 161.9L66.1 161.9M431 161.9L427.4 161.9M62.5 154.3L66.1 154.3M431 154.3L427.4 154.3M62.5 146.7L66.1 146.7M431 146.7L427.4 146.7M62.5 139.1L66.1 139.1M431 139.1L427.4 139.1M62.5 131.5L66.1 131.5M431 131.5L427.4 131.5M62.5 123.9L66.1 123.9M431 123.9L427.4 123.9M62.5 116.3L66.1 116.3M431 116.3L427.4 116.3M62.5 108.7L66.1 108.7M431 108.7L427.4 108.7M62.5 101.1L66.1 101.1M431 101.1L427.4 101.1M62.5 93.5L68.9 93.5M431 93.5L424.6 93.5M62.5 85.9L66.1 85.9M431 85.9L427.4 85.9M62.5 78.3L66.1 78.3M431 78.3L427.4 78.3M62.5 70.7L66.1 70.7M431 70.7L427.4 70.7M62.5 63.1L66.1 63.1M431 63.1L427.4 63.1M62.5 55.5L66.1 55.5M431 55.5L427.4 55.5M62.5 47.9L66.1 47.9M431 47.9L427.4 47.9M62.5 40.3L66.1 40.3M431 40.3L427.4 40.3M62.5 32.7L66.1 32.7M431 32.7L427.4 32.7M62.5 25.1L66.1 25.1M431 25.1L427.4 25.1M440 321.4L440 317.8M440 17.5L440 21.1M449 321.4L449 317.8M449 17.5L449 21.1M458 321.4L458 317.8M458 17.5L458 21.1M467 321.4L467 317.8M467 17.5L467 21.1M476 321.4L476 315M476 17.5L476 23.9M485 321.4L485 317.8M485 17.5L485 21.1M494 321.4L494 317.8M494 17.5L494 21.1M503 321.4L503 317.8M503 17.5L503 21.1M512 321.4L512 317.8M512 17.5L512 21.1M521 321.4L521 317.8M521 17.5L521 21.1M530 321.4L530 317.8M530 17.5L530 21.1M539 321.4L539 317.8M539 17.5L539 21.1M548 321.4L548 317.8M548 17.5L548 21.1M557 321.4L557 317.8M557 17.5L557 21.1M566 321.4L566 315M566 17.5L566 23.9M575 321.4L575 317.8M575 17.5L575 21.1M584 321.4L584 317.8M584 17.5L584 21.1M593 321.4L593 317.8M593 17.5L593 21.1M602 321.4L602 317.8M602 17.5L602 21.1M611 321.4L611 317.8M611 17.5L611 21.1M620 321.4L620 317.8M620 17.5L620 21.1M629 321.4L629 317.8M629 17.5L629 21.1M638 321.4L638 317.8M638 17.5L638 21.1M647 321.4L647 317.8M647 17.5L647 21.1M656 321.4L656 315M656 17.5L656 23.9M665 321.4L665 317.8M665 17.5L665 21.1M674 321.4L674 317.8M674 17.5L674 21.1M683 321.4L683 317.8M683 17.5L683 21.1M692 321.4L692 317.8M692 17.5L692 21.1M701 321.4L701 317.8M701 17.5L701 21.1M710 321.4L710 317.8M710 17.5L710 21.1M719 321.4L719 317.8M719 17.5L719 21.1M728 321.4L728 317.8M728 17.5L728 21.1M737 321.4L737 317.8M737 17.5L737 21.1M746 321.4L746 315M746 17.5L746 23.9M755 321.4L755 317.8M755 17.5L755 21.1M764 321.4L764 317.8M764 17.5L764 21.1M773 321.4L773 317.8M773 17.5L773 21.1M782 321.4L782 317.8M782 17.5L782 21.1M791 321.4L791 317.8M791 17.5L791 21.1M431 313.8L434.6 313.8M800 313.8L796.4 313.8M431 306.2L434.6 306.2M800 306.2L796.4 306.2M431 298.6L434.6 298.6M800 298.6L796.4 298.6M431 291L434.6 291M800 291L796.4 291M431 283.4L434.6 283.4M800 283.4L796.4 283.4M431 275.8L434.6 275.8M800 275.8L796.4 275.8M431 268.2L434.6 268.2M800 268.2L796.4 268.2M431 260.6L434.6 260.6M800 260.6L796.4 260.6M431 253L434.6 253M800 253L796.4 253M431 245.4L437.4 245.4M800 245.4L793.6 245.4M431 237.8L434.6 237.8M800 237.8L796.4 237.8M431 230.2L434.6 230.2M800 230.2L796.4 230.2M431 222.6L434.6 222.6M800 222.6L796.4 222.6M431 215L434.6 215M800 215L796.4 215M431 207.4L434.6 207.4M800 207.4L796.4 207.4M431 199.8L434.6 199.8M800 199.8L796.4 199.8M431 192.2L434.6 192.2M800 192.2L796.4 192.2M431 184.6L434.6 184.6M800 184.6L796.4 184.6M431 177L434.6 177M800 177L796.4 177M431 169.4L437.4 169.4M800 169.4L793.6 169.4M431 161.9L434.6 161.9M800 161.9L796.4 161.9M431 154.3L434.6 154.3M800 154.3L796.4 154.3M431 146.7L434.6 146.7M800 146.7L796.4 146.7M431 139.1L434.6 139.1M800 139.1L796.4 139.1M431 131.5L434.6 131.5M800 131.5L796.4 131.5M431 123.9L434.6 123.9M800 123.9L796.4 123.9M431 116.3L434.6 116.3M800 116.3L796.4 116.3M431 108.7L434.6 108.7M800 108.7L796.4 108.7M431 101.1L434.6 101.1M800 101.1L796.4 101.1M431 93.5L437.4 93.5M800 93.5L793.6 93.5M431 85.9L434.6 85.9M800 85.9L796.4 85.9M431 78.3L434.6 78.3M800 78.3L796.4 78.3M431 70.7L434.6 70.7M800 70.7L796.4 70.7M431 63.1L434.6 63.1M800 63.1L796.4 63.1M431 55.5L434.6 55.5M800 55.5L796.4 55.5M431 47.9L434.6 47.9M800 47.9L796.4 47.9M431 40.3L434.6 40.3M800 40.3L796.4 40.3M431 32.7L434.6 32.7M800 32.7L796.4 32.7M431 25.1L434.6 25.1M800 25.1L796.4 25.1M71.5 625.6L71.5 622M71.5 321.4L71.5 325M80.5 625.6L80.5 622M80.5 321.4L80.5 325M89.5 625.6L89.5 622M89.5 321.4L89.5 325M98.5 625.6L98.5 622M98.5 321.4L98.5 325M107.4 625.6L107.4 619.2M107.4 321.4L107.4 327.8M116.4 625.6L116.4 622M116.4 321.4L116.4 325M125.4 625.6L125.4 622M125.4 321.4L125.4 325M134.4 625.6L134.4 622M134.4 321.4L134.4 325M143.4 625.6L143.4 622M143.4 321.4L143.4 325M152.4 625.6L152.4 622M152.4 321.4L152.4 325M161.4 625.6L161.4 622M161.4 321.4L161.4 325M170.4 625.6L170.4 622M170.4 321.4L170.4 325M179.3 625.6L179.3 622M179.3 321.4L179.3 325M188.3 625.6L188.3 622M188.3 321.4L188.3 325M197.3 625.6L197.3 619.2M197.3 321.4L197.3 327.8M206.3 625.6L206.3 622M206.3 321.4L206.3 325M215.3 625.6L215.3 622M215.3 321.4L215.3 325M224.3 625.6L224.3 622M224.3 321.4L224.3 325M233.3 625.6L233.3 622M233.3 321.4L233.3 325M242.3 625.6L242.3 622M242.3 321.4L242.3 325M251.2 625.6L251.2 622M251.2 321.4L251.2 325M260.2 625.6L260.2 622M260.2 321.4L260.2 325M269.2 625.6L269.2 622M269.2 321.4L269.2 325M278.2 625.6L278.2 622M278.2 321.4L278.2 325M287.2 625.6L287.2 619.2M287.2 321.4L287.2 327.8M296.2 625.6L296.2 622M296.2 321.4L296.2 325M305.2 625.6L305.2 622M305.2 321.4L305.2 325M314.2 625.6L314.2 622M314.2 321.4L314.2 325M323.1 625.6L323.1 622M323.1 321.4L323.1 325M332.1 625.6L332.1 622M332.1 321.4L332.1 325M341.1 625.6L341.1 622M341.1 321.4L341.1 325M350.1 625.6L350.1 622M350.1 321.4L350.1 325M359.1 625.6L359.1 622M359.1 321.4L359.1 325M368.1 625.6L368.1 622M368.1 321.4L368.1 325M377.1 625.6L377.1 619.2M377.1 321.4L377.1 327.8M386.1 625.6L386.1 622M386.1 321.4L386.1 325M395 625.6L395 622M395 321.4L395 325M404 625.6L404 622M404 321.4L404 325M413 625.6L413 622M413 321.4L413 325M422 625.6L422 622M422 321.4L422 325M62.5 618L66.1 618M431 618L427.4 618M62.5 610.4L66.1 610.4M431 610.4L427.4 610.4M62.5 602.8L66.1 602.8M431 602.8L427.4 602.8M62.5 595.2L66.1 595.2M431 595.2L427.4 595.2M62.5 587.6L66.1 587.6M431 587.6L427.4 587.6M62.5 580L66.1 580M431 580L427.4 580M62.5 572.4L66.1 572.4M431 572.4L427.4 572.4M62.5 564.8L66.1 564.8M431 564.8L427.4 564.8M62.5 557.2L66.1 557.2M431 557.2L427.4 557.2M62.5 549.5L68.9 549.5M431 549.5L424.6 549.5M62.5 541.9L66.1 541.9M431 541.9L427.4 541.9M62.5 534.3L66.1 534.3M431 534.3L427.4 534.3M62.5 526.7L66.1 526.7M431 526.7L427.4 526.7M62.5 519.1L66.1 519.1M431 519.1L427.4 519.1M62.5 511.5L66.1 511.5M431 511.5L427.4 511.5M62.5 503.9L66.1 503.9M431 503.9L427.4 503.9M62.5 496.3L66.1 496.3M431 496.3L427.4 496.3M62.5 488.7L66.1 488.7M431 488.7L427.4 488.7M62.5 481.1L66.1 481.1M431 481.1L427.4 481.1M62.5 473.5L68.9 473.5M431 473.5L424.6 473.5M62.5 465.9L66.1 465.9M431 465.9L427.4 465.9M62.5 458.3L66.1 458.3M431 458.3L427.4 458.3M62.5 450.7L66.1 450.7M431 450.7L427.4 450.7M62.5 443.1L66.1 443.1M431 443.1L427.4 443.1M62.5 435.5L66.1 435.5M431 435.5L427.4 435.5M62.5 427.9L66.1 427.9M431 427.9L427.4 427.9M62.5 420.3L66.1 420.3M431 420.3L427.4 420.3M62.5 412.7L66.1 412.7M431 412.7L427.4 412.7M62.5 405.1L66.1 405.1M431 405.1L427.4 405.1M62.5 397.4L68.9 397.4M431 397.4L424.6 397.4M62.5 389.8L66.1 389.8M431 389.8L427.4 389.8M62.5 382.2L66.1 382.2M431 382.2L427.4 382.2M62.5 374.6L66.1 374.6M431 374.6L427.4 374.6M62.5 367L66.1 367M431 367L427.4 367M62.5 359.4L66.1 359.4M431 359.4L427.4 359.4M62.5 351.8L66.1 351.8M431 351.8L427.4 351.8M62.5 344.2L66.1 344.2M431 344.2L427.4 344.2M62.5 336.6L66.1 336.6M431 336.6L427.4 336.6M62.5 329L66.1 329M431 329L427.4 329M440 625.6L440 622M440 321.4L440 325M449 625.6L449 622M449 321.4L449 325M458 625.6L458 622M458 321.4L458 325M467 625.6L467 622M467 321.4L467 325M476 625.6L476 619.2M476 321.4L476 327.8M485 625.6L485 622M485 321.4L485 325M494 625.6L494 622M494 321.4L494 325M503 625.6L503 622M503 321.4L503 325M512 625.6L512 622M512 321.4L512 325M521 625.6L521 622M521 321.4L521 325M530 625.6L530 622M530 321.4L530 325M539 625.6L539 622M539 321.4L539 325M548 625.6L548 622M548 321.4L548 325M557 625.6L557 622M557 321.4L557 325M566 625.6L566 619.2M566 321.4L566 327.8M575 625.6L575 622M575 321.4L575 325M584 625.6L584 622M584 321.4L584 325M593 625.6L593 622M593 321.4L593 325M602 625.6L602 622M602 321.4L602 325M611 625.6L611 622M611 321.4L611 325M620 625.6L620 622M620 321.4L620 325M629 625.6L629 622M629 321.4L629 325M638 625.6L638 622M638 321.4L638 325M647 625.6L647 622M647 321.4L647 325M656 625.6L656 619.2M656 321.4L656 327.8M665 625.6L665 622M665 321.4L665 325M674 625.6L674 622M674 321.4L674 325M683 625.6L683 622M683 321.4L683 325M692 625.6L692 622M692 321.4L692 325M701 625.6L701 622M701 321.4L701 325M710 625.6L710 622M710 321.4L710 325M719 625.6L719 622M719 321.4L719 325M728 625.6L728 622M728 321.4L728 325M737 625.6L737 622M737 321.4L737 325M746 625.6L746 619.2M746 321.4L746 327.8M755 625.6L755 622M755 321.4L755 325M764 625.6L764 622M764 321.4L764 325M773 625.6L773 622M773 321.4L773 325M782 625.6L782 622M782 321.4L782 325M791 625.6L791 622M791 321.4L791 325M431 618L434.6 618M800 618L796.4 618M431 610.4L434.6 610.4M800 610.4L796.4 610.4M431 602.8L434.6 602.8M800 602.8L796.4 602.8M431 595.2L434.6 595.2M800 595.2L796.4 595.2M431 587.6L434.6 587.6M800 587.6L796.4 587.6M431 580L434.6 580M800 580L796.4 580M431 572.4L434.6 572.4M800 572.4L796.4 572.4M431 564.8L434.6 564.8M800 564.8L796.4 564.8M431 557.2L434.6 557.2M800 557.2L796.4 557.2M431 549.5L437.4 549.5M800 549.5L793.6 549.5M431 541.9L434.6 541.9M800 541.9L796.4 541.9M431 534.3L434.6 534.3M800 534.3L796.4 534.3M431 526.7L434.6 526.7M800 526.7L796.4 526.7M431 519.1L434.6 519.1M800 519.1L796.4 519.1M431 511.5L434.6 511.5M800 511.5L796.4 511.5M431 503.9L434.6 503.9M800 503.9L796.4 503.9M431 496.3L434.6 496.3M800 496.3L796.4 496.3M431 488.7L434.6 488.7M800 488.7L796.4 488.7M431 481.1L434.6 481.1M800 481.1L796.4 481.1M431 473.5L437.4 473.5M800 473.5L793.6 473.5M431 465.9L434.6 465.9M800 465.9L796.4 465.9M431 458.3L434.6 458.3M800 458.3L796.4 458.3M431 450.7L434.6 450.7M800 450.7L796.4 450.7M431 443.1L434.6 443.1M800 443.1L796.4 443.1M431 435.5L434.6 435.5M800 435.5L796.4 435.5M431 427.9L434.6 427.9M800 427.9L796.4 427.9M431 420.3L434.6 420.3M800 420.3L796.4 420.3M431 412.7L434.6 412.7M800 412.7L796.4 412.7M431 405.1L434.6 405.1M800 405.1L796.4 405.1M431 397.4L437.4 397.4M800 397.4L793.6 397.4M431 389.8L434.6 389.8M800 389.8L796.4 389.8M431 382.2L434.6 382.2M800 382.2L796.4 382.2M431 374.6L434.6 374.6M800 374.6L796.4 374.6M431 367L434.6 367M800 367L796.4 367M431 359.4L434.6 359.4M800 359.4L796.4 359.4M431 351.8L434.6 351.8M800 351.8L796.4 351.8M431 344.2L434.6 344.2M800 344.2L796.4 344.2M431 336.6L434.6 336.6M800 336.6L796.4 336.6M431 329L434.6 329M800 329L796.4 329M71.5 930.2L71.5 926.6M71.5 625.6L71.5 629.2M80.5 930.2L80.5 926.6M80.5 625.6L80.5 629.2M89.5 930.2L89.5 926.6M89.5 625.6L89.5 629.2M98.5 930.2L98.5 926.6M98.5 625.6L98.5 629.2M107.4 930.2L107.4 923.8M107.4 625.6L107.4 632M116.4 930.2L116.4 926.6M116.4 625.6L116.4 629.2M125.4 930.2L125.4 926.6M125.4 625.6L125.4 629.2M134.4 930.2L134.4 926.6M134.4 625.6L134.4 629.2M143.4 930.2L143.4 926.6M143.4 625.6L143.4 629.2M152.4 930.2L152.4 926.6M152.4 625.6L152.4 629.2M161.4 930.2L161.4 926.6M161.4 625.6L161.4 629.2M170.4 930.2L170.4 926.6M170.4 625.6L170.4 629.2M179.3 930.2L179.3 926.6M179.3 625.6L179.3 629.2M188.3 930.2L188.3 926.6M188.3 625.6L188.3 629.2M197.3 930.2L197.3 923.8M197.3 625.6L197.3 632M206.3 930.2L206.3 926.6M206.3 625.6L206.3 629.2M215.3 930.2L215.3 926.6M215.3 625.6L215.3 629.2M224.3 930.2L224.3 926.6M224.3 625.6L224.3 629.2M233.3 930.2L233.3 926.6M233.3 625.6L233.3 629.2M242.3 930.2L242.3 926.6M242.3 625.6L242.3 629.2M251.2 930.2L251.2 926.6M251.2 625.6L251.2 629.2M260.2 930.2L260.2 926.6M260.2 625.6L260.2 629.2M269.2 930.2L269.2 926.6M269.2 625.6L269.2 629.2M278.2 930.2L278.2 926.6M278.2 625.6L278.2 629.2M287.2 930.2L287.2 923.8M287.2 625.6L287.2 632M296.2 930.2L296.2 926.6M296.2 625.6L296.2 629.2M305.2 930.2L305.2 926.6M305.2 625.6L305.2 629.2M314.2 930.2L314.2 926.6M314.2 625.6L314.2 629.2M323.1 930.2L323.1 926.6M323.1 625.6L323.1 629.2M332.1 930.2L332.1 926.6M332.1 625.6L332.1 629.2M341.1 930.2L341.1 926.6M341.1 625.6L341.1 629.2M350.1 930.2L350.1 926.6M350.1 625.6L350.1 629.2M359.1 930.2L359.1 926.6M359.1 625.6L359.1 629.2M368.1 930.2L368.1 926.6M368.1 625.6L368.1 629.2M377.1 930.2L377.1 923.8M377.1 625.6L377.1 632M386.1 930.2L386.1 926.6M386.1 625.6L386.1 629.2M395 930.2L395 926.6M395 625.6L395 629.2M404 930.2L404 926.6M404 625.6L404 629.2M413 930.2L413 926.6M413 625.6L413 629.2M422 930.2L422 926.6M422 625.6L422 629.2M62.5 922.6L66.1 922.6M431 922.6L427.4 922.6M62.5 915L66.1 915M431 915L427.4 915M62.5 907.4L66.1 907.4M431 907.4L427.4 907.4M62.5 899.7L66.1 899.7M431 899.7L427.4 899.7M62.5 892.1L66.1 892.1M431 892.1L427.4 892.1M62.5 884.5L66.1 884.5M431 884.5L427.4 884.5M62.5 876.9L66.1 876.9M431 876.9L427.4 876.9M62.5 869.3L66.1 869.3M431 869.3L427.4 869.3M62.5 861.7L66.1 861.7M431 861.7L427.4 861.7M62.5 854.1L68.9 854.1M431 854.1L424.6 854.1M62.5 846.4L66.1 846.4M431 846.4L427.4 846.4M62.5 838.8L66.1 838.8M431 838.8L427.4 838.8M62.5 831.2L66.1 831.2M431 831.2L427.4 831.2M62.5 823.6L66.1 823.6M431 823.6L427.4 823.6M62.5 816L66.1 816M431 816L427.4 816M62.5 808.4L66.1 808.4M431 808.4L427.4 808.4M62.5 800.7L66.1 800.7M431 800.7L427.4 800.7M62.5 793.1L66.1 793.1M431 793.1L427.4 793.1M62.5 785.5L66.1 785.5M431 785.5L427.4 785.5M62.5 777.9L68.9 777.9M431 777.9L424.6 777.9M62.5 770.3L66.1 770.3M431 770.3L427.4 770.3M62.5 762.7L66.1 762.7M431 762.7L427.4 762.7M62.5 755.1L66.1 755.1M431 755.1L427.4 755.1M62.5 747.4L66.1 747.4M431 747.4L427.4 747.4M62.5 739.8L66.1 739.8M431 739.8L427.4 739.8M62.5 732.2L66.1 732.2M431 732.2L427.4 732.2M62.5 724.6L66.1 724.6M431 724.6L427.4 724.6M62.5 717L66.1 717M431 717L427.4 717M62.5 709.4L66.1 709.4M431 709.4L427.4 709.4M62.5 701.8L68.9 701.8M431 701.8L424.6 701.8M62.5 694.1L66.1 694.1M431 694.1L427.4 694.1M62.5 686.5L66.1 686.5M431 686.5L427.4 686.5M62.5 678.9L66.1 678.9M431 678.9L427.4 678.9M62.5 671.3L66.1 671.3M431 671.3L427.4 671.3M62.5 663.7L66.1 663.7M431 663.7L427.4 663.7M62.5 656.1L66.1 656.1M431 656.1L427.4 656.1M62.5 648.4L66.1 648.4M431 648.4L427.4 648.4M62.5 640.8L66.1 640.8M431 640.8L427.4 640.8M62.5 633.2L66.1 633.2M431 633.2L427.4 633.2M440 930.2L440 926.6M440 625.6L440 629.2M449 930.2L449 926.6M449 625.6L449 629.2M458 930.2L458 926.6M458 625.6L458 629.2M467 930.2L467 926.6M467 625.6L467 629.2M476 930.2L476 923.8M476 625.6L476 632M485 930.2L485 926.6M485 625.6L485 629.2M494 930.2L494 926.6M494 625.6L494 629.2M503 930.2L503 926.6M503 625.6L503 629.2M512 930.2L512 926.6M512 625.6L512 629.2M521 930.2L521 926.6M521 625.6L521 629.2M530 930.2L530 926.6M530 625.6L530 629.2M539 930.2L539 926.6M539 625.6L539 629.2M548 930.2L548 926.6M548 625.6L548 629.2M557 930.2L557 926.6M557 625.6L557 629.2M566 930.2L566 923.8M566 625.6L566 632M575 930.2L575 926.6M575 625.6L575 629.2M584 930.2L584 926.6M584 625.6L584 629.2M593 930.2L593 926.6M593 625.6L593 629.2M602 930.2L602 926.6M602 625.6L602 629.2M611 930.2L611 926.6M611 625.6L611 629.2M620 930.2L620 926.6M620 625.6L620 629.2M629 930.2L629 926.6M629 625.6L629 629.2M638 930.2L638 926.6M638 625.6L638 629.2M647 930.2L647 926.6M647 625.6L647 629.2M656 930.2L656 923.8M656 625.6L656 632M665 930.2L665 926.6M665 625.6L665 629.2M674 930.2L674 926.6M674 625.6L674 629.2M683 930.2L683 926.6M683 625.6L683 629.2M692 930.2L692 926.6M692 625.6L692 629.2M701 930.2L701 926.6M701 625.6L701 629.2M710 930.2L710 926.6M710 625.6L710 629.2M719 930.2L719 926.6M719 625.6L719 629.2M728 930.2L728 926.6M728 625.6L728 629.2M737 930.2L737 926.6M737 625.6L737 629.2M746 930.2L746 923.8M746 625.6L746 632M755 930.2L755 926.6M755 625.6L755 629.2M764 930.2L764 926.6M764 625.6L764 629.2M773 930.2L773 926.6M773 625.6L773 629.2M782 930.2L782 926.6M782 625.6L782 629.2M791 930.2L791 926.6M791 625.6L791 629.2M431 922.6L434.6 922.6M800 922.6L796.4 922.6M431 915L434.6 915M800 915L796.4 915M431 907.4L434.6 907.4M800 907.4L796.4 907.4M431 899.7L434.6 899.7M800 899.7L796.4 899.7M431 892.1L434.6 892.1M800 892.1L796.4 892.1M431 884.5L434.6 884.5M800 884.5L796.4 884.5M431 876.9L434.6 876.9M800 876.9L796.4 876.9M431 869.3L434.6 869.3M800 869.3L796.4 869.3M431 861.7L434.6 861.7M800 861.7L796.4 861.7M431 854.1L437.4 854.1M800 854.1L793.6 854.1M431 846.4L434.6 846.4M800 846.4L796.4 846.4M431 838.8L434.6 838.8M800 838.8L796.4 838.8M431 831.2L434.6 831.2M800 831.2L796.4 831.2M431 823.6L434.6 823.6M800 823.6L796.4 823.6M431 816L434.6 816M800 816L796.4 816M431 808.4L434.6 808.4M800 808.4L796.4 808.4M431 800.7L434.6 800.7M800 800.7L796.4 800.7M431 793.1L434.6 793.1M800 793.1L796.4 793.1M431 785.5L434.6 785.5M800 785.5L796.4 785.5M431 777.9L437.4 777.9M800 777.9L793.6 777.9M431 770.3L434.6 770.3M800 770.3L796.4 770.3M431 762.7L434.6 762.7M800 762.7L796.4 762.7M431 755.1L434.6 755.1M800 755.1L796.4 755.1M431 747.4L434.6 747.4M800 747.4L796.4 747.4M431 739.8L434.6 739.8M800 739.8L796.4 739.8M431 732.2L434.6 732.2M800 732.2L796.4 732.2M431 724.6L434.6 724.6M800 724.6L796.4 724.6M431 717L434.6 717M800 717L796.4 717M431 709.4L434.6 709.4M800 709.4L796.4 709.4M431 701.8L437.4 701.8M800 701.8L793.6 701.8M431 694.1L434.6 694.1M800 694.1L796.4 694.1M431 686.5L434.6 686.5M800 686.5L796.4 686.5M431 678.9L434.6 678.9M800 678.9L796.4 678.9M431 671.3L434.6 671.3M800 671.3L796.4 671.3M431 663.7L434.6 663.7M800 663.7L796.4 663.7M431 656.1L434.6 656.1M800 656.1L796.4 656.1M431 648.4L434.6 648.4M800 648.4L796.4 648.4M431 640.8L434.6 640.8M800 640.8L796.4 640.8M431 633.2L434.6 633.2M800 633.2L796.4 633.2" stroke="#000" stroke-width="1.9" fill="none"/>
<line x1="62.5" y1="16.4" x2="62.5" y2="931.4" stroke="#000" stroke-width="2.3"/>
<line x1="431" y1="16.4" x2="431" y2="931.4" stroke="#000" stroke-width="2.3"/>
<line x1="800" y1="16.4" x2="800" y2="931.4" stroke="#000" stroke-width="2.3"/>
<line x1="61.4" y1="17.5" x2="801.1" y2="17.5" stroke="#000" stroke-width="2.3"/>
<line x1="61.4" y1="321.4" x2="801.1" y2="321.4" stroke="#000" stroke-width="2.3"/>
<line x1="61.4" y1="625.6" x2="801.1" y2="625.6" stroke="#000" stroke-width="2.3"/>
<line x1="61.4" y1="930.2" x2="801.1" y2="930.2" stroke="#000" stroke-width="2.3"/>
<text x="55.8" y="30.1" font-size="17.5" fill="#000" text-anchor="end" textLength="20.6" lengthAdjust="spacingAndGlyphs" >10</text>
<text x="55.8" y="100.4" font-size="17.5" fill="#000" text-anchor="end" textLength="10.6" lengthAdjust="spacingAndGlyphs" >9</text>
<text x="55.8" y="176.3" font-size="17.5" fill="#000" text-anchor="end" textLength="10.6" lengthAdjust="spacingAndGlyphs" >8</text>
<text x="55.8" y="252.3" font-size="17.5" fill="#000" text-anchor="end" textLength="10.6" lengthAdjust="spacingAndGlyphs" >7</text>
<text x="56.6" y="321.8" font-size="17.5" fill="#000" text-anchor="end" textLength="10.6" lengthAdjust="spacingAndGlyphs" >6</text>
<g transform="translate(17.1 204.2) rotate(-90)">
<text x="0" y="0" font-size="16" fill="#000" text-anchor="start" textLength="44.8" lengthAdjust="spacingAndGlyphs" >log(M</text>
<text x="45.2" y="5.3" font-size="9.5" fill="#000" text-anchor="start" textLength="14.6" lengthAdjust="spacingAndGlyphs" font-weight="bold">BH</text>
<text x="61.3" y="0" font-size="16" fill="#000" text-anchor="start" textLength="6.3" lengthAdjust="spacingAndGlyphs" >)</text>
</g>
<text x="55.8" y="334" font-size="17.5" fill="#000" text-anchor="end" textLength="20.6" lengthAdjust="spacingAndGlyphs" >10</text>
<text x="55.8" y="404.3" font-size="17.5" fill="#000" text-anchor="end" textLength="10.6" lengthAdjust="spacingAndGlyphs" >9</text>
<text x="55.8" y="480.4" font-size="17.5" fill="#000" text-anchor="end" textLength="10.6" lengthAdjust="spacingAndGlyphs" >8</text>
<text x="55.8" y="556.4" font-size="17.5" fill="#000" text-anchor="end" textLength="10.6" lengthAdjust="spacingAndGlyphs" >7</text>
<text x="56.6" y="626" font-size="17.5" fill="#000" text-anchor="end" textLength="10.6" lengthAdjust="spacingAndGlyphs" >6</text>
<g transform="translate(17.1 508.3) rotate(-90)">
<text x="0" y="0" font-size="16" fill="#000" text-anchor="start" textLength="44.8" lengthAdjust="spacingAndGlyphs" >log(M</text>
<text x="45.2" y="5.3" font-size="9.5" fill="#000" text-anchor="start" textLength="14.6" lengthAdjust="spacingAndGlyphs" font-weight="bold">BH</text>
<text x="61.3" y="0" font-size="16" fill="#000" text-anchor="start" textLength="6.3" lengthAdjust="spacingAndGlyphs" >)</text>
</g>
<text x="55.8" y="638.2" font-size="17.5" fill="#000" text-anchor="end" textLength="20.6" lengthAdjust="spacingAndGlyphs" >10</text>
<text x="55.8" y="708.6" font-size="17.5" fill="#000" text-anchor="end" textLength="10.6" lengthAdjust="spacingAndGlyphs" >9</text>
<text x="55.8" y="784.8" font-size="17.5" fill="#000" text-anchor="end" textLength="10.6" lengthAdjust="spacingAndGlyphs" >8</text>
<text x="55.8" y="861" font-size="17.5" fill="#000" text-anchor="end" textLength="10.6" lengthAdjust="spacingAndGlyphs" >7</text>
<text x="56.6" y="930.6" font-size="17.5" fill="#000" text-anchor="end" textLength="10.6" lengthAdjust="spacingAndGlyphs" >6</text>
<g transform="translate(17.1 812.7) rotate(-90)">
<text x="0" y="0" font-size="16" fill="#000" text-anchor="start" textLength="44.8" lengthAdjust="spacingAndGlyphs" >log(M</text>
<text x="45.2" y="5.3" font-size="9.5" fill="#000" text-anchor="start" textLength="14.6" lengthAdjust="spacingAndGlyphs" font-weight="bold">BH</text>
<text x="61.3" y="0" font-size="16" fill="#000" text-anchor="start" textLength="6.3" lengthAdjust="spacingAndGlyphs" >)</text>
</g>
<text x="107.4" y="957.1" font-size="17.5" fill="#000" text-anchor="middle" textLength="10.6" lengthAdjust="spacingAndGlyphs" >9</text>
<text x="197.3" y="957.1" font-size="17.5" fill="#000" text-anchor="middle" textLength="20.6" lengthAdjust="spacingAndGlyphs" >10</text>
<text x="287.2" y="957.1" font-size="17.5" fill="#000" text-anchor="middle" textLength="20.6" lengthAdjust="spacingAndGlyphs" >11</text>
<text x="377.1" y="957.1" font-size="17.5" fill="#000" text-anchor="middle" textLength="20.6" lengthAdjust="spacingAndGlyphs" >12</text>
<text x="215.6" y="978.8" font-size="16" fill="#000" text-anchor="start" textLength="45" lengthAdjust="spacingAndGlyphs" >log(M</text>
<circle cx="266.2" cy="980.6" r="1.9" fill="#000"/>
<text x="270.6" y="978.8" font-size="16" fill="#000" text-anchor="start" >)</text>
<text x="476" y="957.1" font-size="17.5" fill="#000" text-anchor="middle" textLength="10.6" lengthAdjust="spacingAndGlyphs" >9</text>
<text x="566" y="957.1" font-size="17.5" fill="#000" text-anchor="middle" textLength="20.6" lengthAdjust="spacingAndGlyphs" >10</text>
<text x="656" y="957.1" font-size="17.5" fill="#000" text-anchor="middle" textLength="20.6" lengthAdjust="spacingAndGlyphs" >11</text>
<text x="746" y="957.1" font-size="17.5" fill="#000" text-anchor="middle" textLength="20.6" lengthAdjust="spacingAndGlyphs" >12</text>
<text x="584.3" y="978.8" font-size="16" fill="#000" text-anchor="start" textLength="45" lengthAdjust="spacingAndGlyphs" >log(M</text>
<circle cx="634.9" cy="980.6" r="1.9" fill="#000"/>
<text x="639.3" y="978.8" font-size="16" fill="#000" text-anchor="start" >)</text>
<text x="79.5" y="50" font-size="23" fill="#000" text-anchor="start" textLength="83" lengthAdjust="spacingAndGlyphs" >z=0.06</text>
<text x="79.5" y="70.6" font-size="14.6" fill="#0000f0" text-anchor="start" textLength="119" lengthAdjust="spacingAndGlyphs" stroke="#0000f0" stroke-width="0.3">Bennert+ 2011a</text>
<text x="79.5" y="87.7" font-size="14.6" fill="#08ee08" text-anchor="start" textLength="159" lengthAdjust="spacingAndGlyphs" stroke="#08ee08" stroke-width="0.3">McConnell &amp; Ma 2013</text>
<text x="79.5" y="103.6" font-size="14.6" fill="#ffaa00" text-anchor="start" textLength="159" lengthAdjust="spacingAndGlyphs" stroke="#ffaa00" stroke-width="0.3">Kormendy &amp; Ho 2013</text>
<text x="448.2" y="50" font-size="23" fill="#000" text-anchor="start" textLength="69" lengthAdjust="spacingAndGlyphs" >z=0.3</text>
<text x="79.5" y="354.1" font-size="23" fill="#000" text-anchor="start" textLength="68.5" lengthAdjust="spacingAndGlyphs" >z=0.6</text>
<text x="448.2" y="354.1" font-size="23" fill="#000" text-anchor="start" textLength="45" lengthAdjust="spacingAndGlyphs" >z=1</text>
<text x="448.2" y="374.7" font-size="14.6" fill="#0000f0" text-anchor="start" textLength="120" lengthAdjust="spacingAndGlyphs" stroke="#0000f0" stroke-width="0.3">Bennert+ 2011b</text>
<text x="448.2" y="391.7" font-size="14.6" fill="#e8200a" text-anchor="start" textLength="106.5" lengthAdjust="spacingAndGlyphs" stroke="#e8200a" stroke-width="0.3">Merloni+ 2010</text>
<text x="79.5" y="658.3" font-size="23" fill="#000" text-anchor="start" textLength="45" lengthAdjust="spacingAndGlyphs" >z=2</text>
<text x="79.5" y="679.3" font-size="14.6" fill="#0000f0" text-anchor="start" textLength="120" lengthAdjust="spacingAndGlyphs" stroke="#0000f0" stroke-width="0.3">Bennert+ 2011b</text>
<text x="79.5" y="696.2" font-size="14.6" fill="#e8200a" text-anchor="start" textLength="106.5" lengthAdjust="spacingAndGlyphs" stroke="#e8200a" stroke-width="0.3">Merloni+ 2010</text>
<text x="448.2" y="658.3" font-size="23" fill="#000" text-anchor="start" textLength="45" lengthAdjust="spacingAndGlyphs" >z=4</text>
</svg>
</body></html>
